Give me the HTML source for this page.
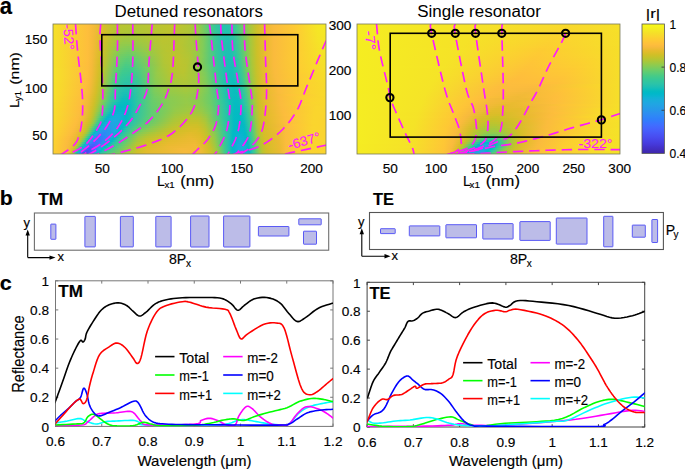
<!DOCTYPE html>
<html><head><meta charset="utf-8"><style>
html,body{margin:0;padding:0;background:#fff;}
svg{display:block;}
text{font-family:"Liberation Sans", sans-serif;stroke-width:0.15px;}
</style></head><body>
<svg width="685" height="471" viewBox="0 0 685 471">
<defs><linearGradient id="hl0"><stop offset="0" stop-color="#f5e128"/><stop offset="0.128" stop-color="#febe3c"/><stop offset="0.154" stop-color="#f2ba37"/><stop offset="0.19" stop-color="#d2bf27"/><stop offset="0.227" stop-color="#b8c431"/><stop offset="0.326" stop-color="#b5c533"/><stop offset="0.447" stop-color="#c1c32c"/><stop offset="0.498" stop-color="#b3c534"/><stop offset="0.535" stop-color="#91ca4c"/><stop offset="0.579" stop-color="#47cb87"/><stop offset="0.601" stop-color="#30c5a1"/><stop offset="0.63" stop-color="#23c1af"/><stop offset="0.652" stop-color="#2dc4a6"/><stop offset="0.67" stop-color="#3fca8e"/><stop offset="0.718" stop-color="#a0c841"/><stop offset="0.744" stop-color="#c9c129"/><stop offset="0.773" stop-color="#e7bb2e"/><stop offset="0.81" stop-color="#fabb3d"/><stop offset="0.886" stop-color="#feca33"/><stop offset="0.967" stop-color="#f5e725"/><stop offset="1" stop-color="#f5eb23"/></linearGradient><linearGradient id="hl1"><stop offset="0" stop-color="#f5e128"/><stop offset="0.128" stop-color="#febe3c"/><stop offset="0.15" stop-color="#f4ba39"/><stop offset="0.187" stop-color="#d5be28"/><stop offset="0.223" stop-color="#b9c431"/><stop offset="0.3" stop-color="#b2c635"/><stop offset="0.443" stop-color="#c0c32d"/><stop offset="0.498" stop-color="#b2c635"/><stop offset="0.535" stop-color="#92ca4b"/><stop offset="0.571" stop-color="#55cc7c"/><stop offset="0.593" stop-color="#36c799"/><stop offset="0.623" stop-color="#24c2ae"/><stop offset="0.645" stop-color="#26c2ac"/><stop offset="0.67" stop-color="#3eca8f"/><stop offset="0.714" stop-color="#99c946"/><stop offset="0.744" stop-color="#c9c129"/><stop offset="0.773" stop-color="#e7bb2e"/><stop offset="0.81" stop-color="#fabb3d"/><stop offset="0.886" stop-color="#feca33"/><stop offset="0.967" stop-color="#f5e625"/><stop offset="1" stop-color="#f5ea24"/></linearGradient><linearGradient id="hl2"><stop offset="0" stop-color="#f5e128"/><stop offset="0.128" stop-color="#febe3c"/><stop offset="0.15" stop-color="#f3ba39"/><stop offset="0.187" stop-color="#d5be28"/><stop offset="0.227" stop-color="#b6c532"/><stop offset="0.297" stop-color="#b0c636"/><stop offset="0.436" stop-color="#bfc32d"/><stop offset="0.498" stop-color="#b1c636"/><stop offset="0.535" stop-color="#93ca4b"/><stop offset="0.568" stop-color="#5dcc75"/><stop offset="0.59" stop-color="#39c994"/><stop offset="0.619" stop-color="#26c2ad"/><stop offset="0.641" stop-color="#23c1af"/><stop offset="0.663" stop-color="#34c79c"/><stop offset="0.681" stop-color="#52cc7e"/><stop offset="0.722" stop-color="#a6c83d"/><stop offset="0.747" stop-color="#cec028"/><stop offset="0.78" stop-color="#ecba32"/><stop offset="0.81" stop-color="#fabb3d"/><stop offset="0.886" stop-color="#feca33"/><stop offset="0.967" stop-color="#f5e626"/><stop offset="1" stop-color="#f5e924"/></linearGradient><linearGradient id="hl3"><stop offset="0" stop-color="#f5e128"/><stop offset="0.128" stop-color="#febe3c"/><stop offset="0.15" stop-color="#f3ba39"/><stop offset="0.187" stop-color="#d4bf28"/><stop offset="0.227" stop-color="#b5c533"/><stop offset="0.289" stop-color="#aec637"/><stop offset="0.429" stop-color="#bec32e"/><stop offset="0.495" stop-color="#b2c635"/><stop offset="0.531" stop-color="#98ca47"/><stop offset="0.56" stop-color="#6bcd69"/><stop offset="0.59" stop-color="#3ac994"/><stop offset="0.619" stop-color="#26c2ad"/><stop offset="0.641" stop-color="#22c1af"/><stop offset="0.663" stop-color="#33c69d"/><stop offset="0.681" stop-color="#50cc80"/><stop offset="0.722" stop-color="#a5c83d"/><stop offset="0.747" stop-color="#cec028"/><stop offset="0.78" stop-color="#ecba32"/><stop offset="0.81" stop-color="#fabb3d"/><stop offset="0.886" stop-color="#feca33"/><stop offset="0.967" stop-color="#f5e526"/><stop offset="1" stop-color="#f5e825"/></linearGradient><linearGradient id="hl4"><stop offset="0" stop-color="#f5e128"/><stop offset="0.128" stop-color="#febe3c"/><stop offset="0.15" stop-color="#f3ba39"/><stop offset="0.187" stop-color="#d3bf27"/><stop offset="0.227" stop-color="#b4c533"/><stop offset="0.286" stop-color="#acc739"/><stop offset="0.425" stop-color="#bec32e"/><stop offset="0.495" stop-color="#b1c635"/><stop offset="0.531" stop-color="#98c947"/><stop offset="0.56" stop-color="#6ccd68"/><stop offset="0.59" stop-color="#3ac993"/><stop offset="0.619" stop-color="#26c2ad"/><stop offset="0.641" stop-color="#21c1b0"/><stop offset="0.663" stop-color="#32c69e"/><stop offset="0.678" stop-color="#46cb88"/><stop offset="0.722" stop-color="#a5c83d"/><stop offset="0.744" stop-color="#c9c129"/><stop offset="0.773" stop-color="#e7bb2e"/><stop offset="0.81" stop-color="#fabb3d"/><stop offset="0.89" stop-color="#fdcb33"/><stop offset="0.971" stop-color="#f5e526"/><stop offset="1" stop-color="#f5e825"/></linearGradient><linearGradient id="hl5"><stop offset="0" stop-color="#f5e128"/><stop offset="0.128" stop-color="#febe3c"/><stop offset="0.15" stop-color="#f3ba38"/><stop offset="0.183" stop-color="#d6be28"/><stop offset="0.227" stop-color="#b3c534"/><stop offset="0.282" stop-color="#a9c73a"/><stop offset="0.421" stop-color="#bdc32e"/><stop offset="0.495" stop-color="#b0c636"/><stop offset="0.531" stop-color="#98c946"/><stop offset="0.56" stop-color="#6dcd67"/><stop offset="0.59" stop-color="#3bc993"/><stop offset="0.619" stop-color="#26c2ad"/><stop offset="0.641" stop-color="#21c1b1"/><stop offset="0.663" stop-color="#31c6a0"/><stop offset="0.678" stop-color="#45cb89"/><stop offset="0.722" stop-color="#a5c83e"/><stop offset="0.744" stop-color="#c9c129"/><stop offset="0.773" stop-color="#e7bb2e"/><stop offset="0.81" stop-color="#fabb3d"/><stop offset="0.89" stop-color="#fdcb33"/><stop offset="0.971" stop-color="#f5e526"/><stop offset="1" stop-color="#f5e725"/></linearGradient><linearGradient id="hl6"><stop offset="0" stop-color="#f5e128"/><stop offset="0.128" stop-color="#febe3c"/><stop offset="0.15" stop-color="#f2ba38"/><stop offset="0.183" stop-color="#d5be28"/><stop offset="0.227" stop-color="#b1c635"/><stop offset="0.278" stop-color="#a5c83d"/><stop offset="0.414" stop-color="#bcc42f"/><stop offset="0.491" stop-color="#b1c635"/><stop offset="0.531" stop-color="#99c946"/><stop offset="0.56" stop-color="#6ecd67"/><stop offset="0.59" stop-color="#3bc992"/><stop offset="0.619" stop-color="#26c2ad"/><stop offset="0.641" stop-color="#20c1b1"/><stop offset="0.663" stop-color="#30c5a1"/><stop offset="0.681" stop-color="#4acb84"/><stop offset="0.722" stop-color="#a4c83e"/><stop offset="0.744" stop-color="#c9c129"/><stop offset="0.773" stop-color="#e7bb2e"/><stop offset="0.81" stop-color="#fabb3d"/><stop offset="0.89" stop-color="#fdcb33"/><stop offset="0.971" stop-color="#f5e427"/><stop offset="1" stop-color="#f5e625"/></linearGradient><linearGradient id="hl7"><stop offset="0" stop-color="#f5e128"/><stop offset="0.128" stop-color="#febe3c"/><stop offset="0.15" stop-color="#f2ba37"/><stop offset="0.183" stop-color="#d4bf28"/><stop offset="0.231" stop-color="#abc739"/><stop offset="0.275" stop-color="#9fc942"/><stop offset="0.414" stop-color="#bcc42f"/><stop offset="0.487" stop-color="#b2c535"/><stop offset="0.527" stop-color="#9cc944"/><stop offset="0.557" stop-color="#75cc61"/><stop offset="0.59" stop-color="#3cc992"/><stop offset="0.619" stop-color="#26c2ad"/><stop offset="0.641" stop-color="#1fc0b2"/><stop offset="0.663" stop-color="#2fc5a2"/><stop offset="0.681" stop-color="#49cb86"/><stop offset="0.722" stop-color="#a4c83e"/><stop offset="0.744" stop-color="#c9c129"/><stop offset="0.773" stop-color="#e7bb2e"/><stop offset="0.81" stop-color="#fabb3d"/><stop offset="0.89" stop-color="#fdcb33"/><stop offset="0.971" stop-color="#f5e427"/><stop offset="1" stop-color="#f5e626"/></linearGradient><linearGradient id="hl8"><stop offset="0" stop-color="#f5e128"/><stop offset="0.128" stop-color="#febe3c"/><stop offset="0.15" stop-color="#f1ba37"/><stop offset="0.179" stop-color="#d7be28"/><stop offset="0.216" stop-color="#b2c635"/><stop offset="0.26" stop-color="#9ac945"/><stop offset="0.304" stop-color="#9ec942"/><stop offset="0.403" stop-color="#bac430"/><stop offset="0.476" stop-color="#b5c533"/><stop offset="0.524" stop-color="#9fc941"/><stop offset="0.553" stop-color="#7ccc5c"/><stop offset="0.59" stop-color="#3cc991"/><stop offset="0.619" stop-color="#26c2ad"/><stop offset="0.645" stop-color="#1fc1b1"/><stop offset="0.667" stop-color="#32c69f"/><stop offset="0.681" stop-color="#47cb87"/><stop offset="0.722" stop-color="#a3c83f"/><stop offset="0.744" stop-color="#c9c129"/><stop offset="0.773" stop-color="#e7bb2e"/><stop offset="0.81" stop-color="#fabb3d"/><stop offset="0.89" stop-color="#fdcb33"/><stop offset="0.974" stop-color="#f5e427"/><stop offset="1" stop-color="#f5e526"/></linearGradient><linearGradient id="hl9"><stop offset="0" stop-color="#f5e128"/><stop offset="0.128" stop-color="#febe3c"/><stop offset="0.15" stop-color="#f1ba37"/><stop offset="0.179" stop-color="#d5be28"/><stop offset="0.212" stop-color="#b2c535"/><stop offset="0.253" stop-color="#97ca48"/><stop offset="0.293" stop-color="#95ca49"/><stop offset="0.403" stop-color="#b9c431"/><stop offset="0.473" stop-color="#b6c532"/><stop offset="0.52" stop-color="#a2c83f"/><stop offset="0.549" stop-color="#82cc58"/><stop offset="0.59" stop-color="#3dc991"/><stop offset="0.623" stop-color="#24c1af"/><stop offset="0.645" stop-color="#1ec0b2"/><stop offset="0.667" stop-color="#31c6a0"/><stop offset="0.681" stop-color="#45cb89"/><stop offset="0.722" stop-color="#a2c83f"/><stop offset="0.744" stop-color="#c9c129"/><stop offset="0.773" stop-color="#e7bb2e"/><stop offset="0.81" stop-color="#fabb3d"/><stop offset="0.894" stop-color="#fdcc32"/><stop offset="0.974" stop-color="#f5e327"/><stop offset="1" stop-color="#f5e526"/></linearGradient><linearGradient id="hl10"><stop offset="0" stop-color="#f5e128"/><stop offset="0.128" stop-color="#febe3c"/><stop offset="0.147" stop-color="#f4ba39"/><stop offset="0.176" stop-color="#d8be28"/><stop offset="0.205" stop-color="#b7c532"/><stop offset="0.249" stop-color="#92ca4b"/><stop offset="0.286" stop-color="#8dcb4f"/><stop offset="0.399" stop-color="#b7c532"/><stop offset="0.465" stop-color="#b8c431"/><stop offset="0.516" stop-color="#a4c83e"/><stop offset="0.549" stop-color="#82cc58"/><stop offset="0.593" stop-color="#39c895"/><stop offset="0.623" stop-color="#24c1ae"/><stop offset="0.645" stop-color="#1ec0b2"/><stop offset="0.667" stop-color="#30c5a1"/><stop offset="0.681" stop-color="#43ca8a"/><stop offset="0.722" stop-color="#a2c840"/><stop offset="0.744" stop-color="#c8c129"/><stop offset="0.773" stop-color="#e7bb2e"/><stop offset="0.81" stop-color="#fabb3d"/><stop offset="0.894" stop-color="#fdcc32"/><stop offset="0.978" stop-color="#f5e327"/><stop offset="1" stop-color="#f5e526"/></linearGradient><linearGradient id="hl11"><stop offset="0" stop-color="#f5e128"/><stop offset="0.128" stop-color="#febe3c"/><stop offset="0.147" stop-color="#f3ba39"/><stop offset="0.176" stop-color="#d7be28"/><stop offset="0.201" stop-color="#b9c431"/><stop offset="0.245" stop-color="#8fcb4e"/><stop offset="0.278" stop-color="#85cb55"/><stop offset="0.403" stop-color="#b7c532"/><stop offset="0.469" stop-color="#b8c431"/><stop offset="0.516" stop-color="#a4c83e"/><stop offset="0.549" stop-color="#82cc58"/><stop offset="0.593" stop-color="#39c994"/><stop offset="0.626" stop-color="#21c1b0"/><stop offset="0.648" stop-color="#1ec0b2"/><stop offset="0.67" stop-color="#33c69e"/><stop offset="0.685" stop-color="#49cb85"/><stop offset="0.725" stop-color="#a9c73b"/><stop offset="0.747" stop-color="#cdc028"/><stop offset="0.78" stop-color="#ecba32"/><stop offset="0.81" stop-color="#fabb3d"/><stop offset="0.894" stop-color="#fdcc32"/><stop offset="0.978" stop-color="#f5e327"/><stop offset="1" stop-color="#f5e427"/></linearGradient><linearGradient id="hl12"><stop offset="0" stop-color="#f5e128"/><stop offset="0.128" stop-color="#febe3c"/><stop offset="0.147" stop-color="#f3ba39"/><stop offset="0.176" stop-color="#d6be28"/><stop offset="0.201" stop-color="#b7c532"/><stop offset="0.249" stop-color="#87cb54"/><stop offset="0.282" stop-color="#7fcc5a"/><stop offset="0.403" stop-color="#b6c532"/><stop offset="0.465" stop-color="#bac430"/><stop offset="0.513" stop-color="#a7c73c"/><stop offset="0.549" stop-color="#81cc58"/><stop offset="0.593" stop-color="#3ac994"/><stop offset="0.626" stop-color="#21c1b0"/><stop offset="0.648" stop-color="#1dc0b3"/><stop offset="0.67" stop-color="#32c69f"/><stop offset="0.685" stop-color="#47cb87"/><stop offset="0.725" stop-color="#a8c73b"/><stop offset="0.747" stop-color="#cdc028"/><stop offset="0.78" stop-color="#ecba32"/><stop offset="0.81" stop-color="#fabb3d"/><stop offset="0.894" stop-color="#fdcc32"/><stop offset="0.978" stop-color="#f5e227"/><stop offset="1" stop-color="#f5e427"/></linearGradient><linearGradient id="hl13"><stop offset="0" stop-color="#f5e128"/><stop offset="0.128" stop-color="#febe3c"/><stop offset="0.147" stop-color="#f3ba38"/><stop offset="0.176" stop-color="#d5be28"/><stop offset="0.201" stop-color="#b4c533"/><stop offset="0.249" stop-color="#81cc59"/><stop offset="0.278" stop-color="#77cc60"/><stop offset="0.341" stop-color="#96ca48"/><stop offset="0.418" stop-color="#b9c430"/><stop offset="0.476" stop-color="#b8c431"/><stop offset="0.52" stop-color="#a1c840"/><stop offset="0.553" stop-color="#7bcc5d"/><stop offset="0.593" stop-color="#3ac993"/><stop offset="0.626" stop-color="#21c1b0"/><stop offset="0.648" stop-color="#1cc0b3"/><stop offset="0.67" stop-color="#31c5a1"/><stop offset="0.685" stop-color="#46cb88"/><stop offset="0.725" stop-color="#a8c73b"/><stop offset="0.747" stop-color="#cdc028"/><stop offset="0.78" stop-color="#ecba32"/><stop offset="0.81" stop-color="#fabb3d"/><stop offset="0.894" stop-color="#fdcc32"/><stop offset="0.982" stop-color="#f5e227"/><stop offset="1" stop-color="#f5e427"/></linearGradient><linearGradient id="hl14"><stop offset="0" stop-color="#f5e128"/><stop offset="0.128" stop-color="#febe3c"/><stop offset="0.147" stop-color="#f2ba38"/><stop offset="0.172" stop-color="#d8be28"/><stop offset="0.194" stop-color="#bcc42f"/><stop offset="0.245" stop-color="#7ecc5b"/><stop offset="0.275" stop-color="#70cd65"/><stop offset="0.311" stop-color="#7ecc5a"/><stop offset="0.399" stop-color="#b2c535"/><stop offset="0.451" stop-color="#bdc32e"/><stop offset="0.498" stop-color="#b0c636"/><stop offset="0.542" stop-color="#8acb52"/><stop offset="0.597" stop-color="#37c897"/><stop offset="0.63" stop-color="#1fc0b2"/><stop offset="0.652" stop-color="#1dc0b3"/><stop offset="0.674" stop-color="#33c79d"/><stop offset="0.689" stop-color="#4ccb83"/><stop offset="0.725" stop-color="#a7c73c"/><stop offset="0.747" stop-color="#cdc028"/><stop offset="0.777" stop-color="#eabb30"/><stop offset="0.81" stop-color="#fabb3d"/><stop offset="0.897" stop-color="#fdcd32"/><stop offset="0.985" stop-color="#f5e227"/><stop offset="1" stop-color="#f5e327"/></linearGradient><linearGradient id="hl15"><stop offset="0" stop-color="#f5e128"/><stop offset="0.128" stop-color="#febe3c"/><stop offset="0.147" stop-color="#f2ba38"/><stop offset="0.172" stop-color="#d7be28"/><stop offset="0.194" stop-color="#bac430"/><stop offset="0.249" stop-color="#74cc62"/><stop offset="0.278" stop-color="#69cd6b"/><stop offset="0.322" stop-color="#80cc59"/><stop offset="0.407" stop-color="#b5c533"/><stop offset="0.458" stop-color="#bec32e"/><stop offset="0.502" stop-color="#afc637"/><stop offset="0.546" stop-color="#84cc56"/><stop offset="0.597" stop-color="#38c897"/><stop offset="0.63" stop-color="#1fc0b2"/><stop offset="0.652" stop-color="#1cc0b3"/><stop offset="0.674" stop-color="#32c69e"/><stop offset="0.689" stop-color="#4acb84"/><stop offset="0.725" stop-color="#a6c73c"/><stop offset="0.747" stop-color="#cdc028"/><stop offset="0.777" stop-color="#eabb30"/><stop offset="0.81" stop-color="#fabb3d"/><stop offset="0.897" stop-color="#fdcd32"/><stop offset="0.989" stop-color="#f5e227"/><stop offset="1" stop-color="#f5e327"/></linearGradient><linearGradient id="hl16"><stop offset="0" stop-color="#f5e128"/><stop offset="0.128" stop-color="#febe3c"/><stop offset="0.147" stop-color="#f2ba38"/><stop offset="0.172" stop-color="#d6be28"/><stop offset="0.194" stop-color="#b8c431"/><stop offset="0.249" stop-color="#6ecd67"/><stop offset="0.278" stop-color="#62cd70"/><stop offset="0.319" stop-color="#77cc60"/><stop offset="0.407" stop-color="#b4c534"/><stop offset="0.454" stop-color="#bfc32d"/><stop offset="0.498" stop-color="#b2c635"/><stop offset="0.546" stop-color="#84cc56"/><stop offset="0.597" stop-color="#38c896"/><stop offset="0.63" stop-color="#1fc0b2"/><stop offset="0.652" stop-color="#1bc0b4"/><stop offset="0.674" stop-color="#31c6a0"/><stop offset="0.689" stop-color="#48cb86"/><stop offset="0.725" stop-color="#a6c83d"/><stop offset="0.747" stop-color="#ccc028"/><stop offset="0.777" stop-color="#eabb30"/><stop offset="0.81" stop-color="#fabb3d"/><stop offset="0.897" stop-color="#fdcd32"/><stop offset="0.989" stop-color="#f5e227"/><stop offset="1" stop-color="#f5e327"/></linearGradient><linearGradient id="hl17"><stop offset="0" stop-color="#f5e128"/><stop offset="0.128" stop-color="#febe3c"/><stop offset="0.143" stop-color="#f5ba3a"/><stop offset="0.168" stop-color="#dabd28"/><stop offset="0.19" stop-color="#bcc42f"/><stop offset="0.245" stop-color="#6ccd68"/><stop offset="0.271" stop-color="#5ccc75"/><stop offset="0.3" stop-color="#64cd6f"/><stop offset="0.407" stop-color="#b3c534"/><stop offset="0.454" stop-color="#c0c32d"/><stop offset="0.495" stop-color="#b5c533"/><stop offset="0.542" stop-color="#88cb53"/><stop offset="0.597" stop-color="#39c895"/><stop offset="0.63" stop-color="#1fc0b1"/><stop offset="0.652" stop-color="#1ac0b4"/><stop offset="0.674" stop-color="#30c5a1"/><stop offset="0.689" stop-color="#46cb88"/><stop offset="0.725" stop-color="#a5c83e"/><stop offset="0.744" stop-color="#c7c12a"/><stop offset="0.773" stop-color="#e7bb2e"/><stop offset="0.81" stop-color="#fabb3d"/><stop offset="0.901" stop-color="#fdce31"/><stop offset="0.996" stop-color="#f5e227"/><stop offset="1" stop-color="#f5e227"/></linearGradient><linearGradient id="hl18"><stop offset="0" stop-color="#f5e128"/><stop offset="0.128" stop-color="#febe3c"/><stop offset="0.143" stop-color="#f5ba3a"/><stop offset="0.168" stop-color="#d9be28"/><stop offset="0.19" stop-color="#b9c430"/><stop offset="0.245" stop-color="#66cd6e"/><stop offset="0.271" stop-color="#56cc7b"/><stop offset="0.3" stop-color="#5fcd73"/><stop offset="0.407" stop-color="#b2c635"/><stop offset="0.454" stop-color="#c0c32d"/><stop offset="0.495" stop-color="#b5c533"/><stop offset="0.542" stop-color="#88cb53"/><stop offset="0.601" stop-color="#36c799"/><stop offset="0.634" stop-color="#1dc0b3"/><stop offset="0.656" stop-color="#1bc0b4"/><stop offset="0.678" stop-color="#32c69e"/><stop offset="0.692" stop-color="#4ccb83"/><stop offset="0.729" stop-color="#acc739"/><stop offset="0.747" stop-color="#ccc028"/><stop offset="0.777" stop-color="#e9bb30"/><stop offset="0.81" stop-color="#fabb3d"/><stop offset="0.901" stop-color="#fdce31"/><stop offset="0.996" stop-color="#f5e228"/><stop offset="1" stop-color="#f5e227"/></linearGradient><linearGradient id="hl19"><stop offset="0" stop-color="#f5e128"/><stop offset="0.128" stop-color="#febd3c"/><stop offset="0.143" stop-color="#f5ba3a"/><stop offset="0.168" stop-color="#d8be28"/><stop offset="0.187" stop-color="#bdc32e"/><stop offset="0.242" stop-color="#64cd6f"/><stop offset="0.267" stop-color="#51cc7f"/><stop offset="0.293" stop-color="#55cc7c"/><stop offset="0.407" stop-color="#b1c636"/><stop offset="0.454" stop-color="#c0c32d"/><stop offset="0.495" stop-color="#b5c533"/><stop offset="0.542" stop-color="#88cb53"/><stop offset="0.601" stop-color="#36c898"/><stop offset="0.634" stop-color="#1dc0b3"/><stop offset="0.656" stop-color="#1abfb5"/><stop offset="0.678" stop-color="#31c6a0"/><stop offset="0.692" stop-color="#49cb85"/><stop offset="0.729" stop-color="#abc739"/><stop offset="0.747" stop-color="#ccc028"/><stop offset="0.777" stop-color="#e9bb30"/><stop offset="0.81" stop-color="#fabb3d"/><stop offset="0.905" stop-color="#fccf31"/><stop offset="1" stop-color="#f5e228"/></linearGradient><linearGradient id="hl20"><stop offset="0" stop-color="#f5e128"/><stop offset="0.128" stop-color="#febd3c"/><stop offset="0.143" stop-color="#f4ba3a"/><stop offset="0.168" stop-color="#d6be28"/><stop offset="0.187" stop-color="#bbc42f"/><stop offset="0.242" stop-color="#5fcd73"/><stop offset="0.267" stop-color="#4bcb84"/><stop offset="0.293" stop-color="#4fcc81"/><stop offset="0.403" stop-color="#adc638"/><stop offset="0.447" stop-color="#bfc32e"/><stop offset="0.487" stop-color="#b9c430"/><stop offset="0.527" stop-color="#99c946"/><stop offset="0.571" stop-color="#61cd72"/><stop offset="0.601" stop-color="#37c897"/><stop offset="0.634" stop-color="#1dc0b3"/><stop offset="0.656" stop-color="#18bfb6"/><stop offset="0.678" stop-color="#2fc5a2"/><stop offset="0.692" stop-color="#46cb88"/><stop offset="0.729" stop-color="#aac73a"/><stop offset="0.747" stop-color="#cbc029"/><stop offset="0.777" stop-color="#e9bb30"/><stop offset="0.81" stop-color="#fabb3d"/><stop offset="0.905" stop-color="#fdce31"/><stop offset="1" stop-color="#f5e128"/></linearGradient><linearGradient id="hl21"><stop offset="0" stop-color="#f5e128"/><stop offset="0.128" stop-color="#fdbd3d"/><stop offset="0.143" stop-color="#f4ba39"/><stop offset="0.168" stop-color="#d5be28"/><stop offset="0.187" stop-color="#b9c431"/><stop offset="0.238" stop-color="#5ecd74"/><stop offset="0.264" stop-color="#47cb87"/><stop offset="0.289" stop-color="#47cb87"/><stop offset="0.337" stop-color="#70cd65"/><stop offset="0.403" stop-color="#acc739"/><stop offset="0.447" stop-color="#bec32e"/><stop offset="0.487" stop-color="#b9c431"/><stop offset="0.527" stop-color="#9ac945"/><stop offset="0.568" stop-color="#67cd6c"/><stop offset="0.601" stop-color="#38c896"/><stop offset="0.634" stop-color="#1dc0b3"/><stop offset="0.656" stop-color="#16bfb7"/><stop offset="0.678" stop-color="#2ec4a4"/><stop offset="0.692" stop-color="#43ca8a"/><stop offset="0.725" stop-color="#a0c941"/><stop offset="0.744" stop-color="#c6c22a"/><stop offset="0.769" stop-color="#e3bb2c"/><stop offset="0.81" stop-color="#fabb3d"/><stop offset="0.901" stop-color="#fdcd32"/><stop offset="1" stop-color="#f6e128"/></linearGradient><linearGradient id="hl22"><stop offset="0" stop-color="#f5e228"/><stop offset="0.128" stop-color="#fdbd3d"/><stop offset="0.143" stop-color="#f4ba39"/><stop offset="0.168" stop-color="#d4bf28"/><stop offset="0.187" stop-color="#b6c532"/><stop offset="0.238" stop-color="#59cc78"/><stop offset="0.264" stop-color="#41ca8c"/><stop offset="0.289" stop-color="#42ca8b"/><stop offset="0.33" stop-color="#64cd6f"/><stop offset="0.388" stop-color="#9fc941"/><stop offset="0.432" stop-color="#b9c430"/><stop offset="0.48" stop-color="#bbc42f"/><stop offset="0.516" stop-color="#a5c83d"/><stop offset="0.56" stop-color="#74cc62"/><stop offset="0.601" stop-color="#39c895"/><stop offset="0.634" stop-color="#1dc0b3"/><stop offset="0.656" stop-color="#15bfb8"/><stop offset="0.678" stop-color="#2cc4a6"/><stop offset="0.692" stop-color="#40ca8d"/><stop offset="0.725" stop-color="#9ec942"/><stop offset="0.744" stop-color="#c5c22a"/><stop offset="0.769" stop-color="#e3bc2c"/><stop offset="0.81" stop-color="#f9bb3d"/><stop offset="0.897" stop-color="#fdcc32"/><stop offset="1" stop-color="#f6e028"/></linearGradient><linearGradient id="hl23"><stop offset="0" stop-color="#f5e228"/><stop offset="0.125" stop-color="#febe3c"/><stop offset="0.143" stop-color="#f3ba39"/><stop offset="0.165" stop-color="#d8be28"/><stop offset="0.183" stop-color="#bbc430"/><stop offset="0.234" stop-color="#59cc78"/><stop offset="0.256" stop-color="#40ca8d"/><stop offset="0.286" stop-color="#3cc991"/><stop offset="0.319" stop-color="#54cc7c"/><stop offset="0.385" stop-color="#9bc944"/><stop offset="0.432" stop-color="#b7c531"/><stop offset="0.48" stop-color="#bac430"/><stop offset="0.52" stop-color="#a2c83f"/><stop offset="0.56" stop-color="#76cc61"/><stop offset="0.601" stop-color="#39c994"/><stop offset="0.634" stop-color="#1dc0b3"/><stop offset="0.656" stop-color="#13beb8"/><stop offset="0.678" stop-color="#2ac3a8"/><stop offset="0.692" stop-color="#3eca8f"/><stop offset="0.725" stop-color="#9dc943"/><stop offset="0.744" stop-color="#c5c22a"/><stop offset="0.769" stop-color="#e3bc2c"/><stop offset="0.813" stop-color="#fabb3d"/><stop offset="0.916" stop-color="#fcd12f"/><stop offset="1" stop-color="#f6df29"/></linearGradient><linearGradient id="hl24"><stop offset="0" stop-color="#f5e228"/><stop offset="0.125" stop-color="#febe3c"/><stop offset="0.143" stop-color="#f3ba38"/><stop offset="0.165" stop-color="#d7be28"/><stop offset="0.183" stop-color="#b9c431"/><stop offset="0.231" stop-color="#59cc78"/><stop offset="0.253" stop-color="#3eca8f"/><stop offset="0.282" stop-color="#38c896"/><stop offset="0.311" stop-color="#48cb86"/><stop offset="0.381" stop-color="#97ca48"/><stop offset="0.429" stop-color="#b4c533"/><stop offset="0.476" stop-color="#b9c430"/><stop offset="0.516" stop-color="#a6c73c"/><stop offset="0.557" stop-color="#7ecc5b"/><stop offset="0.604" stop-color="#36c898"/><stop offset="0.637" stop-color="#1ac0b5"/><stop offset="0.656" stop-color="#12beb9"/><stop offset="0.674" stop-color="#24c1af"/><stop offset="0.696" stop-color="#43ca8a"/><stop offset="0.729" stop-color="#a5c83e"/><stop offset="0.747" stop-color="#cac129"/><stop offset="0.777" stop-color="#e9bb2f"/><stop offset="0.813" stop-color="#fabb3d"/><stop offset="0.908" stop-color="#fdce31"/><stop offset="1" stop-color="#f6de29"/></linearGradient><linearGradient id="hl25"><stop offset="0" stop-color="#f5e228"/><stop offset="0.125" stop-color="#febe3c"/><stop offset="0.143" stop-color="#f2ba38"/><stop offset="0.165" stop-color="#d6be28"/><stop offset="0.183" stop-color="#b6c532"/><stop offset="0.231" stop-color="#54cc7c"/><stop offset="0.253" stop-color="#3ac993"/><stop offset="0.282" stop-color="#35c79a"/><stop offset="0.311" stop-color="#44ca8a"/><stop offset="0.381" stop-color="#96ca48"/><stop offset="0.429" stop-color="#b2c535"/><stop offset="0.48" stop-color="#b7c532"/><stop offset="0.524" stop-color="#a2c83f"/><stop offset="0.56" stop-color="#7bcc5d"/><stop offset="0.604" stop-color="#37c897"/><stop offset="0.641" stop-color="#17bfb6"/><stop offset="0.659" stop-color="#12beb9"/><stop offset="0.681" stop-color="#2bc3a7"/><stop offset="0.696" stop-color="#40ca8d"/><stop offset="0.725" stop-color="#99c946"/><stop offset="0.744" stop-color="#c4c22b"/><stop offset="0.766" stop-color="#e0bc2a"/><stop offset="0.813" stop-color="#f9bb3d"/><stop offset="0.897" stop-color="#fdcb33"/><stop offset="1" stop-color="#f6de29"/></linearGradient><linearGradient id="hl26"><stop offset="0" stop-color="#f5e228"/><stop offset="0.125" stop-color="#febe3c"/><stop offset="0.139" stop-color="#f5ba3b"/><stop offset="0.165" stop-color="#d5be28"/><stop offset="0.183" stop-color="#b4c534"/><stop offset="0.227" stop-color="#55cc7c"/><stop offset="0.249" stop-color="#39c995"/><stop offset="0.278" stop-color="#32c69f"/><stop offset="0.311" stop-color="#40ca8d"/><stop offset="0.377" stop-color="#92ca4c"/><stop offset="0.425" stop-color="#afc637"/><stop offset="0.48" stop-color="#b5c533"/><stop offset="0.524" stop-color="#a3c83f"/><stop offset="0.557" stop-color="#82cc58"/><stop offset="0.604" stop-color="#38c896"/><stop offset="0.641" stop-color="#17bfb6"/><stop offset="0.659" stop-color="#10beba"/><stop offset="0.678" stop-color="#24c2ae"/><stop offset="0.696" stop-color="#3eca8f"/><stop offset="0.725" stop-color="#97ca47"/><stop offset="0.744" stop-color="#c3c22b"/><stop offset="0.766" stop-color="#dfbc2a"/><stop offset="0.813" stop-color="#f9bb3d"/><stop offset="0.89" stop-color="#fec934"/><stop offset="1" stop-color="#f7dd2a"/></linearGradient><linearGradient id="hl27"><stop offset="0" stop-color="#f5e228"/><stop offset="0.125" stop-color="#febd3c"/><stop offset="0.139" stop-color="#f5ba3a"/><stop offset="0.165" stop-color="#d3bf27"/><stop offset="0.183" stop-color="#b1c635"/><stop offset="0.227" stop-color="#50cc80"/><stop offset="0.245" stop-color="#39c895"/><stop offset="0.275" stop-color="#2fc5a2"/><stop offset="0.308" stop-color="#3ac994"/><stop offset="0.341" stop-color="#61cd71"/><stop offset="0.377" stop-color="#90ca4d"/><stop offset="0.425" stop-color="#acc738"/><stop offset="0.484" stop-color="#b3c534"/><stop offset="0.527" stop-color="#a1c840"/><stop offset="0.56" stop-color="#7ecc5a"/><stop offset="0.604" stop-color="#39c895"/><stop offset="0.641" stop-color="#18bfb6"/><stop offset="0.659" stop-color="#0fbeba"/><stop offset="0.674" stop-color="#1cc0b3"/><stop offset="0.692" stop-color="#35c79a"/><stop offset="0.703" stop-color="#4ecc81"/><stop offset="0.733" stop-color="#aac73a"/><stop offset="0.751" stop-color="#cec028"/><stop offset="0.78" stop-color="#eaba31"/><stop offset="0.821" stop-color="#fabc3d"/><stop offset="0.927" stop-color="#fbd22f"/><stop offset="1" stop-color="#f7dc2a"/></linearGradient><linearGradient id="hl28"><stop offset="0" stop-color="#f5e228"/><stop offset="0.121" stop-color="#febe3c"/><stop offset="0.139" stop-color="#f4ba39"/><stop offset="0.161" stop-color="#d8be28"/><stop offset="0.176" stop-color="#bec32e"/><stop offset="0.205" stop-color="#7acc5e"/><stop offset="0.231" stop-color="#45cb88"/><stop offset="0.253" stop-color="#32c69f"/><stop offset="0.282" stop-color="#2dc4a5"/><stop offset="0.315" stop-color="#3dc990"/><stop offset="0.374" stop-color="#8bcb51"/><stop offset="0.418" stop-color="#a7c73c"/><stop offset="0.48" stop-color="#b1c635"/><stop offset="0.527" stop-color="#a1c840"/><stop offset="0.56" stop-color="#80cc59"/><stop offset="0.604" stop-color="#3ac994"/><stop offset="0.641" stop-color="#18bfb6"/><stop offset="0.659" stop-color="#0ebebb"/><stop offset="0.674" stop-color="#1abfb5"/><stop offset="0.692" stop-color="#34c79c"/><stop offset="0.703" stop-color="#4bcb84"/><stop offset="0.733" stop-color="#a9c73b"/><stop offset="0.751" stop-color="#cec028"/><stop offset="0.78" stop-color="#eabb30"/><stop offset="0.821" stop-color="#fabb3d"/><stop offset="0.923" stop-color="#fcd12f"/><stop offset="1" stop-color="#f7dc2a"/></linearGradient><linearGradient id="hl29"><stop offset="0" stop-color="#f5e128"/><stop offset="0.121" stop-color="#febe3c"/><stop offset="0.139" stop-color="#f3ba39"/><stop offset="0.161" stop-color="#d6be28"/><stop offset="0.176" stop-color="#bbc42f"/><stop offset="0.22" stop-color="#55cc7c"/><stop offset="0.238" stop-color="#39c895"/><stop offset="0.267" stop-color="#2bc3a8"/><stop offset="0.297" stop-color="#30c5a2"/><stop offset="0.322" stop-color="#42ca8b"/><stop offset="0.374" stop-color="#89cb53"/><stop offset="0.414" stop-color="#a2c83f"/><stop offset="0.48" stop-color="#afc637"/><stop offset="0.527" stop-color="#a1c840"/><stop offset="0.557" stop-color="#86cb55"/><stop offset="0.608" stop-color="#37c898"/><stop offset="0.645" stop-color="#15bfb8"/><stop offset="0.663" stop-color="#0ebdbb"/><stop offset="0.678" stop-color="#1cc0b3"/><stop offset="0.696" stop-color="#37c897"/><stop offset="0.711" stop-color="#5fcd73"/><stop offset="0.733" stop-color="#a7c73c"/><stop offset="0.747" stop-color="#c7c129"/><stop offset="0.773" stop-color="#e5bb2d"/><stop offset="0.821" stop-color="#fabb3d"/><stop offset="0.912" stop-color="#fdce31"/><stop offset="1" stop-color="#f7db2b"/></linearGradient><linearGradient id="hl30"><stop offset="0" stop-color="#f5e128"/><stop offset="0.121" stop-color="#febd3c"/><stop offset="0.139" stop-color="#f2ba38"/><stop offset="0.161" stop-color="#d4bf28"/><stop offset="0.176" stop-color="#b9c431"/><stop offset="0.216" stop-color="#57cc7a"/><stop offset="0.234" stop-color="#39c895"/><stop offset="0.264" stop-color="#28c3aa"/><stop offset="0.293" stop-color="#2cc4a6"/><stop offset="0.322" stop-color="#40ca8d"/><stop offset="0.37" stop-color="#83cc57"/><stop offset="0.407" stop-color="#9cc943"/><stop offset="0.476" stop-color="#acc738"/><stop offset="0.524" stop-color="#a2c840"/><stop offset="0.557" stop-color="#86cb55"/><stop offset="0.608" stop-color="#37c897"/><stop offset="0.645" stop-color="#15bfb8"/><stop offset="0.663" stop-color="#0cbdbc"/><stop offset="0.678" stop-color="#1abfb5"/><stop offset="0.696" stop-color="#35c79a"/><stop offset="0.707" stop-color="#50cc80"/><stop offset="0.733" stop-color="#a5c83d"/><stop offset="0.747" stop-color="#c7c12a"/><stop offset="0.773" stop-color="#e4bb2c"/><stop offset="0.824" stop-color="#fabc3d"/><stop offset="0.93" stop-color="#fbd22f"/><stop offset="1" stop-color="#f8da2b"/></linearGradient><linearGradient id="hl31"><stop offset="0" stop-color="#f5e128"/><stop offset="0.117" stop-color="#febe3c"/><stop offset="0.136" stop-color="#f4ba3a"/><stop offset="0.161" stop-color="#d2bf27"/><stop offset="0.176" stop-color="#b6c532"/><stop offset="0.216" stop-color="#52cc7e"/><stop offset="0.234" stop-color="#36c799"/><stop offset="0.264" stop-color="#25c2ad"/><stop offset="0.293" stop-color="#2bc3a8"/><stop offset="0.326" stop-color="#43ca8a"/><stop offset="0.374" stop-color="#84cc56"/><stop offset="0.414" stop-color="#9cc944"/><stop offset="0.484" stop-color="#a9c73a"/><stop offset="0.531" stop-color="#9cc944"/><stop offset="0.56" stop-color="#81cc59"/><stop offset="0.608" stop-color="#38c896"/><stop offset="0.645" stop-color="#15bfb7"/><stop offset="0.663" stop-color="#0bbdbc"/><stop offset="0.678" stop-color="#17bfb6"/><stop offset="0.696" stop-color="#34c79c"/><stop offset="0.707" stop-color="#4ccb83"/><stop offset="0.736" stop-color="#aec637"/><stop offset="0.751" stop-color="#ccc028"/><stop offset="0.777" stop-color="#e7bb2e"/><stop offset="0.824" stop-color="#fabb3d"/><stop offset="0.927" stop-color="#fcd12f"/><stop offset="1" stop-color="#f8da2b"/></linearGradient><linearGradient id="hl32"><stop offset="0" stop-color="#f6e128"/><stop offset="0.117" stop-color="#febd3c"/><stop offset="0.136" stop-color="#f3ba39"/><stop offset="0.158" stop-color="#d6be28"/><stop offset="0.172" stop-color="#bbc430"/><stop offset="0.198" stop-color="#7acc5e"/><stop offset="0.223" stop-color="#3fca8e"/><stop offset="0.249" stop-color="#29c3aa"/><stop offset="0.275" stop-color="#20c1b1"/><stop offset="0.308" stop-color="#32c69e"/><stop offset="0.333" stop-color="#4ccb83"/><stop offset="0.374" stop-color="#81cc58"/><stop offset="0.418" stop-color="#9ac945"/><stop offset="0.487" stop-color="#a6c83d"/><stop offset="0.535" stop-color="#98c947"/><stop offset="0.564" stop-color="#7bcc5d"/><stop offset="0.608" stop-color="#39c995"/><stop offset="0.645" stop-color="#16bfb7"/><stop offset="0.663" stop-color="#0bbdbd"/><stop offset="0.678" stop-color="#14bfb8"/><stop offset="0.696" stop-color="#32c69f"/><stop offset="0.707" stop-color="#49cb85"/><stop offset="0.736" stop-color="#acc738"/><stop offset="0.751" stop-color="#cbc029"/><stop offset="0.777" stop-color="#e7bb2d"/><stop offset="0.824" stop-color="#fabb3d"/><stop offset="0.916" stop-color="#fccf30"/><stop offset="1" stop-color="#f8da2b"/></linearGradient><linearGradient id="hl33"><stop offset="0" stop-color="#f6e028"/><stop offset="0.114" stop-color="#febe3c"/><stop offset="0.132" stop-color="#f5ba3a"/><stop offset="0.158" stop-color="#d4bf28"/><stop offset="0.172" stop-color="#b8c431"/><stop offset="0.198" stop-color="#75cc61"/><stop offset="0.22" stop-color="#41ca8c"/><stop offset="0.245" stop-color="#28c3ab"/><stop offset="0.271" stop-color="#1cc0b4"/><stop offset="0.304" stop-color="#2fc5a3"/><stop offset="0.33" stop-color="#46cb88"/><stop offset="0.37" stop-color="#7bcc5d"/><stop offset="0.41" stop-color="#93ca4a"/><stop offset="0.487" stop-color="#a3c83f"/><stop offset="0.535" stop-color="#96ca49"/><stop offset="0.564" stop-color="#7bcc5d"/><stop offset="0.612" stop-color="#37c898"/><stop offset="0.648" stop-color="#12beb9"/><stop offset="0.667" stop-color="#0abdbd"/><stop offset="0.678" stop-color="#12beb9"/><stop offset="0.696" stop-color="#30c5a1"/><stop offset="0.707" stop-color="#46cb88"/><stop offset="0.736" stop-color="#aac739"/><stop offset="0.751" stop-color="#cbc129"/><stop offset="0.777" stop-color="#e6bb2d"/><stop offset="0.828" stop-color="#fbbc3d"/><stop offset="0.934" stop-color="#fbd22f"/><stop offset="1" stop-color="#f8d92b"/></linearGradient><linearGradient id="hl34"><stop offset="0" stop-color="#f6e028"/><stop offset="0.114" stop-color="#febd3c"/><stop offset="0.132" stop-color="#f4ba39"/><stop offset="0.158" stop-color="#d2bf27"/><stop offset="0.176" stop-color="#acc738"/><stop offset="0.212" stop-color="#4bcb83"/><stop offset="0.227" stop-color="#34c79b"/><stop offset="0.256" stop-color="#1bc0b4"/><stop offset="0.278" stop-color="#1bc0b4"/><stop offset="0.315" stop-color="#36c799"/><stop offset="0.37" stop-color="#78cc5f"/><stop offset="0.414" stop-color="#91ca4c"/><stop offset="0.487" stop-color="#9fc941"/><stop offset="0.538" stop-color="#91ca4d"/><stop offset="0.568" stop-color="#75cc61"/><stop offset="0.612" stop-color="#37c897"/><stop offset="0.648" stop-color="#12beb9"/><stop offset="0.667" stop-color="#09bcbe"/><stop offset="0.678" stop-color="#0fbebb"/><stop offset="0.696" stop-color="#2fc5a3"/><stop offset="0.707" stop-color="#42ca8b"/><stop offset="0.733" stop-color="#9dc943"/><stop offset="0.747" stop-color="#c3c22b"/><stop offset="0.769" stop-color="#e0bc2b"/><stop offset="0.828" stop-color="#fabc3d"/><stop offset="0.93" stop-color="#fbd22f"/><stop offset="1" stop-color="#f8d92c"/></linearGradient><linearGradient id="hl35"><stop offset="0" stop-color="#f6e028"/><stop offset="0.11" stop-color="#febe3c"/><stop offset="0.128" stop-color="#f5ba3b"/><stop offset="0.154" stop-color="#d6be28"/><stop offset="0.168" stop-color="#bac430"/><stop offset="0.19" stop-color="#81cc59"/><stop offset="0.216" stop-color="#3fca8e"/><stop offset="0.242" stop-color="#25c2ae"/><stop offset="0.264" stop-color="#14beb8"/><stop offset="0.286" stop-color="#1dc0b3"/><stop offset="0.333" stop-color="#49cb85"/><stop offset="0.374" stop-color="#78cc5f"/><stop offset="0.425" stop-color="#90ca4d"/><stop offset="0.491" stop-color="#9bc944"/><stop offset="0.542" stop-color="#8bcb51"/><stop offset="0.575" stop-color="#6bcd69"/><stop offset="0.615" stop-color="#35c79a"/><stop offset="0.652" stop-color="#0fbeba"/><stop offset="0.674" stop-color="#0abdbd"/><stop offset="0.689" stop-color="#20c1b1"/><stop offset="0.707" stop-color="#3fca8e"/><stop offset="0.733" stop-color="#9bc945"/><stop offset="0.747" stop-color="#c2c22c"/><stop offset="0.766" stop-color="#ddbd29"/><stop offset="0.81" stop-color="#f4ba3a"/><stop offset="0.861" stop-color="#fec239"/><stop offset="0.985" stop-color="#f9d82c"/><stop offset="1" stop-color="#f8d92c"/></linearGradient><linearGradient id="hl36"><stop offset="0" stop-color="#f6df29"/><stop offset="0.11" stop-color="#fdbd3d"/><stop offset="0.128" stop-color="#f4ba39"/><stop offset="0.154" stop-color="#d3bf27"/><stop offset="0.168" stop-color="#b6c532"/><stop offset="0.19" stop-color="#7ccc5c"/><stop offset="0.212" stop-color="#42ca8b"/><stop offset="0.238" stop-color="#24c2ae"/><stop offset="0.26" stop-color="#10beba"/><stop offset="0.278" stop-color="#14beb8"/><stop offset="0.319" stop-color="#38c896"/><stop offset="0.37" stop-color="#72cd64"/><stop offset="0.421" stop-color="#8bcb51"/><stop offset="0.491" stop-color="#99c946"/><stop offset="0.542" stop-color="#89cb52"/><stop offset="0.575" stop-color="#6bcd69"/><stop offset="0.615" stop-color="#36c899"/><stop offset="0.648" stop-color="#13beb8"/><stop offset="0.667" stop-color="#08bcbf"/><stop offset="0.681" stop-color="#0ebebb"/><stop offset="0.7" stop-color="#30c5a1"/><stop offset="0.711" stop-color="#47cb87"/><stop offset="0.736" stop-color="#a4c83e"/><stop offset="0.751" stop-color="#c8c129"/><stop offset="0.773" stop-color="#e3bc2c"/><stop offset="0.828" stop-color="#fabb3d"/><stop offset="0.916" stop-color="#fccf30"/><stop offset="1" stop-color="#f8d82c"/></linearGradient><linearGradient id="hl37"><stop offset="0" stop-color="#f6df29"/><stop offset="0.106" stop-color="#febd3c"/><stop offset="0.125" stop-color="#f5ba3b"/><stop offset="0.15" stop-color="#d6be28"/><stop offset="0.165" stop-color="#bac430"/><stop offset="0.187" stop-color="#81cc59"/><stop offset="0.209" stop-color="#46cb88"/><stop offset="0.227" stop-color="#2dc4a5"/><stop offset="0.256" stop-color="#0cbdbc"/><stop offset="0.275" stop-color="#0ebdbb"/><stop offset="0.311" stop-color="#32c69e"/><stop offset="0.366" stop-color="#6ccd68"/><stop offset="0.421" stop-color="#89cb53"/><stop offset="0.487" stop-color="#97ca48"/><stop offset="0.542" stop-color="#88cb53"/><stop offset="0.579" stop-color="#67cd6c"/><stop offset="0.619" stop-color="#34c79c"/><stop offset="0.656" stop-color="#0bbdbd"/><stop offset="0.678" stop-color="#08bcbf"/><stop offset="0.692" stop-color="#21c1b0"/><stop offset="0.711" stop-color="#43ca8a"/><stop offset="0.736" stop-color="#a2c83f"/><stop offset="0.751" stop-color="#c7c12a"/><stop offset="0.773" stop-color="#e2bc2b"/><stop offset="0.832" stop-color="#fbbc3d"/><stop offset="0.938" stop-color="#fbd32e"/><stop offset="1" stop-color="#f9d82c"/></linearGradient><linearGradient id="hl38"><stop offset="0" stop-color="#f6df29"/><stop offset="0.106" stop-color="#fdbd3d"/><stop offset="0.128" stop-color="#f1ba37"/><stop offset="0.15" stop-color="#d4bf28"/><stop offset="0.165" stop-color="#b5c533"/><stop offset="0.19" stop-color="#6dcd67"/><stop offset="0.209" stop-color="#3eca8f"/><stop offset="0.231" stop-color="#25c2ad"/><stop offset="0.253" stop-color="#09bdbe"/><stop offset="0.275" stop-color="#0abdbd"/><stop offset="0.311" stop-color="#32c69e"/><stop offset="0.363" stop-color="#68cd6c"/><stop offset="0.421" stop-color="#87cb54"/><stop offset="0.487" stop-color="#96ca48"/><stop offset="0.542" stop-color="#88cb53"/><stop offset="0.579" stop-color="#69cd6b"/><stop offset="0.619" stop-color="#34c79b"/><stop offset="0.648" stop-color="#13beb8"/><stop offset="0.667" stop-color="#06bcc1"/><stop offset="0.681" stop-color="#09bcbe"/><stop offset="0.7" stop-color="#2cc4a7"/><stop offset="0.711" stop-color="#3fca8e"/><stop offset="0.736" stop-color="#a0c941"/><stop offset="0.751" stop-color="#c6c22a"/><stop offset="0.773" stop-color="#e2bc2b"/><stop offset="0.832" stop-color="#fabb3d"/><stop offset="0.927" stop-color="#fcd12f"/><stop offset="1" stop-color="#f9d82c"/></linearGradient><linearGradient id="hl39"><stop offset="0" stop-color="#f6de29"/><stop offset="0.103" stop-color="#fdbd3d"/><stop offset="0.125" stop-color="#f2ba38"/><stop offset="0.15" stop-color="#d1bf27"/><stop offset="0.165" stop-color="#b0c636"/><stop offset="0.198" stop-color="#4fcc80"/><stop offset="0.209" stop-color="#38c897"/><stop offset="0.234" stop-color="#14bfb8"/><stop offset="0.249" stop-color="#07bcbf"/><stop offset="0.271" stop-color="#05bbc1"/><stop offset="0.289" stop-color="#19bfb5"/><stop offset="0.315" stop-color="#35c79b"/><stop offset="0.363" stop-color="#66cd6d"/><stop offset="0.429" stop-color="#88cb53"/><stop offset="0.491" stop-color="#97ca48"/><stop offset="0.546" stop-color="#88cb53"/><stop offset="0.582" stop-color="#65cd6e"/><stop offset="0.619" stop-color="#35c79a"/><stop offset="0.645" stop-color="#19bfb5"/><stop offset="0.663" stop-color="#06bcc0"/><stop offset="0.681" stop-color="#07bcc0"/><stop offset="0.696" stop-color="#22c1af"/><stop offset="0.711" stop-color="#3dc991"/><stop offset="0.733" stop-color="#90ca4d"/><stop offset="0.747" stop-color="#bdc32f"/><stop offset="0.762" stop-color="#d6be28"/><stop offset="0.791" stop-color="#ebba32"/><stop offset="0.835" stop-color="#fbbc3d"/><stop offset="0.952" stop-color="#fad52d"/><stop offset="1" stop-color="#f9d72c"/></linearGradient><linearGradient id="hl40"><stop offset="0" stop-color="#f6de29"/><stop offset="0.103" stop-color="#fdbd3d"/><stop offset="0.125" stop-color="#f1ba37"/><stop offset="0.147" stop-color="#d4bf28"/><stop offset="0.161" stop-color="#b4c533"/><stop offset="0.183" stop-color="#73cd63"/><stop offset="0.201" stop-color="#3eca8f"/><stop offset="0.227" stop-color="#16bfb7"/><stop offset="0.242" stop-color="#04bbc2"/><stop offset="0.271" stop-color="#03bbc2"/><stop offset="0.286" stop-color="#11beb9"/><stop offset="0.308" stop-color="#2fc5a3"/><stop offset="0.359" stop-color="#62cd71"/><stop offset="0.432" stop-color="#8acb52"/><stop offset="0.491" stop-color="#98c946"/><stop offset="0.542" stop-color="#8ccb50"/><stop offset="0.575" stop-color="#70cd65"/><stop offset="0.623" stop-color="#33c69e"/><stop offset="0.648" stop-color="#14beb8"/><stop offset="0.667" stop-color="#04bbc2"/><stop offset="0.685" stop-color="#08bcbf"/><stop offset="0.703" stop-color="#2ec4a5"/><stop offset="0.714" stop-color="#44cb8a"/><stop offset="0.74" stop-color="#a7c73c"/><stop offset="0.755" stop-color="#cac129"/><stop offset="0.777" stop-color="#e4bb2c"/><stop offset="0.835" stop-color="#fbbc3d"/><stop offset="0.934" stop-color="#fbd22f"/><stop offset="1" stop-color="#f9d72c"/></linearGradient><linearGradient id="hl41"><stop offset="0" stop-color="#f6de29"/><stop offset="0.0989" stop-color="#fdbd3d"/><stop offset="0.121" stop-color="#f2ba38"/><stop offset="0.143" stop-color="#d7be28"/><stop offset="0.158" stop-color="#b8c431"/><stop offset="0.179" stop-color="#76cc61"/><stop offset="0.198" stop-color="#3eca8f"/><stop offset="0.223" stop-color="#12beb9"/><stop offset="0.234" stop-color="#02bbc3"/><stop offset="0.26" stop-color="#01b8c8"/><stop offset="0.275" stop-color="#05bbc1"/><stop offset="0.308" stop-color="#2fc5a3"/><stop offset="0.359" stop-color="#61cd71"/><stop offset="0.44" stop-color="#8ecb4f"/><stop offset="0.495" stop-color="#9bc944"/><stop offset="0.546" stop-color="#8dcb4f"/><stop offset="0.579" stop-color="#6ecd67"/><stop offset="0.619" stop-color="#36c898"/><stop offset="0.645" stop-color="#1ac0b5"/><stop offset="0.663" stop-color="#05bbc1"/><stop offset="0.681" stop-color="#03bbc2"/><stop offset="0.692" stop-color="#12beb9"/><stop offset="0.711" stop-color="#37c897"/><stop offset="0.722" stop-color="#5bcc76"/><stop offset="0.74" stop-color="#a4c83e"/><stop offset="0.755" stop-color="#c9c129"/><stop offset="0.777" stop-color="#e3bc2c"/><stop offset="0.839" stop-color="#fbbc3d"/><stop offset="0.963" stop-color="#fad62d"/><stop offset="1" stop-color="#f9d72d"/></linearGradient><linearGradient id="hl42"><stop offset="0" stop-color="#f6dd29"/><stop offset="0.0989" stop-color="#fdbd3d"/><stop offset="0.121" stop-color="#f1ba37"/><stop offset="0.143" stop-color="#d4bf28"/><stop offset="0.154" stop-color="#bcc42f"/><stop offset="0.172" stop-color="#84cb56"/><stop offset="0.194" stop-color="#3dc990"/><stop offset="0.216" stop-color="#17bfb6"/><stop offset="0.227" stop-color="#03bbc3"/><stop offset="0.253" stop-color="#03b7cc"/><stop offset="0.275" stop-color="#04bbc2"/><stop offset="0.304" stop-color="#2dc4a6"/><stop offset="0.359" stop-color="#60cd72"/><stop offset="0.447" stop-color="#93ca4b"/><stop offset="0.502" stop-color="#9fc942"/><stop offset="0.546" stop-color="#92ca4c"/><stop offset="0.579" stop-color="#70cd65"/><stop offset="0.619" stop-color="#37c897"/><stop offset="0.645" stop-color="#1bc0b4"/><stop offset="0.663" stop-color="#05bbc1"/><stop offset="0.685" stop-color="#04bbc2"/><stop offset="0.696" stop-color="#17bfb6"/><stop offset="0.714" stop-color="#3dc990"/><stop offset="0.736" stop-color="#94ca4a"/><stop offset="0.747" stop-color="#b8c431"/><stop offset="0.762" stop-color="#d4bf28"/><stop offset="0.788" stop-color="#e8bb2f"/><stop offset="0.842" stop-color="#fcbc3d"/><stop offset="0.963" stop-color="#fad62d"/><stop offset="1" stop-color="#f9d62d"/></linearGradient><linearGradient id="hl43"><stop offset="0" stop-color="#f7dd2a"/><stop offset="0.0952" stop-color="#febd3c"/><stop offset="0.117" stop-color="#f3ba38"/><stop offset="0.139" stop-color="#d8be28"/><stop offset="0.15" stop-color="#bfc32d"/><stop offset="0.165" stop-color="#94ca4a"/><stop offset="0.19" stop-color="#3cc992"/><stop offset="0.209" stop-color="#1bc0b4"/><stop offset="0.22" stop-color="#05bbc1"/><stop offset="0.234" stop-color="#04b6cd"/><stop offset="0.26" stop-color="#04b6cc"/><stop offset="0.275" stop-color="#03bbc2"/><stop offset="0.304" stop-color="#2ec4a5"/><stop offset="0.363" stop-color="#62cd70"/><stop offset="0.451" stop-color="#98ca47"/><stop offset="0.505" stop-color="#a4c83e"/><stop offset="0.546" stop-color="#97ca47"/><stop offset="0.575" stop-color="#79cc5f"/><stop offset="0.623" stop-color="#35c79b"/><stop offset="0.648" stop-color="#16bfb7"/><stop offset="0.667" stop-color="#02bbc3"/><stop offset="0.689" stop-color="#06bcc0"/><stop offset="0.707" stop-color="#2dc4a5"/><stop offset="0.718" stop-color="#45cb89"/><stop offset="0.74" stop-color="#9fc942"/><stop offset="0.755" stop-color="#c7c12a"/><stop offset="0.773" stop-color="#dfbc2a"/><stop offset="0.842" stop-color="#fbbc3d"/><stop offset="0.96" stop-color="#fad52d"/><stop offset="1" stop-color="#f9d62d"/></linearGradient><linearGradient id="hl44"><stop offset="0" stop-color="#f7dd2a"/><stop offset="0.0952" stop-color="#fdbd3d"/><stop offset="0.117" stop-color="#f1ba37"/><stop offset="0.139" stop-color="#d4bf28"/><stop offset="0.15" stop-color="#bac430"/><stop offset="0.168" stop-color="#7bcc5d"/><stop offset="0.187" stop-color="#3ac993"/><stop offset="0.201" stop-color="#1ec0b2"/><stop offset="0.212" stop-color="#04bbc2"/><stop offset="0.227" stop-color="#05b6ce"/><stop offset="0.245" stop-color="#0cb3d3"/><stop offset="0.271" stop-color="#01b9c6"/><stop offset="0.282" stop-color="#0ebdbb"/><stop offset="0.3" stop-color="#2bc3a7"/><stop offset="0.359" stop-color="#5fcd73"/><stop offset="0.447" stop-color="#9ac945"/><stop offset="0.502" stop-color="#aac73a"/><stop offset="0.542" stop-color="#a0c841"/><stop offset="0.571" stop-color="#82cc58"/><stop offset="0.623" stop-color="#35c79a"/><stop offset="0.645" stop-color="#1cc0b3"/><stop offset="0.663" stop-color="#04bbc2"/><stop offset="0.685" stop-color="#02bac4"/><stop offset="0.696" stop-color="#0fbeba"/><stop offset="0.711" stop-color="#31c6a0"/><stop offset="0.718" stop-color="#41ca8c"/><stop offset="0.74" stop-color="#9cc944"/><stop offset="0.755" stop-color="#c5c22a"/><stop offset="0.773" stop-color="#debc2a"/><stop offset="0.846" stop-color="#fcbc3d"/><stop offset="0.96" stop-color="#fad52d"/><stop offset="1" stop-color="#fad62d"/></linearGradient><linearGradient id="hl45"><stop offset="0" stop-color="#f7dd2a"/><stop offset="0.0952" stop-color="#fcbd3d"/><stop offset="0.114" stop-color="#f3ba38"/><stop offset="0.136" stop-color="#d8be28"/><stop offset="0.147" stop-color="#bec32e"/><stop offset="0.161" stop-color="#8ccb50"/><stop offset="0.179" stop-color="#43ca8a"/><stop offset="0.198" stop-color="#18bfb6"/><stop offset="0.205" stop-color="#04bbc2"/><stop offset="0.216" stop-color="#06b5cf"/><stop offset="0.234" stop-color="#11b1d6"/><stop offset="0.253" stop-color="#0db3d3"/><stop offset="0.271" stop-color="#01b9c6"/><stop offset="0.282" stop-color="#0fbeba"/><stop offset="0.3" stop-color="#2cc4a6"/><stop offset="0.359" stop-color="#5fcd73"/><stop offset="0.447" stop-color="#9fc941"/><stop offset="0.502" stop-color="#b1c635"/><stop offset="0.538" stop-color="#aac73a"/><stop offset="0.564" stop-color="#91ca4c"/><stop offset="0.619" stop-color="#3ac994"/><stop offset="0.645" stop-color="#1dc0b3"/><stop offset="0.663" stop-color="#04bbc2"/><stop offset="0.685" stop-color="#01bac5"/><stop offset="0.696" stop-color="#0bbdbc"/><stop offset="0.711" stop-color="#2fc5a2"/><stop offset="0.718" stop-color="#3eca8f"/><stop offset="0.74" stop-color="#99c946"/><stop offset="0.755" stop-color="#c4c22b"/><stop offset="0.773" stop-color="#debd29"/><stop offset="0.85" stop-color="#fdbd3d"/><stop offset="0.956" stop-color="#fad52d"/><stop offset="1" stop-color="#fad52d"/></linearGradient><linearGradient id="hl46"><stop offset="0" stop-color="#f7dc2a"/><stop offset="0.0916" stop-color="#fdbd3d"/><stop offset="0.114" stop-color="#f1ba37"/><stop offset="0.136" stop-color="#d4bf28"/><stop offset="0.147" stop-color="#b8c431"/><stop offset="0.165" stop-color="#6fcd66"/><stop offset="0.179" stop-color="#37c897"/><stop offset="0.19" stop-color="#1ec0b2"/><stop offset="0.198" stop-color="#06bcc0"/><stop offset="0.205" stop-color="#03b7cc"/><stop offset="0.22" stop-color="#15afd9"/><stop offset="0.245" stop-color="#13b0d7"/><stop offset="0.267" stop-color="#01b8c8"/><stop offset="0.278" stop-color="#0bbdbd"/><stop offset="0.297" stop-color="#2bc3a8"/><stop offset="0.355" stop-color="#5ecd74"/><stop offset="0.447" stop-color="#a4c83e"/><stop offset="0.502" stop-color="#b8c431"/><stop offset="0.535" stop-color="#b3c534"/><stop offset="0.56" stop-color="#9cc944"/><stop offset="0.615" stop-color="#3fca8e"/><stop offset="0.645" stop-color="#1ec0b2"/><stop offset="0.663" stop-color="#04bbc2"/><stop offset="0.685" stop-color="#01b9c6"/><stop offset="0.696" stop-color="#09bcbe"/><stop offset="0.714" stop-color="#33c79c"/><stop offset="0.722" stop-color="#47cb87"/><stop offset="0.744" stop-color="#a3c83f"/><stop offset="0.758" stop-color="#cac129"/><stop offset="0.777" stop-color="#e0bc2a"/><stop offset="0.85" stop-color="#fcbc3d"/><stop offset="0.956" stop-color="#fad52d"/><stop offset="1" stop-color="#fad52e"/></linearGradient><linearGradient id="hl47"><stop offset="0" stop-color="#f7dc2a"/><stop offset="0.0879" stop-color="#febd3c"/><stop offset="0.11" stop-color="#f2ba38"/><stop offset="0.132" stop-color="#d6be28"/><stop offset="0.143" stop-color="#bbc430"/><stop offset="0.158" stop-color="#83cc57"/><stop offset="0.172" stop-color="#40ca8d"/><stop offset="0.187" stop-color="#19bfb5"/><stop offset="0.194" stop-color="#02bac5"/><stop offset="0.201" stop-color="#08b4d1"/><stop offset="0.212" stop-color="#18addb"/><stop offset="0.238" stop-color="#19acdc"/><stop offset="0.267" stop-color="#01b9c7"/><stop offset="0.275" stop-color="#08bcbe"/><stop offset="0.293" stop-color="#2ac3a9"/><stop offset="0.348" stop-color="#5bcc76"/><stop offset="0.443" stop-color="#a8c73b"/><stop offset="0.502" stop-color="#bec32e"/><stop offset="0.535" stop-color="#bac430"/><stop offset="0.56" stop-color="#a2c840"/><stop offset="0.615" stop-color="#41ca8c"/><stop offset="0.648" stop-color="#19bfb5"/><stop offset="0.663" stop-color="#04bbc2"/><stop offset="0.689" stop-color="#01b9c6"/><stop offset="0.696" stop-color="#06bcc0"/><stop offset="0.714" stop-color="#31c69f"/><stop offset="0.722" stop-color="#43ca8b"/><stop offset="0.744" stop-color="#a0c841"/><stop offset="0.758" stop-color="#c8c129"/><stop offset="0.777" stop-color="#dfbc2a"/><stop offset="0.853" stop-color="#fdbd3d"/><stop offset="0.956" stop-color="#fad52d"/><stop offset="1" stop-color="#fad42e"/></linearGradient><linearGradient id="hl48"><stop offset="0" stop-color="#f7dc2a"/><stop offset="0.0879" stop-color="#fdbd3d"/><stop offset="0.106" stop-color="#f3ba38"/><stop offset="0.128" stop-color="#d8be28"/><stop offset="0.139" stop-color="#bcc42f"/><stop offset="0.15" stop-color="#92ca4b"/><stop offset="0.168" stop-color="#3fca8e"/><stop offset="0.179" stop-color="#22c1b0"/><stop offset="0.187" stop-color="#04bbc1"/><stop offset="0.19" stop-color="#01b8c9"/><stop offset="0.205" stop-color="#1aacdd"/><stop offset="0.231" stop-color="#1ea8e1"/><stop offset="0.249" stop-color="#12b1d6"/><stop offset="0.264" stop-color="#01b9c7"/><stop offset="0.271" stop-color="#07bcc0"/><stop offset="0.289" stop-color="#29c3a9"/><stop offset="0.341" stop-color="#59cc78"/><stop offset="0.44" stop-color="#abc739"/><stop offset="0.498" stop-color="#c3c22b"/><stop offset="0.531" stop-color="#c2c22c"/><stop offset="0.557" stop-color="#acc738"/><stop offset="0.612" stop-color="#49cb85"/><stop offset="0.648" stop-color="#1ac0b5"/><stop offset="0.663" stop-color="#04bbc2"/><stop offset="0.689" stop-color="#01b9c7"/><stop offset="0.7" stop-color="#0abdbe"/><stop offset="0.714" stop-color="#2fc5a2"/><stop offset="0.722" stop-color="#3fca8e"/><stop offset="0.744" stop-color="#9dc943"/><stop offset="0.758" stop-color="#c7c12a"/><stop offset="0.777" stop-color="#debd29"/><stop offset="0.853" stop-color="#fcbd3d"/><stop offset="0.952" stop-color="#fad52e"/><stop offset="1" stop-color="#fad42e"/></linearGradient><linearGradient id="hl49"><stop offset="0" stop-color="#f7db2b"/><stop offset="0.0842" stop-color="#fdbd3d"/><stop offset="0.103" stop-color="#f3ba39"/><stop offset="0.125" stop-color="#d9bd28"/><stop offset="0.136" stop-color="#bec32e"/><stop offset="0.147" stop-color="#92ca4c"/><stop offset="0.161" stop-color="#48cb86"/><stop offset="0.176" stop-color="#1dc0b3"/><stop offset="0.179" stop-color="#0bbdbd"/><stop offset="0.183" stop-color="#01bac5"/><stop offset="0.19" stop-color="#0fb2d4"/><stop offset="0.201" stop-color="#1da8e0"/><stop offset="0.223" stop-color="#21a3e3"/><stop offset="0.245" stop-color="#14b0d8"/><stop offset="0.26" stop-color="#01b9c8"/><stop offset="0.267" stop-color="#08bcbf"/><stop offset="0.286" stop-color="#2ac3a9"/><stop offset="0.333" stop-color="#59cc78"/><stop offset="0.436" stop-color="#afc637"/><stop offset="0.495" stop-color="#c8c129"/><stop offset="0.531" stop-color="#c8c129"/><stop offset="0.557" stop-color="#b2c635"/><stop offset="0.601" stop-color="#61cd71"/><stop offset="0.626" stop-color="#36c898"/><stop offset="0.648" stop-color="#1bc0b4"/><stop offset="0.663" stop-color="#04bbc2"/><stop offset="0.689" stop-color="#01b8c8"/><stop offset="0.7" stop-color="#07bcc0"/><stop offset="0.718" stop-color="#34c79c"/><stop offset="0.725" stop-color="#49cb85"/><stop offset="0.744" stop-color="#9ac945"/><stop offset="0.758" stop-color="#c5c22a"/><stop offset="0.777" stop-color="#ddbd29"/><stop offset="0.853" stop-color="#fcbc3d"/><stop offset="0.952" stop-color="#fad52e"/><stop offset="1" stop-color="#fad42e"/></linearGradient><linearGradient id="hl50"><stop offset="0" stop-color="#f8da2b"/><stop offset="0.0806" stop-color="#fdbd3d"/><stop offset="0.103" stop-color="#f1ba37"/><stop offset="0.121" stop-color="#dabd28"/><stop offset="0.132" stop-color="#bfc32e"/><stop offset="0.143" stop-color="#90ca4d"/><stop offset="0.158" stop-color="#42ca8b"/><stop offset="0.168" stop-color="#21c1b0"/><stop offset="0.176" stop-color="#02bac4"/><stop offset="0.179" stop-color="#03b7cc"/><stop offset="0.19" stop-color="#1babde"/><stop offset="0.212" stop-color="#249ee6"/><stop offset="0.238" stop-color="#1aacdd"/><stop offset="0.256" stop-color="#01b9c8"/><stop offset="0.264" stop-color="#09bcbe"/><stop offset="0.278" stop-color="#27c2ab"/><stop offset="0.33" stop-color="#5ecd74"/><stop offset="0.429" stop-color="#b1c636"/><stop offset="0.491" stop-color="#cdc028"/><stop offset="0.527" stop-color="#cfc028"/><stop offset="0.553" stop-color="#bcc42f"/><stop offset="0.579" stop-color="#91ca4d"/><stop offset="0.623" stop-color="#3cc991"/><stop offset="0.648" stop-color="#1cc0b3"/><stop offset="0.663" stop-color="#04bbc2"/><stop offset="0.689" stop-color="#01b8c9"/><stop offset="0.7" stop-color="#04bbc1"/><stop offset="0.718" stop-color="#32c69f"/><stop offset="0.725" stop-color="#45cb88"/><stop offset="0.747" stop-color="#a5c83d"/><stop offset="0.758" stop-color="#c4c22b"/><stop offset="0.777" stop-color="#dcbd29"/><stop offset="0.839" stop-color="#f5ba3b"/><stop offset="0.875" stop-color="#fec338"/><stop offset="0.96" stop-color="#fad52d"/><stop offset="1" stop-color="#fad42e"/></linearGradient><linearGradient id="hl51"><stop offset="0" stop-color="#f8da2b"/><stop offset="0.0769" stop-color="#fdbd3d"/><stop offset="0.0989" stop-color="#f1ba37"/><stop offset="0.117" stop-color="#dbbd29"/><stop offset="0.128" stop-color="#bfc32d"/><stop offset="0.139" stop-color="#8ecb4e"/><stop offset="0.154" stop-color="#3cc991"/><stop offset="0.161" stop-color="#27c2ac"/><stop offset="0.168" stop-color="#03bbc2"/><stop offset="0.172" stop-color="#03b7cc"/><stop offset="0.179" stop-color="#18aedb"/><stop offset="0.201" stop-color="#259be8"/><stop offset="0.223" stop-color="#23a1e4"/><stop offset="0.242" stop-color="#12b1d6"/><stop offset="0.253" stop-color="#01b9c7"/><stop offset="0.26" stop-color="#0bbdbd"/><stop offset="0.275" stop-color="#2ac3a9"/><stop offset="0.311" stop-color="#53cc7d"/><stop offset="0.363" stop-color="#85cb55"/><stop offset="0.436" stop-color="#bcc42f"/><stop offset="0.502" stop-color="#d4bf28"/><stop offset="0.535" stop-color="#d0bf27"/><stop offset="0.56" stop-color="#b7c532"/><stop offset="0.601" stop-color="#69cd6b"/><stop offset="0.626" stop-color="#39c895"/><stop offset="0.648" stop-color="#1cc0b3"/><stop offset="0.663" stop-color="#03bbc3"/><stop offset="0.689" stop-color="#03b7cb"/><stop offset="0.7" stop-color="#02bac4"/><stop offset="0.707" stop-color="#11beb9"/><stop offset="0.718" stop-color="#30c5a2"/><stop offset="0.725" stop-color="#42ca8c"/><stop offset="0.747" stop-color="#a2c83f"/><stop offset="0.758" stop-color="#c2c22c"/><stop offset="0.777" stop-color="#dcbd29"/><stop offset="0.835" stop-color="#f3ba38"/><stop offset="0.861" stop-color="#febe3c"/><stop offset="0.952" stop-color="#fad52e"/><stop offset="1" stop-color="#fad42e"/></linearGradient><linearGradient id="hl52"><stop offset="0" stop-color="#f8d92c"/><stop offset="0.0733" stop-color="#fdbd3d"/><stop offset="0.0952" stop-color="#f1ba37"/><stop offset="0.114" stop-color="#dbbd29"/><stop offset="0.125" stop-color="#bec32e"/><stop offset="0.132" stop-color="#9fc941"/><stop offset="0.147" stop-color="#48cb86"/><stop offset="0.158" stop-color="#1cc0b3"/><stop offset="0.161" stop-color="#07bcc0"/><stop offset="0.165" stop-color="#02b7cb"/><stop offset="0.172" stop-color="#19addc"/><stop offset="0.19" stop-color="#2798ea"/><stop offset="0.212" stop-color="#269ae9"/><stop offset="0.234" stop-color="#18addb"/><stop offset="0.245" stop-color="#03b7cc"/><stop offset="0.253" stop-color="#06bcc0"/><stop offset="0.267" stop-color="#28c2ab"/><stop offset="0.304" stop-color="#55cc7c"/><stop offset="0.344" stop-color="#82cc58"/><stop offset="0.425" stop-color="#bdc32e"/><stop offset="0.491" stop-color="#d7be28"/><stop offset="0.531" stop-color="#d7be28"/><stop offset="0.557" stop-color="#c1c32c"/><stop offset="0.586" stop-color="#8ccb50"/><stop offset="0.626" stop-color="#39c994"/><stop offset="0.648" stop-color="#1bc0b4"/><stop offset="0.663" stop-color="#02bac4"/><stop offset="0.689" stop-color="#05b6cd"/><stop offset="0.703" stop-color="#04bbc2"/><stop offset="0.718" stop-color="#2ec4a5"/><stop offset="0.725" stop-color="#3eca8f"/><stop offset="0.744" stop-color="#91ca4c"/><stop offset="0.755" stop-color="#b7c532"/><stop offset="0.769" stop-color="#d4bf27"/><stop offset="0.795" stop-color="#e2bc2b"/><stop offset="0.857" stop-color="#fdbd3d"/><stop offset="0.952" stop-color="#fad52e"/><stop offset="1" stop-color="#fad42e"/></linearGradient><linearGradient id="hl53"><stop offset="0" stop-color="#f9d82c"/><stop offset="0.0696" stop-color="#fdbd3d"/><stop offset="0.0879" stop-color="#f3ba39"/><stop offset="0.11" stop-color="#dbbd28"/><stop offset="0.121" stop-color="#bdc32e"/><stop offset="0.128" stop-color="#9cc943"/><stop offset="0.143" stop-color="#41ca8c"/><stop offset="0.15" stop-color="#25c2ad"/><stop offset="0.154" stop-color="#0ebdbb"/><stop offset="0.158" stop-color="#01b8c8"/><stop offset="0.165" stop-color="#19acdc"/><stop offset="0.183" stop-color="#2a93ee"/><stop offset="0.201" stop-color="#2b92ee"/><stop offset="0.231" stop-color="#18aedb"/><stop offset="0.242" stop-color="#01b8ca"/><stop offset="0.249" stop-color="#09bcbe"/><stop offset="0.264" stop-color="#2bc3a8"/><stop offset="0.289" stop-color="#4ccb83"/><stop offset="0.33" stop-color="#83cc57"/><stop offset="0.403" stop-color="#b8c431"/><stop offset="0.465" stop-color="#d5be28"/><stop offset="0.524" stop-color="#ddbd29"/><stop offset="0.553" stop-color="#cac129"/><stop offset="0.575" stop-color="#a6c73c"/><stop offset="0.619" stop-color="#47cb87"/><stop offset="0.648" stop-color="#1ac0b5"/><stop offset="0.659" stop-color="#04bbc2"/><stop offset="0.674" stop-color="#04b6cd"/><stop offset="0.696" stop-color="#03b7cc"/><stop offset="0.703" stop-color="#02bac5"/><stop offset="0.711" stop-color="#14beb8"/><stop offset="0.722" stop-color="#32c69e"/><stop offset="0.729" stop-color="#49cb86"/><stop offset="0.747" stop-color="#9cc943"/><stop offset="0.758" stop-color="#bec32e"/><stop offset="0.773" stop-color="#d7be28"/><stop offset="0.828" stop-color="#eeba34"/><stop offset="0.853" stop-color="#fbbc3d"/><stop offset="0.952" stop-color="#fad52e"/><stop offset="1" stop-color="#fad42e"/></linearGradient><linearGradient id="hl54"><stop offset="0" stop-color="#f9d72d"/><stop offset="0.0659" stop-color="#fcbd3d"/><stop offset="0.0842" stop-color="#f3ba38"/><stop offset="0.106" stop-color="#d9be28"/><stop offset="0.114" stop-color="#c7c12a"/><stop offset="0.121" stop-color="#acc738"/><stop offset="0.132" stop-color="#69cd6b"/><stop offset="0.139" stop-color="#3ac993"/><stop offset="0.147" stop-color="#1abfb5"/><stop offset="0.15" stop-color="#02bac4"/><stop offset="0.154" stop-color="#09b4d1"/><stop offset="0.158" stop-color="#19addc"/><stop offset="0.172" stop-color="#2a92ee"/><stop offset="0.187" stop-color="#2d88f6"/><stop offset="0.209" stop-color="#2699ea"/><stop offset="0.227" stop-color="#17aeda"/><stop offset="0.238" stop-color="#01b9c8"/><stop offset="0.245" stop-color="#0ebdbb"/><stop offset="0.256" stop-color="#29c3a9"/><stop offset="0.282" stop-color="#4ccb83"/><stop offset="0.319" stop-color="#86cb55"/><stop offset="0.359" stop-color="#a9c73b"/><stop offset="0.429" stop-color="#cec028"/><stop offset="0.505" stop-color="#e2bc2b"/><stop offset="0.538" stop-color="#dbbd28"/><stop offset="0.564" stop-color="#bfc32d"/><stop offset="0.593" stop-color="#86cb55"/><stop offset="0.626" stop-color="#3bc993"/><stop offset="0.648" stop-color="#19bfb5"/><stop offset="0.659" stop-color="#03bbc3"/><stop offset="0.674" stop-color="#06b5ce"/><stop offset="0.692" stop-color="#08b4d0"/><stop offset="0.703" stop-color="#01b9c7"/><stop offset="0.707" stop-color="#04bbc2"/><stop offset="0.722" stop-color="#30c5a1"/><stop offset="0.729" stop-color="#45cb89"/><stop offset="0.747" stop-color="#99c946"/><stop offset="0.758" stop-color="#bdc42f"/><stop offset="0.773" stop-color="#d6be28"/><stop offset="0.828" stop-color="#edba33"/><stop offset="0.853" stop-color="#fbbc3d"/><stop offset="0.949" stop-color="#fad42e"/><stop offset="1" stop-color="#fad42e"/></linearGradient><linearGradient id="hl55"><stop offset="0" stop-color="#fad62d"/><stop offset="0.0623" stop-color="#fcbd3d"/><stop offset="0.0842" stop-color="#f0ba36"/><stop offset="0.103" stop-color="#d7be28"/><stop offset="0.11" stop-color="#c4c22b"/><stop offset="0.117" stop-color="#a6c83d"/><stop offset="0.128" stop-color="#61cd71"/><stop offset="0.136" stop-color="#35c79b"/><stop offset="0.139" stop-color="#26c2ac"/><stop offset="0.143" stop-color="#0abdbd"/><stop offset="0.147" stop-color="#03b6cc"/><stop offset="0.15" stop-color="#16afd9"/><stop offset="0.165" stop-color="#2c8ff1"/><stop offset="0.179" stop-color="#2f82fa"/><stop offset="0.198" stop-color="#2c8ef2"/><stop offset="0.22" stop-color="#1aacdd"/><stop offset="0.231" stop-color="#03b7cb"/><stop offset="0.234" stop-color="#02bac5"/><stop offset="0.249" stop-color="#27c2ab"/><stop offset="0.275" stop-color="#4bcb83"/><stop offset="0.311" stop-color="#8bcb51"/><stop offset="0.348" stop-color="#aec637"/><stop offset="0.418" stop-color="#d1bf27"/><stop offset="0.502" stop-color="#e5bb2d"/><stop offset="0.538" stop-color="#debc2a"/><stop offset="0.564" stop-color="#c3c22b"/><stop offset="0.59" stop-color="#92ca4b"/><stop offset="0.626" stop-color="#3cc992"/><stop offset="0.645" stop-color="#21c1b0"/><stop offset="0.659" stop-color="#02bac4"/><stop offset="0.685" stop-color="#0db3d3"/><stop offset="0.703" stop-color="#01b8ca"/><stop offset="0.707" stop-color="#02bac4"/><stop offset="0.714" stop-color="#17bfb6"/><stop offset="0.729" stop-color="#41ca8d"/><stop offset="0.747" stop-color="#96ca48"/><stop offset="0.758" stop-color="#bbc430"/><stop offset="0.773" stop-color="#d5be28"/><stop offset="0.828" stop-color="#edba33"/><stop offset="0.853" stop-color="#fbbc3d"/><stop offset="0.949" stop-color="#fad42e"/><stop offset="1" stop-color="#fad42e"/></linearGradient><linearGradient id="hl56"><stop offset="0" stop-color="#fad52e"/><stop offset="0.0586" stop-color="#fcbc3d"/><stop offset="0.0806" stop-color="#f0ba36"/><stop offset="0.0989" stop-color="#d6be28"/><stop offset="0.106" stop-color="#c0c32d"/><stop offset="0.114" stop-color="#9ec942"/><stop offset="0.125" stop-color="#53cc7d"/><stop offset="0.128" stop-color="#3cc992"/><stop offset="0.136" stop-color="#19bfb5"/><stop offset="0.139" stop-color="#01b9c6"/><stop offset="0.147" stop-color="#1da8e0"/><stop offset="0.161" stop-color="#2e86f8"/><stop offset="0.172" stop-color="#337bfd"/><stop offset="0.187" stop-color="#2e83f9"/><stop offset="0.212" stop-color="#1da9e0"/><stop offset="0.227" stop-color="#01b9c7"/><stop offset="0.234" stop-color="#10beba"/><stop offset="0.245" stop-color="#2cc4a7"/><stop offset="0.267" stop-color="#4acb84"/><stop offset="0.311" stop-color="#98ca47"/><stop offset="0.344" stop-color="#b7c532"/><stop offset="0.41" stop-color="#d5be28"/><stop offset="0.502" stop-color="#e8bb2f"/><stop offset="0.538" stop-color="#e1bc2b"/><stop offset="0.564" stop-color="#c7c12a"/><stop offset="0.59" stop-color="#97ca48"/><stop offset="0.626" stop-color="#3cc991"/><stop offset="0.645" stop-color="#20c1b1"/><stop offset="0.656" stop-color="#06bcc0"/><stop offset="0.663" stop-color="#01b8c9"/><stop offset="0.685" stop-color="#10b2d5"/><stop offset="0.7" stop-color="#07b5d0"/><stop offset="0.707" stop-color="#01b9c7"/><stop offset="0.711" stop-color="#05bbc1"/><stop offset="0.722" stop-color="#2cc4a7"/><stop offset="0.729" stop-color="#3dc990"/><stop offset="0.747" stop-color="#93ca4b"/><stop offset="0.758" stop-color="#b9c431"/><stop offset="0.773" stop-color="#d4bf27"/><stop offset="0.828" stop-color="#ecba33"/><stop offset="0.853" stop-color="#fbbc3d"/><stop offset="0.949" stop-color="#fad42e"/><stop offset="1" stop-color="#fad42e"/></linearGradient><linearGradient id="hl57"><stop offset="0" stop-color="#fad42e"/><stop offset="0.0549" stop-color="#fcbc3d"/><stop offset="0.0769" stop-color="#f0ba36"/><stop offset="0.0916" stop-color="#ddbd29"/><stop offset="0.0989" stop-color="#cac129"/><stop offset="0.106" stop-color="#abc739"/><stop offset="0.114" stop-color="#7bcc5d"/><stop offset="0.121" stop-color="#44cb89"/><stop offset="0.128" stop-color="#21c1b1"/><stop offset="0.132" stop-color="#04bbc2"/><stop offset="0.136" stop-color="#0bb4d2"/><stop offset="0.139" stop-color="#1baade"/><stop offset="0.154" stop-color="#2e83f9"/><stop offset="0.165" stop-color="#3974fe"/><stop offset="0.179" stop-color="#327cfc"/><stop offset="0.205" stop-color="#1fa6e1"/><stop offset="0.22" stop-color="#01b8c9"/><stop offset="0.223" stop-color="#03bbc2"/><stop offset="0.238" stop-color="#2ac3a9"/><stop offset="0.264" stop-color="#50cc7f"/><stop offset="0.311" stop-color="#a3c83f"/><stop offset="0.344" stop-color="#c1c32c"/><stop offset="0.418" stop-color="#ddbd29"/><stop offset="0.509" stop-color="#ebba32"/><stop offset="0.542" stop-color="#e2bc2b"/><stop offset="0.568" stop-color="#c5c22a"/><stop offset="0.59" stop-color="#9cc944"/><stop offset="0.626" stop-color="#3dca90"/><stop offset="0.645" stop-color="#20c1b1"/><stop offset="0.656" stop-color="#05bbc1"/><stop offset="0.663" stop-color="#01b8ca"/><stop offset="0.685" stop-color="#12b1d7"/><stop offset="0.7" stop-color="#0bb3d2"/><stop offset="0.707" stop-color="#01b8ca"/><stop offset="0.711" stop-color="#02bac3"/><stop offset="0.725" stop-color="#31c6a0"/><stop offset="0.733" stop-color="#48cb86"/><stop offset="0.751" stop-color="#9ec942"/><stop offset="0.762" stop-color="#c0c32d"/><stop offset="0.777" stop-color="#d6be28"/><stop offset="0.828" stop-color="#ecba32"/><stop offset="0.853" stop-color="#fbbc3d"/><stop offset="0.949" stop-color="#fad42e"/><stop offset="1" stop-color="#fad42e"/></linearGradient><linearGradient id="hl58"><stop offset="0" stop-color="#fbd32e"/><stop offset="0.0513" stop-color="#fcbc3d"/><stop offset="0.0733" stop-color="#f0ba36"/><stop offset="0.0879" stop-color="#dcbd29"/><stop offset="0.0952" stop-color="#c7c12a"/><stop offset="0.103" stop-color="#a3c83f"/><stop offset="0.114" stop-color="#50cc7f"/><stop offset="0.117" stop-color="#38c896"/><stop offset="0.121" stop-color="#28c2ab"/><stop offset="0.125" stop-color="#09bdbe"/><stop offset="0.128" stop-color="#07b5cf"/><stop offset="0.132" stop-color="#1aabdd"/><stop offset="0.143" stop-color="#2d8af5"/><stop offset="0.154" stop-color="#3b72ff"/><stop offset="0.165" stop-color="#3f6efe"/><stop offset="0.179" stop-color="#2f82f9"/><stop offset="0.201" stop-color="#1babde"/><stop offset="0.212" stop-color="#01b8ca"/><stop offset="0.216" stop-color="#03bbc3"/><stop offset="0.231" stop-color="#2ac3a9"/><stop offset="0.256" stop-color="#4fcc80"/><stop offset="0.308" stop-color="#a9c73b"/><stop offset="0.341" stop-color="#c8c129"/><stop offset="0.432" stop-color="#e5bb2d"/><stop offset="0.52" stop-color="#edba33"/><stop offset="0.553" stop-color="#dcbd29"/><stop offset="0.571" stop-color="#c3c22b"/><stop offset="0.593" stop-color="#98ca47"/><stop offset="0.626" stop-color="#3eca8f"/><stop offset="0.645" stop-color="#1fc1b1"/><stop offset="0.656" stop-color="#04bbc2"/><stop offset="0.667" stop-color="#06b5ce"/><stop offset="0.685" stop-color="#14b0d8"/><stop offset="0.7" stop-color="#0fb2d4"/><stop offset="0.711" stop-color="#01b9c6"/><stop offset="0.714" stop-color="#08bcbf"/><stop offset="0.725" stop-color="#2fc5a3"/><stop offset="0.733" stop-color="#44cb89"/><stop offset="0.751" stop-color="#9bc945"/><stop offset="0.762" stop-color="#bec32e"/><stop offset="0.777" stop-color="#d5be28"/><stop offset="0.828" stop-color="#ebba32"/><stop offset="0.853" stop-color="#fbbc3d"/><stop offset="0.949" stop-color="#fad42e"/><stop offset="1" stop-color="#fad42e"/></linearGradient><linearGradient id="hl59"><stop offset="0" stop-color="#fbd32f"/><stop offset="0.0513" stop-color="#fbbc3d"/><stop offset="0.0733" stop-color="#edba34"/><stop offset="0.0842" stop-color="#dbbd29"/><stop offset="0.0916" stop-color="#c3c22b"/><stop offset="0.0989" stop-color="#9ac945"/><stop offset="0.11" stop-color="#40ca8d"/><stop offset="0.114" stop-color="#2ec5a4"/><stop offset="0.117" stop-color="#13beb8"/><stop offset="0.121" stop-color="#03b7cc"/><stop offset="0.125" stop-color="#19addc"/><stop offset="0.136" stop-color="#2d88f6"/><stop offset="0.147" stop-color="#416cfe"/><stop offset="0.158" stop-color="#4367fd"/><stop offset="0.168" stop-color="#3876fe"/><stop offset="0.194" stop-color="#1baade"/><stop offset="0.205" stop-color="#01b8c9"/><stop offset="0.209" stop-color="#04bbc2"/><stop offset="0.22" stop-color="#25c2ae"/><stop offset="0.256" stop-color="#5acc77"/><stop offset="0.304" stop-color="#adc738"/><stop offset="0.337" stop-color="#cdc028"/><stop offset="0.425" stop-color="#e7bb2e"/><stop offset="0.52" stop-color="#efba35"/><stop offset="0.553" stop-color="#dfbc2a"/><stop offset="0.571" stop-color="#c7c12a"/><stop offset="0.593" stop-color="#9cc944"/><stop offset="0.626" stop-color="#3fca8e"/><stop offset="0.645" stop-color="#1fc1b1"/><stop offset="0.656" stop-color="#03bbc2"/><stop offset="0.667" stop-color="#07b5cf"/><stop offset="0.685" stop-color="#16afd9"/><stop offset="0.7" stop-color="#12b1d6"/><stop offset="0.711" stop-color="#01b8c9"/><stop offset="0.714" stop-color="#04bbc2"/><stop offset="0.725" stop-color="#2dc4a6"/><stop offset="0.733" stop-color="#40ca8d"/><stop offset="0.751" stop-color="#97ca48"/><stop offset="0.762" stop-color="#bbc42f"/><stop offset="0.777" stop-color="#d4bf28"/><stop offset="0.828" stop-color="#ebba31"/><stop offset="0.853" stop-color="#fbbc3d"/><stop offset="0.945" stop-color="#fad42e"/><stop offset="1" stop-color="#fad42e"/></linearGradient><linearGradient id="hl60"><stop offset="0" stop-color="#fbd22f"/><stop offset="0.0476" stop-color="#fcbc3d"/><stop offset="0.0659" stop-color="#f2ba38"/><stop offset="0.0806" stop-color="#dbbd28"/><stop offset="0.0879" stop-color="#bfc32d"/><stop offset="0.0916" stop-color="#aac739"/><stop offset="0.0989" stop-color="#6fcd66"/><stop offset="0.103" stop-color="#4ecc81"/><stop offset="0.11" stop-color="#1fc1b1"/><stop offset="0.114" stop-color="#01b9c7"/><stop offset="0.117" stop-color="#16afd9"/><stop offset="0.125" stop-color="#2994ed"/><stop offset="0.132" stop-color="#3479fd"/><stop offset="0.139" stop-color="#4466fd"/><stop offset="0.15" stop-color="#465ffb"/><stop offset="0.161" stop-color="#3e6fff"/><stop offset="0.168" stop-color="#2f82f9"/><stop offset="0.187" stop-color="#1babde"/><stop offset="0.198" stop-color="#01b9c7"/><stop offset="0.205" stop-color="#13beb8"/><stop offset="0.216" stop-color="#2dc4a5"/><stop offset="0.245" stop-color="#54cc7c"/><stop offset="0.304" stop-color="#b5c533"/><stop offset="0.333" stop-color="#d1bf27"/><stop offset="0.421" stop-color="#eaba30"/><stop offset="0.52" stop-color="#f1ba37"/><stop offset="0.553" stop-color="#e1bc2b"/><stop offset="0.575" stop-color="#c5c22a"/><stop offset="0.597" stop-color="#97ca47"/><stop offset="0.626" stop-color="#41ca8d"/><stop offset="0.645" stop-color="#1fc0b2"/><stop offset="0.656" stop-color="#02bbc3"/><stop offset="0.667" stop-color="#08b4d1"/><stop offset="0.681" stop-color="#17aeda"/><stop offset="0.7" stop-color="#14b0d8"/><stop offset="0.714" stop-color="#02bac5"/><stop offset="0.718" stop-color="#0bbdbd"/><stop offset="0.725" stop-color="#29c3aa"/><stop offset="0.733" stop-color="#3cc992"/><stop offset="0.751" stop-color="#92ca4c"/><stop offset="0.762" stop-color="#b8c431"/><stop offset="0.777" stop-color="#d2bf27"/><stop offset="0.832" stop-color="#ecba33"/><stop offset="0.853" stop-color="#fbbc3d"/><stop offset="0.945" stop-color="#fad42e"/><stop offset="1" stop-color="#fad42e"/></linearGradient><linearGradient id="hl61"><stop offset="0" stop-color="#fbd22f"/><stop offset="0.0476" stop-color="#fbbc3d"/><stop offset="0.0659" stop-color="#efba35"/><stop offset="0.0769" stop-color="#dabd28"/><stop offset="0.0806" stop-color="#ccc028"/><stop offset="0.0842" stop-color="#bac430"/><stop offset="0.0879" stop-color="#a2c840"/><stop offset="0.0989" stop-color="#3eca90"/><stop offset="0.103" stop-color="#2ac3a9"/><stop offset="0.106" stop-color="#06bcc0"/><stop offset="0.11" stop-color="#11b2d5"/><stop offset="0.114" stop-color="#21a4e3"/><stop offset="0.125" stop-color="#3776fe"/><stop offset="0.128" stop-color="#426afe"/><stop offset="0.139" stop-color="#4758f8"/><stop offset="0.15" stop-color="#4660fc"/><stop offset="0.158" stop-color="#3c71ff"/><stop offset="0.165" stop-color="#2e87f7"/><stop offset="0.179" stop-color="#1aacdd"/><stop offset="0.187" stop-color="#04b6cd"/><stop offset="0.19" stop-color="#02bac4"/><stop offset="0.201" stop-color="#24c2ae"/><stop offset="0.249" stop-color="#65cd6e"/><stop offset="0.304" stop-color="#bcc42f"/><stop offset="0.333" stop-color="#d6be28"/><stop offset="0.429" stop-color="#eeba34"/><stop offset="0.524" stop-color="#f2ba38"/><stop offset="0.557" stop-color="#e0bc2b"/><stop offset="0.575" stop-color="#c9c129"/><stop offset="0.593" stop-color="#a5c83e"/><stop offset="0.619" stop-color="#59cc78"/><stop offset="0.63" stop-color="#3ac994"/><stop offset="0.645" stop-color="#20c1b1"/><stop offset="0.656" stop-color="#02bbc3"/><stop offset="0.667" stop-color="#08b4d1"/><stop offset="0.681" stop-color="#17aeda"/><stop offset="0.7" stop-color="#16afda"/><stop offset="0.714" stop-color="#01b9c8"/><stop offset="0.718" stop-color="#06bcc0"/><stop offset="0.725" stop-color="#25c2ad"/><stop offset="0.736" stop-color="#46cb88"/><stop offset="0.755" stop-color="#9cc944"/><stop offset="0.766" stop-color="#bec32e"/><stop offset="0.78" stop-color="#d4bf28"/><stop offset="0.832" stop-color="#ecba32"/><stop offset="0.853" stop-color="#fbbc3d"/><stop offset="0.941" stop-color="#fbd32e"/><stop offset="1" stop-color="#fad42e"/></linearGradient><linearGradient id="hl62"><stop offset="0" stop-color="#fcd12f"/><stop offset="0.0476" stop-color="#fbbc3d"/><stop offset="0.0623" stop-color="#f0ba36"/><stop offset="0.0733" stop-color="#d8be28"/><stop offset="0.0769" stop-color="#c9c129"/><stop offset="0.0806" stop-color="#b4c534"/><stop offset="0.0842" stop-color="#97ca48"/><stop offset="0.0916" stop-color="#4dcc82"/><stop offset="0.0989" stop-color="#13beb8"/><stop offset="0.103" stop-color="#07b5d0"/><stop offset="0.106" stop-color="#1ea7e1"/><stop offset="0.117" stop-color="#3974fe"/><stop offset="0.121" stop-color="#4466fd"/><stop offset="0.128" stop-color="#4755f6"/><stop offset="0.139" stop-color="#4755f6"/><stop offset="0.15" stop-color="#416cfe"/><stop offset="0.158" stop-color="#2e83f9"/><stop offset="0.172" stop-color="#1babde"/><stop offset="0.179" stop-color="#02b7cb"/><stop offset="0.183" stop-color="#05bbc1"/><stop offset="0.19" stop-color="#21c1b0"/><stop offset="0.209" stop-color="#3ac993"/><stop offset="0.275" stop-color="#97ca48"/><stop offset="0.308" stop-color="#c6c22a"/><stop offset="0.341" stop-color="#debd29"/><stop offset="0.469" stop-color="#f4ba3a"/><stop offset="0.535" stop-color="#f1ba37"/><stop offset="0.564" stop-color="#dbbd29"/><stop offset="0.582" stop-color="#c0c32d"/><stop offset="0.601" stop-color="#97ca48"/><stop offset="0.63" stop-color="#3cc992"/><stop offset="0.645" stop-color="#22c1b0"/><stop offset="0.656" stop-color="#03bbc2"/><stop offset="0.663" stop-color="#03b7cc"/><stop offset="0.681" stop-color="#17aedb"/><stop offset="0.703" stop-color="#15afd9"/><stop offset="0.714" stop-color="#02b7cb"/><stop offset="0.718" stop-color="#02bbc3"/><stop offset="0.729" stop-color="#2cc4a6"/><stop offset="0.736" stop-color="#40ca8d"/><stop offset="0.755" stop-color="#97ca47"/><stop offset="0.766" stop-color="#bbc430"/><stop offset="0.78" stop-color="#d2bf27"/><stop offset="0.832" stop-color="#ebba32"/><stop offset="0.853" stop-color="#fbbc3d"/><stop offset="0.934" stop-color="#fbd22f"/><stop offset="1" stop-color="#fad42e"/></linearGradient><linearGradient id="hl63"><stop offset="0" stop-color="#fcd12f"/><stop offset="0.0476" stop-color="#fabb3d"/><stop offset="0.0623" stop-color="#ebba32"/><stop offset="0.0696" stop-color="#d6be28"/><stop offset="0.0733" stop-color="#c3c22b"/><stop offset="0.0769" stop-color="#aac73a"/><stop offset="0.0842" stop-color="#61cd71"/><stop offset="0.0879" stop-color="#3cc992"/><stop offset="0.0916" stop-color="#24c1ae"/><stop offset="0.0952" stop-color="#01b8c9"/><stop offset="0.0989" stop-color="#1baade"/><stop offset="0.106" stop-color="#2e86f7"/><stop offset="0.11" stop-color="#3a73fe"/><stop offset="0.114" stop-color="#4563fd"/><stop offset="0.121" stop-color="#484ff2"/><stop offset="0.128" stop-color="#484bee"/><stop offset="0.139" stop-color="#475dfa"/><stop offset="0.147" stop-color="#3a73fe"/><stop offset="0.15" stop-color="#2f80fa"/><stop offset="0.165" stop-color="#1babde"/><stop offset="0.172" stop-color="#01b8ca"/><stop offset="0.176" stop-color="#07bcc0"/><stop offset="0.183" stop-color="#25c2ae"/><stop offset="0.205" stop-color="#44cb8a"/><stop offset="0.275" stop-color="#a0c941"/><stop offset="0.308" stop-color="#ccc028"/><stop offset="0.344" stop-color="#e2bc2b"/><stop offset="0.484" stop-color="#f6ba3c"/><stop offset="0.538" stop-color="#f1ba37"/><stop offset="0.568" stop-color="#dabd28"/><stop offset="0.586" stop-color="#bdc32e"/><stop offset="0.604" stop-color="#91ca4c"/><stop offset="0.63" stop-color="#3eca8f"/><stop offset="0.648" stop-color="#19bfb5"/><stop offset="0.656" stop-color="#05bbc1"/><stop offset="0.663" stop-color="#03b7cb"/><stop offset="0.681" stop-color="#18aedb"/><stop offset="0.703" stop-color="#17aeda"/><stop offset="0.718" stop-color="#01b9c6"/><stop offset="0.722" stop-color="#09bcbe"/><stop offset="0.729" stop-color="#29c3aa"/><stop offset="0.736" stop-color="#3cc991"/><stop offset="0.755" stop-color="#92ca4b"/><stop offset="0.766" stop-color="#b8c531"/><stop offset="0.78" stop-color="#d0bf27"/><stop offset="0.832" stop-color="#ebba31"/><stop offset="0.853" stop-color="#fbbc3d"/><stop offset="0.93" stop-color="#fbd22f"/><stop offset="1" stop-color="#fad42e"/></linearGradient><linearGradient id="hl64"><stop offset="0" stop-color="#fcd12f"/><stop offset="0.0476" stop-color="#fabb3d"/><stop offset="0.0586" stop-color="#efba35"/><stop offset="0.0659" stop-color="#d9bd28"/><stop offset="0.0696" stop-color="#c6c22a"/><stop offset="0.0733" stop-color="#a9c73a"/><stop offset="0.0769" stop-color="#81cc58"/><stop offset="0.0806" stop-color="#53cc7e"/><stop offset="0.0879" stop-color="#08bcbf"/><stop offset="0.0916" stop-color="#15afd9"/><stop offset="0.0989" stop-color="#2d88f6"/><stop offset="0.103" stop-color="#3a73fe"/><stop offset="0.106" stop-color="#4661fc"/><stop offset="0.114" stop-color="#484aed"/><stop offset="0.121" stop-color="#4744e8"/><stop offset="0.132" stop-color="#4757f7"/><stop offset="0.139" stop-color="#3d71ff"/><stop offset="0.143" stop-color="#307ffb"/><stop offset="0.158" stop-color="#1aacdd"/><stop offset="0.165" stop-color="#01b9c8"/><stop offset="0.168" stop-color="#0abdbd"/><stop offset="0.176" stop-color="#27c2ab"/><stop offset="0.198" stop-color="#49cb86"/><stop offset="0.275" stop-color="#a8c73b"/><stop offset="0.304" stop-color="#cdc028"/><stop offset="0.341" stop-color="#e3bc2c"/><stop offset="0.484" stop-color="#f7ba3c"/><stop offset="0.538" stop-color="#f2ba38"/><stop offset="0.568" stop-color="#ddbd29"/><stop offset="0.586" stop-color="#c2c22c"/><stop offset="0.604" stop-color="#96ca48"/><stop offset="0.63" stop-color="#40ca8d"/><stop offset="0.648" stop-color="#1bc0b4"/><stop offset="0.656" stop-color="#06bcc0"/><stop offset="0.663" stop-color="#02b7cb"/><stop offset="0.681" stop-color="#18aedb"/><stop offset="0.703" stop-color="#18addb"/><stop offset="0.718" stop-color="#01b8c9"/><stop offset="0.722" stop-color="#05bbc1"/><stop offset="0.729" stop-color="#25c2ae"/><stop offset="0.74" stop-color="#46cb88"/><stop offset="0.758" stop-color="#9cc944"/><stop offset="0.769" stop-color="#bdc32e"/><stop offset="0.784" stop-color="#d2bf27"/><stop offset="0.832" stop-color="#eaba31"/><stop offset="0.853" stop-color="#fabb3d"/><stop offset="0.927" stop-color="#fbd12f"/><stop offset="1" stop-color="#fad42e"/></linearGradient><linearGradient id="hr0"><stop offset="0" stop-color="#f5ed21"/><stop offset="0.49" stop-color="#f6e128"/><stop offset="0.821" stop-color="#f8d92c"/><stop offset="1" stop-color="#f6e028"/></linearGradient><linearGradient id="hr1"><stop offset="0" stop-color="#f5ed21"/><stop offset="0.479" stop-color="#f5e128"/><stop offset="0.806" stop-color="#f9d82c"/><stop offset="1" stop-color="#f6e028"/></linearGradient><linearGradient id="hr2"><stop offset="0" stop-color="#f5ed21"/><stop offset="0.471" stop-color="#f5e128"/><stop offset="0.795" stop-color="#f9d72d"/><stop offset="1" stop-color="#f6e028"/></linearGradient><linearGradient id="hr3"><stop offset="0" stop-color="#f5ed21"/><stop offset="0.46" stop-color="#f5e128"/><stop offset="0.783" stop-color="#fad62d"/><stop offset="1" stop-color="#f6e029"/></linearGradient><linearGradient id="hr4"><stop offset="0" stop-color="#f5ed21"/><stop offset="0.452" stop-color="#f5e128"/><stop offset="0.772" stop-color="#fad52e"/><stop offset="1" stop-color="#f6df29"/></linearGradient><linearGradient id="hr5"><stop offset="0" stop-color="#f5ed21"/><stop offset="0.441" stop-color="#f5e228"/><stop offset="0.764" stop-color="#fad42e"/><stop offset="1" stop-color="#f6df29"/></linearGradient><linearGradient id="hr6"><stop offset="0" stop-color="#f5ed21"/><stop offset="0.433" stop-color="#f5e228"/><stop offset="0.753" stop-color="#fbd32f"/><stop offset="1" stop-color="#f6df29"/></linearGradient><linearGradient id="hr7"><stop offset="0" stop-color="#f5ed21"/><stop offset="0.426" stop-color="#f5e227"/><stop offset="0.745" stop-color="#fbd22f"/><stop offset="1" stop-color="#f6df29"/></linearGradient><linearGradient id="hr8"><stop offset="0" stop-color="#f5ed21"/><stop offset="0.418" stop-color="#f5e227"/><stop offset="0.738" stop-color="#fcd130"/><stop offset="1" stop-color="#f6df29"/></linearGradient><linearGradient id="hr9"><stop offset="0" stop-color="#f5ed21"/><stop offset="0.411" stop-color="#f5e227"/><stop offset="0.73" stop-color="#fcd030"/><stop offset="1" stop-color="#f6df29"/></linearGradient><linearGradient id="hr10"><stop offset="0" stop-color="#f5ed21"/><stop offset="0.403" stop-color="#f5e227"/><stop offset="0.722" stop-color="#fccf31"/><stop offset="1" stop-color="#f6df29"/></linearGradient><linearGradient id="hr11"><stop offset="0" stop-color="#f5ed21"/><stop offset="0.395" stop-color="#f5e227"/><stop offset="0.715" stop-color="#fdce31"/><stop offset="1" stop-color="#f6de29"/></linearGradient><linearGradient id="hr12"><stop offset="0" stop-color="#f5ed21"/><stop offset="0.388" stop-color="#f5e327"/><stop offset="0.707" stop-color="#fdcc32"/><stop offset="1" stop-color="#f6de29"/></linearGradient><linearGradient id="hr13"><stop offset="0" stop-color="#f5ed21"/><stop offset="0.38" stop-color="#f5e327"/><stop offset="0.7" stop-color="#fdcb32"/><stop offset="1" stop-color="#f6de29"/></linearGradient><linearGradient id="hr14"><stop offset="0" stop-color="#f5ed21"/><stop offset="0.373" stop-color="#f5e327"/><stop offset="0.692" stop-color="#feca33"/><stop offset="1" stop-color="#f6de29"/></linearGradient><linearGradient id="hr15"><stop offset="0" stop-color="#f5ed21"/><stop offset="0.365" stop-color="#f5e327"/><stop offset="0.688" stop-color="#fec934"/><stop offset="0.951" stop-color="#f8da2b"/><stop offset="1" stop-color="#f6de29"/></linearGradient><linearGradient id="hr16"><stop offset="0" stop-color="#f5ed21"/><stop offset="0.361" stop-color="#f5e327"/><stop offset="0.681" stop-color="#fec834"/><stop offset="0.913" stop-color="#f9d72d"/><stop offset="1" stop-color="#f6de29"/></linearGradient><linearGradient id="hr17"><stop offset="0" stop-color="#f5ed21"/><stop offset="0.354" stop-color="#f5e327"/><stop offset="0.673" stop-color="#fec735"/><stop offset="0.89" stop-color="#fad42e"/><stop offset="1" stop-color="#f6de29"/></linearGradient><linearGradient id="hr18"><stop offset="0" stop-color="#f5ed21"/><stop offset="0.346" stop-color="#f5e327"/><stop offset="0.669" stop-color="#fec636"/><stop offset="0.878" stop-color="#fbd32e"/><stop offset="1" stop-color="#f6de29"/></linearGradient><linearGradient id="hr19"><stop offset="0" stop-color="#f5ed21"/><stop offset="0.342" stop-color="#f5e327"/><stop offset="0.662" stop-color="#fec537"/><stop offset="0.863" stop-color="#fcd12f"/><stop offset="1" stop-color="#f6de29"/></linearGradient><linearGradient id="hr20"><stop offset="0" stop-color="#f5ed21"/><stop offset="0.335" stop-color="#f5e327"/><stop offset="0.654" stop-color="#fec438"/><stop offset="0.848" stop-color="#fccf30"/><stop offset="1" stop-color="#f6de29"/></linearGradient><linearGradient id="hr21"><stop offset="0" stop-color="#f5ed21"/><stop offset="0.327" stop-color="#f5e427"/><stop offset="0.65" stop-color="#fec338"/><stop offset="0.84" stop-color="#fdce31"/><stop offset="1" stop-color="#f6de29"/></linearGradient><linearGradient id="hr22"><stop offset="0" stop-color="#f5ed21"/><stop offset="0.323" stop-color="#f5e327"/><stop offset="0.643" stop-color="#fec239"/><stop offset="0.825" stop-color="#fdcb32"/><stop offset="1" stop-color="#f6de29"/></linearGradient><linearGradient id="hr23"><stop offset="0" stop-color="#f5ed21"/><stop offset="0.316" stop-color="#f5e427"/><stop offset="0.635" stop-color="#fec13a"/><stop offset="0.814" stop-color="#feca34"/><stop offset="1" stop-color="#f6de29"/></linearGradient><linearGradient id="hr24"><stop offset="0" stop-color="#f5ed21"/><stop offset="0.312" stop-color="#f5e427"/><stop offset="0.627" stop-color="#fec03a"/><stop offset="0.802" stop-color="#fec835"/><stop offset="1" stop-color="#f6de29"/></linearGradient><linearGradient id="hr25"><stop offset="0" stop-color="#f5ed21"/><stop offset="0.308" stop-color="#f5e427"/><stop offset="0.624" stop-color="#febf3b"/><stop offset="0.795" stop-color="#fec736"/><stop offset="1" stop-color="#f6de29"/></linearGradient><linearGradient id="hr26"><stop offset="0" stop-color="#f5ed21"/><stop offset="0.3" stop-color="#f5e427"/><stop offset="0.616" stop-color="#febe3c"/><stop offset="0.787" stop-color="#fec537"/><stop offset="1" stop-color="#f6de29"/></linearGradient><linearGradient id="hr27"><stop offset="0" stop-color="#f5ed21"/><stop offset="0.297" stop-color="#f5e427"/><stop offset="0.605" stop-color="#febd3c"/><stop offset="0.776" stop-color="#fec338"/><stop offset="1" stop-color="#f6de29"/></linearGradient><linearGradient id="hr28"><stop offset="0" stop-color="#f5ed21"/><stop offset="0.293" stop-color="#f5e427"/><stop offset="0.586" stop-color="#febd3c"/><stop offset="0.764" stop-color="#fec239"/><stop offset="1" stop-color="#f6de29"/></linearGradient><linearGradient id="hr29"><stop offset="0" stop-color="#f5ed21"/><stop offset="0.285" stop-color="#f5e427"/><stop offset="0.57" stop-color="#fdbd3d"/><stop offset="0.757" stop-color="#fec03a"/><stop offset="1" stop-color="#f6de29"/></linearGradient><linearGradient id="hr30"><stop offset="0" stop-color="#f5ed21"/><stop offset="0.281" stop-color="#f5e427"/><stop offset="0.555" stop-color="#fdbd3d"/><stop offset="0.711" stop-color="#fcbc3d"/><stop offset="0.928" stop-color="#f9d72c"/><stop offset="1" stop-color="#f6de29"/></linearGradient><linearGradient id="hr31"><stop offset="0" stop-color="#f5ed21"/><stop offset="0.278" stop-color="#f5e427"/><stop offset="0.54" stop-color="#fdbd3d"/><stop offset="0.696" stop-color="#fabb3d"/><stop offset="0.882" stop-color="#fbd12f"/><stop offset="1" stop-color="#f6de29"/></linearGradient><linearGradient id="hr32"><stop offset="0" stop-color="#f5ed21"/><stop offset="0.274" stop-color="#f5e427"/><stop offset="0.529" stop-color="#fdbd3d"/><stop offset="0.673" stop-color="#f8ba3d"/><stop offset="0.821" stop-color="#fec835"/><stop offset="1" stop-color="#f6de29"/></linearGradient><linearGradient id="hr33"><stop offset="0" stop-color="#f5ed21"/><stop offset="0.27" stop-color="#f5e427"/><stop offset="0.513" stop-color="#fdbd3d"/><stop offset="0.658" stop-color="#f6ba3b"/><stop offset="0.787" stop-color="#fec338"/><stop offset="1" stop-color="#f6df29"/></linearGradient><linearGradient id="hr34"><stop offset="0" stop-color="#f5ed21"/><stop offset="0.262" stop-color="#f5e427"/><stop offset="0.502" stop-color="#fdbd3d"/><stop offset="0.643" stop-color="#f3ba39"/><stop offset="0.768" stop-color="#fec03a"/><stop offset="1" stop-color="#f6df29"/></linearGradient><linearGradient id="hr35"><stop offset="0" stop-color="#f5ed22"/><stop offset="0.259" stop-color="#f5e427"/><stop offset="0.494" stop-color="#fdbd3d"/><stop offset="0.631" stop-color="#f2ba37"/><stop offset="0.76" stop-color="#febf3b"/><stop offset="1" stop-color="#f6df29"/></linearGradient><linearGradient id="hr36"><stop offset="0" stop-color="#f5ed22"/><stop offset="0.255" stop-color="#f5e427"/><stop offset="0.471" stop-color="#febf3c"/><stop offset="0.612" stop-color="#f0ba36"/><stop offset="0.757" stop-color="#febe3c"/><stop offset="1" stop-color="#f6df29"/></linearGradient><linearGradient id="hr37"><stop offset="0" stop-color="#f5ed22"/><stop offset="0.251" stop-color="#f5e427"/><stop offset="0.456" stop-color="#fec03b"/><stop offset="0.529" stop-color="#f3ba39"/><stop offset="0.643" stop-color="#efba35"/><stop offset="0.753" stop-color="#febe3c"/><stop offset="1" stop-color="#f6df29"/></linearGradient><linearGradient id="hr38"><stop offset="0" stop-color="#f5ed22"/><stop offset="0.247" stop-color="#f5e427"/><stop offset="0.433" stop-color="#fec338"/><stop offset="0.502" stop-color="#f5ba3a"/><stop offset="0.612" stop-color="#ecba32"/><stop offset="0.753" stop-color="#febd3c"/><stop offset="1" stop-color="#f6df29"/></linearGradient><linearGradient id="hr39"><stop offset="0" stop-color="#f5ed22"/><stop offset="0.247" stop-color="#f5e427"/><stop offset="0.43" stop-color="#fec239"/><stop offset="0.49" stop-color="#f5ba3a"/><stop offset="0.593" stop-color="#eabb30"/><stop offset="0.749" stop-color="#fdbd3d"/><stop offset="1" stop-color="#f6df29"/></linearGradient><linearGradient id="hr40"><stop offset="0" stop-color="#f5ed22"/><stop offset="0.243" stop-color="#f5e427"/><stop offset="0.414" stop-color="#fec438"/><stop offset="0.475" stop-color="#f6ba3b"/><stop offset="0.57" stop-color="#e7bb2e"/><stop offset="0.7" stop-color="#f5ba3a"/><stop offset="0.787" stop-color="#fec338"/><stop offset="1" stop-color="#f6e029"/></linearGradient><linearGradient id="hr41"><stop offset="0" stop-color="#f5ed22"/><stop offset="0.24" stop-color="#f5e427"/><stop offset="0.403" stop-color="#fec537"/><stop offset="0.46" stop-color="#f7ba3c"/><stop offset="0.548" stop-color="#e5bb2d"/><stop offset="0.665" stop-color="#eeba34"/><stop offset="0.745" stop-color="#fdbd3d"/><stop offset="0.996" stop-color="#f6df29"/><stop offset="1" stop-color="#f6e028"/></linearGradient><linearGradient id="hr42"><stop offset="0" stop-color="#f5ed22"/><stop offset="0.236" stop-color="#f5e427"/><stop offset="0.392" stop-color="#fec636"/><stop offset="0.449" stop-color="#f8ba3d"/><stop offset="0.529" stop-color="#e3bc2c"/><stop offset="0.627" stop-color="#e7bb2e"/><stop offset="0.741" stop-color="#fcbc3d"/><stop offset="0.928" stop-color="#f8d92b"/><stop offset="1" stop-color="#f6e028"/></linearGradient><linearGradient id="hr43"><stop offset="0" stop-color="#f5ed22"/><stop offset="0.232" stop-color="#f5e427"/><stop offset="0.384" stop-color="#fec736"/><stop offset="0.437" stop-color="#f9ba3d"/><stop offset="0.517" stop-color="#e0bc2b"/><stop offset="0.608" stop-color="#e2bc2b"/><stop offset="0.741" stop-color="#fcbd3d"/><stop offset="0.935" stop-color="#f8da2b"/><stop offset="1" stop-color="#f6e028"/></linearGradient><linearGradient id="hr44"><stop offset="0" stop-color="#f5ed22"/><stop offset="0.232" stop-color="#f5e327"/><stop offset="0.38" stop-color="#fec636"/><stop offset="0.43" stop-color="#f8ba3d"/><stop offset="0.502" stop-color="#debc2a"/><stop offset="0.578" stop-color="#dcbd29"/><stop offset="0.692" stop-color="#f2ba38"/><stop offset="0.753" stop-color="#febe3c"/><stop offset="0.977" stop-color="#f6df29"/><stop offset="1" stop-color="#f6e028"/></linearGradient><linearGradient id="hr45"><stop offset="0" stop-color="#f5ed22"/><stop offset="0.228" stop-color="#f5e327"/><stop offset="0.373" stop-color="#fec735"/><stop offset="0.422" stop-color="#f8ba3d"/><stop offset="0.49" stop-color="#dcbd29"/><stop offset="0.555" stop-color="#d6be28"/><stop offset="0.669" stop-color="#edba33"/><stop offset="0.738" stop-color="#fcbc3d"/><stop offset="0.916" stop-color="#f8d92c"/><stop offset="1" stop-color="#f6e028"/></linearGradient><linearGradient id="hr46"><stop offset="0" stop-color="#f5ed22"/><stop offset="0.224" stop-color="#f5e427"/><stop offset="0.365" stop-color="#fec835"/><stop offset="0.414" stop-color="#f8ba3d"/><stop offset="0.475" stop-color="#dcbd29"/><stop offset="0.532" stop-color="#cfc028"/><stop offset="0.639" stop-color="#e5bb2c"/><stop offset="0.73" stop-color="#fbbc3d"/><stop offset="0.871" stop-color="#fbd32e"/><stop offset="1" stop-color="#f6e128"/></linearGradient><linearGradient id="hr47"><stop offset="0" stop-color="#f5ed22"/><stop offset="0.224" stop-color="#f5e327"/><stop offset="0.361" stop-color="#fec735"/><stop offset="0.407" stop-color="#f9bb3d"/><stop offset="0.468" stop-color="#d9be28"/><stop offset="0.521" stop-color="#c9c129"/><stop offset="0.597" stop-color="#d7be28"/><stop offset="0.696" stop-color="#f3ba39"/><stop offset="0.753" stop-color="#febf3b"/><stop offset="0.973" stop-color="#f6df29"/><stop offset="1" stop-color="#f6e128"/></linearGradient><linearGradient id="hr48"><stop offset="0" stop-color="#f5ed22"/><stop offset="0.221" stop-color="#f5e327"/><stop offset="0.354" stop-color="#fec834"/><stop offset="0.399" stop-color="#f9bb3d"/><stop offset="0.456" stop-color="#d9be28"/><stop offset="0.51" stop-color="#c3c22b"/><stop offset="0.57" stop-color="#cbc029"/><stop offset="0.654" stop-color="#e8bb2e"/><stop offset="0.726" stop-color="#fbbc3d"/><stop offset="0.863" stop-color="#fbd32f"/><stop offset="1" stop-color="#f6e128"/></linearGradient><linearGradient id="hr49"><stop offset="0" stop-color="#f5ed22"/><stop offset="0.221" stop-color="#f5e327"/><stop offset="0.35" stop-color="#fec834"/><stop offset="0.395" stop-color="#f9bb3d"/><stop offset="0.449" stop-color="#d7be28"/><stop offset="0.506" stop-color="#bcc42f"/><stop offset="0.559" stop-color="#c3c22b"/><stop offset="0.631" stop-color="#dfbc2a"/><stop offset="0.726" stop-color="#fbbc3d"/><stop offset="0.871" stop-color="#fad42e"/><stop offset="1" stop-color="#f5e128"/></linearGradient><linearGradient id="hr50"><stop offset="0" stop-color="#f5ed22"/><stop offset="0.217" stop-color="#f5e327"/><stop offset="0.346" stop-color="#fec834"/><stop offset="0.388" stop-color="#fabb3d"/><stop offset="0.441" stop-color="#d7be28"/><stop offset="0.498" stop-color="#b5c533"/><stop offset="0.544" stop-color="#b8c431"/><stop offset="0.62" stop-color="#d9bd28"/><stop offset="0.722" stop-color="#fbbc3d"/><stop offset="0.859" stop-color="#fbd32e"/><stop offset="1" stop-color="#f5e128"/></linearGradient><linearGradient id="hr51"><stop offset="0" stop-color="#f5ed22"/><stop offset="0.217" stop-color="#f5e327"/><stop offset="0.346" stop-color="#fec735"/><stop offset="0.384" stop-color="#fabb3d"/><stop offset="0.433" stop-color="#d7be28"/><stop offset="0.49" stop-color="#b0c636"/><stop offset="0.529" stop-color="#acc738"/><stop offset="0.612" stop-color="#d4bf28"/><stop offset="0.715" stop-color="#fabb3d"/><stop offset="0.817" stop-color="#fdcd32"/><stop offset="1" stop-color="#f5e128"/></linearGradient><linearGradient id="hr52"><stop offset="0" stop-color="#f5ed22"/><stop offset="0.213" stop-color="#f5e327"/><stop offset="0.338" stop-color="#fec934"/><stop offset="0.38" stop-color="#fabb3d"/><stop offset="0.43" stop-color="#d5be28"/><stop offset="0.487" stop-color="#a9c73b"/><stop offset="0.521" stop-color="#a3c83f"/><stop offset="0.574" stop-color="#bbc42f"/><stop offset="0.624" stop-color="#d9be28"/><stop offset="0.719" stop-color="#fbbc3d"/><stop offset="0.859" stop-color="#fad42e"/><stop offset="1" stop-color="#f5e228"/></linearGradient><linearGradient id="hr53"><stop offset="0" stop-color="#f5ed22"/><stop offset="0.213" stop-color="#f5e327"/><stop offset="0.338" stop-color="#fec835"/><stop offset="0.376" stop-color="#fabb3d"/><stop offset="0.426" stop-color="#d4bf27"/><stop offset="0.471" stop-color="#a9c73a"/><stop offset="0.51" stop-color="#98c947"/><stop offset="0.548" stop-color="#a3c83e"/><stop offset="0.612" stop-color="#d1bf27"/><stop offset="0.692" stop-color="#f5ba3a"/><stop offset="0.753" stop-color="#fec239"/><stop offset="0.958" stop-color="#f6df29"/><stop offset="1" stop-color="#f5e228"/></linearGradient><linearGradient id="hr54"><stop offset="0" stop-color="#f5ed22"/><stop offset="0.209" stop-color="#f5e327"/><stop offset="0.335" stop-color="#fec834"/><stop offset="0.373" stop-color="#fabb3d"/><stop offset="0.422" stop-color="#d3bf27"/><stop offset="0.46" stop-color="#abc739"/><stop offset="0.498" stop-color="#8ecb4e"/><stop offset="0.529" stop-color="#8ecb4f"/><stop offset="0.574" stop-color="#afc637"/><stop offset="0.616" stop-color="#d2bf27"/><stop offset="0.688" stop-color="#f4ba3a"/><stop offset="0.749" stop-color="#fec239"/><stop offset="0.954" stop-color="#f6df29"/><stop offset="1" stop-color="#f5e228"/></linearGradient><linearGradient id="hr55"><stop offset="0" stop-color="#f5ed22"/><stop offset="0.209" stop-color="#f5e227"/><stop offset="0.335" stop-color="#fec735"/><stop offset="0.373" stop-color="#f9bb3d"/><stop offset="0.418" stop-color="#d3bf27"/><stop offset="0.449" stop-color="#aec637"/><stop offset="0.49" stop-color="#80cc59"/><stop offset="0.517" stop-color="#77cc60"/><stop offset="0.548" stop-color="#88cb53"/><stop offset="0.601" stop-color="#c3c22b"/><stop offset="0.639" stop-color="#e0bc2a"/><stop offset="0.707" stop-color="#fabb3d"/><stop offset="0.833" stop-color="#fbd22f"/><stop offset="1" stop-color="#f5e227"/></linearGradient><linearGradient id="hr56"><stop offset="0" stop-color="#f5ed22"/><stop offset="0.209" stop-color="#f5e227"/><stop offset="0.335" stop-color="#fec736"/><stop offset="0.369" stop-color="#fabb3d"/><stop offset="0.411" stop-color="#d7be28"/><stop offset="0.433" stop-color="#b9c430"/><stop offset="0.487" stop-color="#67cd6c"/><stop offset="0.51" stop-color="#59cc79"/><stop offset="0.532" stop-color="#61cd72"/><stop offset="0.563" stop-color="#89cb52"/><stop offset="0.597" stop-color="#bcc42f"/><stop offset="0.627" stop-color="#d9be28"/><stop offset="0.696" stop-color="#f9ba3d"/><stop offset="0.768" stop-color="#fec735"/><stop offset="0.966" stop-color="#f6e128"/><stop offset="1" stop-color="#f5e227"/></linearGradient><linearGradient id="hr57"><stop offset="0" stop-color="#f5ed22"/><stop offset="0.205" stop-color="#f5e227"/><stop offset="0.331" stop-color="#fec735"/><stop offset="0.369" stop-color="#f9bb3d"/><stop offset="0.407" stop-color="#d7be28"/><stop offset="0.426" stop-color="#bac430"/><stop offset="0.456" stop-color="#79cc5e"/><stop offset="0.483" stop-color="#46cb88"/><stop offset="0.506" stop-color="#37c897"/><stop offset="0.529" stop-color="#3eca8f"/><stop offset="0.551" stop-color="#60cd72"/><stop offset="0.589" stop-color="#adc638"/><stop offset="0.616" stop-color="#cfc028"/><stop offset="0.669" stop-color="#f0ba36"/><stop offset="0.711" stop-color="#fdbd3d"/><stop offset="0.928" stop-color="#f6de29"/><stop offset="1" stop-color="#f5e227"/></linearGradient><linearGradient id="hr58"><stop offset="0" stop-color="#f5ed22"/><stop offset="0.205" stop-color="#f5e227"/><stop offset="0.331" stop-color="#fec735"/><stop offset="0.365" stop-color="#fabb3d"/><stop offset="0.399" stop-color="#dbbd29"/><stop offset="0.414" stop-color="#c3c22b"/><stop offset="0.433" stop-color="#96ca48"/><stop offset="0.464" stop-color="#40ca8d"/><stop offset="0.487" stop-color="#25c2ae"/><stop offset="0.506" stop-color="#19bfb5"/><stop offset="0.529" stop-color="#2cc4a7"/><stop offset="0.548" stop-color="#44cb89"/><stop offset="0.586" stop-color="#a4c83e"/><stop offset="0.608" stop-color="#c8c129"/><stop offset="0.646" stop-color="#e6bb2d"/><stop offset="0.696" stop-color="#fabb3d"/><stop offset="0.806" stop-color="#fccf30"/><stop offset="1" stop-color="#f5e327"/></linearGradient><linearGradient id="hr59"><stop offset="0" stop-color="#f5ed22"/><stop offset="0.205" stop-color="#f5e228"/><stop offset="0.331" stop-color="#fec736"/><stop offset="0.365" stop-color="#f9bb3d"/><stop offset="0.395" stop-color="#dabd28"/><stop offset="0.411" stop-color="#bdc32e"/><stop offset="0.426" stop-color="#91ca4c"/><stop offset="0.449" stop-color="#41ca8c"/><stop offset="0.468" stop-color="#1abfb5"/><stop offset="0.475" stop-color="#06bcc0"/><stop offset="0.487" stop-color="#03b7cc"/><stop offset="0.506" stop-color="#05b6ce"/><stop offset="0.517" stop-color="#01b9c6"/><stop offset="0.525" stop-color="#0cbdbc"/><stop offset="0.54" stop-color="#2fc5a3"/><stop offset="0.551" stop-color="#44cb89"/><stop offset="0.582" stop-color="#9cc943"/><stop offset="0.605" stop-color="#c5c22a"/><stop offset="0.639" stop-color="#e3bb2c"/><stop offset="0.692" stop-color="#fabb3d"/><stop offset="0.795" stop-color="#fdce31"/><stop offset="0.992" stop-color="#f5e227"/><stop offset="1" stop-color="#f5e327"/></linearGradient><linearGradient id="hr60"><stop offset="0" stop-color="#f5ec22"/><stop offset="0.205" stop-color="#f5e128"/><stop offset="0.331" stop-color="#fec636"/><stop offset="0.361" stop-color="#fabb3d"/><stop offset="0.388" stop-color="#dfbc2a"/><stop offset="0.399" stop-color="#cac129"/><stop offset="0.414" stop-color="#9fc942"/><stop offset="0.437" stop-color="#44cb8a"/><stop offset="0.452" stop-color="#1fc0b2"/><stop offset="0.46" stop-color="#04bbc2"/><stop offset="0.464" stop-color="#01b8c9"/><stop offset="0.479" stop-color="#18aedb"/><stop offset="0.502" stop-color="#1aacdd"/><stop offset="0.513" stop-color="#0db3d3"/><stop offset="0.521" stop-color="#01b8c8"/><stop offset="0.525" stop-color="#04bbc2"/><stop offset="0.54" stop-color="#2fc5a3"/><stop offset="0.551" stop-color="#47cb87"/><stop offset="0.578" stop-color="#99c946"/><stop offset="0.601" stop-color="#c4c22b"/><stop offset="0.631" stop-color="#e0bc2a"/><stop offset="0.688" stop-color="#fabb3d"/><stop offset="0.791" stop-color="#fdce31"/><stop offset="0.989" stop-color="#f5e227"/><stop offset="1" stop-color="#f5e327"/></linearGradient><linearGradient id="hr61"><stop offset="0" stop-color="#f5ec22"/><stop offset="0.202" stop-color="#f5e228"/><stop offset="0.331" stop-color="#fec636"/><stop offset="0.361" stop-color="#f9ba3d"/><stop offset="0.384" stop-color="#debc2a"/><stop offset="0.395" stop-color="#c6c22a"/><stop offset="0.407" stop-color="#a2c840"/><stop offset="0.43" stop-color="#42ca8c"/><stop offset="0.445" stop-color="#18bfb6"/><stop offset="0.449" stop-color="#09bcbe"/><stop offset="0.452" stop-color="#01b9c6"/><stop offset="0.471" stop-color="#1caadf"/><stop offset="0.494" stop-color="#1ea8e1"/><stop offset="0.51" stop-color="#0fb2d4"/><stop offset="0.517" stop-color="#01b8c8"/><stop offset="0.521" stop-color="#05bbc1"/><stop offset="0.532" stop-color="#29c3a9"/><stop offset="0.548" stop-color="#4bcb84"/><stop offset="0.574" stop-color="#9cc944"/><stop offset="0.597" stop-color="#c4c22b"/><stop offset="0.627" stop-color="#e0bc2a"/><stop offset="0.684" stop-color="#fabb3d"/><stop offset="0.787" stop-color="#fdce31"/><stop offset="0.985" stop-color="#f5e227"/><stop offset="1" stop-color="#f5e327"/></linearGradient><linearGradient id="hr62"><stop offset="0" stop-color="#f5ec22"/><stop offset="0.202" stop-color="#f5e128"/><stop offset="0.331" stop-color="#fec537"/><stop offset="0.357" stop-color="#f9bb3d"/><stop offset="0.376" stop-color="#e2bc2b"/><stop offset="0.388" stop-color="#c8c129"/><stop offset="0.399" stop-color="#a1c840"/><stop offset="0.418" stop-color="#4acb84"/><stop offset="0.426" stop-color="#33c69d"/><stop offset="0.433" stop-color="#1fc0b2"/><stop offset="0.441" stop-color="#02bbc3"/><stop offset="0.445" stop-color="#02b7cb"/><stop offset="0.456" stop-color="#18aedb"/><stop offset="0.479" stop-color="#1ea7e1"/><stop offset="0.498" stop-color="#11b1d6"/><stop offset="0.506" stop-color="#02b7cb"/><stop offset="0.51" stop-color="#02bac4"/><stop offset="0.525" stop-color="#2cc4a6"/><stop offset="0.536" stop-color="#42ca8b"/><stop offset="0.563" stop-color="#91ca4c"/><stop offset="0.582" stop-color="#b6c532"/><stop offset="0.605" stop-color="#d1bf27"/><stop offset="0.662" stop-color="#f4ba39"/><stop offset="0.703" stop-color="#febf3b"/><stop offset="0.901" stop-color="#f6de29"/><stop offset="1" stop-color="#f5e327"/></linearGradient><linearGradient id="hr63"><stop offset="0" stop-color="#f5ec22"/><stop offset="0.202" stop-color="#f5e128"/><stop offset="0.327" stop-color="#fec636"/><stop offset="0.354" stop-color="#fabb3d"/><stop offset="0.373" stop-color="#dfbc2a"/><stop offset="0.38" stop-color="#cbc129"/><stop offset="0.392" stop-color="#9fc942"/><stop offset="0.407" stop-color="#4fcc81"/><stop offset="0.414" stop-color="#33c69e"/><stop offset="0.422" stop-color="#19bfb5"/><stop offset="0.426" stop-color="#07bcbf"/><stop offset="0.43" stop-color="#01b8c9"/><stop offset="0.441" stop-color="#1aacdd"/><stop offset="0.46" stop-color="#22a1e4"/><stop offset="0.483" stop-color="#18addb"/><stop offset="0.494" stop-color="#02b7cb"/><stop offset="0.498" stop-color="#02bac4"/><stop offset="0.513" stop-color="#2dc4a5"/><stop offset="0.529" stop-color="#4dcc82"/><stop offset="0.555" stop-color="#95ca49"/><stop offset="0.578" stop-color="#bbc42f"/><stop offset="0.608" stop-color="#d8be28"/><stop offset="0.673" stop-color="#f9bb3d"/><stop offset="0.745" stop-color="#fec934"/><stop offset="0.939" stop-color="#f6e128"/><stop offset="1" stop-color="#f5e327"/></linearGradient><linearGradient id="hr64"><stop offset="0" stop-color="#f5ec22"/><stop offset="0.202" stop-color="#f5e128"/><stop offset="0.327" stop-color="#fec636"/><stop offset="0.35" stop-color="#fbbc3d"/><stop offset="0.361" stop-color="#eeba34"/><stop offset="0.373" stop-color="#d6be28"/><stop offset="0.38" stop-color="#bdc32f"/><stop offset="0.388" stop-color="#99c946"/><stop offset="0.403" stop-color="#42ca8b"/><stop offset="0.411" stop-color="#2ac3a9"/><stop offset="0.418" stop-color="#04bbc2"/><stop offset="0.422" stop-color="#04b6cd"/><stop offset="0.43" stop-color="#1aacdd"/><stop offset="0.449" stop-color="#259be8"/><stop offset="0.468" stop-color="#20a4e3"/><stop offset="0.479" stop-color="#12b1d6"/><stop offset="0.487" stop-color="#01b9c7"/><stop offset="0.49" stop-color="#08bcbf"/><stop offset="0.498" stop-color="#25c2ae"/><stop offset="0.513" stop-color="#44cb89"/><stop offset="0.54" stop-color="#8dcb50"/><stop offset="0.567" stop-color="#b8c431"/><stop offset="0.597" stop-color="#d4bf28"/><stop offset="0.665" stop-color="#f8ba3d"/><stop offset="0.726" stop-color="#fec636"/><stop offset="0.924" stop-color="#f6e028"/><stop offset="1" stop-color="#f5e327"/></linearGradient><clipPath id="cl"><rect x="53" y="24" width="273" height="130"/></clipPath><clipPath id="cr"><rect x="357" y="24" width="263" height="130"/></clipPath><linearGradient id="cbg" x1="0" y1="0" x2="0" y2="1"><stop offset="0.000" stop-color="#f9fb15"/><stop offset="0.016" stop-color="#f7f51b"/><stop offset="0.032" stop-color="#f6ef20"/><stop offset="0.048" stop-color="#f5e924"/><stop offset="0.063" stop-color="#f5e327"/><stop offset="0.079" stop-color="#f7dc2a"/><stop offset="0.095" stop-color="#fad62d"/><stop offset="0.111" stop-color="#fccf30"/><stop offset="0.127" stop-color="#fec934"/><stop offset="0.143" stop-color="#fec338"/><stop offset="0.159" stop-color="#febe3c"/><stop offset="0.175" stop-color="#f8ba3d"/><stop offset="0.190" stop-color="#f0ba36"/><stop offset="0.206" stop-color="#e6bb2d"/><stop offset="0.222" stop-color="#dcbd29"/><stop offset="0.238" stop-color="#d1bf27"/><stop offset="0.254" stop-color="#c5c22a"/><stop offset="0.270" stop-color="#b9c431"/><stop offset="0.286" stop-color="#abc739"/><stop offset="0.302" stop-color="#9dc943"/><stop offset="0.317" stop-color="#8fcb4e"/><stop offset="0.333" stop-color="#81cc59"/><stop offset="0.349" stop-color="#72cd64"/><stop offset="0.365" stop-color="#64cd6f"/><stop offset="0.381" stop-color="#57cc7a"/><stop offset="0.397" stop-color="#4acb84"/><stop offset="0.413" stop-color="#3fca8e"/><stop offset="0.429" stop-color="#37c897"/><stop offset="0.444" stop-color="#31c69f"/><stop offset="0.460" stop-color="#2cc4a7"/><stop offset="0.476" stop-color="#24c1ae"/><stop offset="0.492" stop-color="#19bfb6"/><stop offset="0.508" stop-color="#0bbdbd"/><stop offset="0.524" stop-color="#02bac3"/><stop offset="0.540" stop-color="#01b8ca"/><stop offset="0.556" stop-color="#08b5d0"/><stop offset="0.571" stop-color="#12b1d6"/><stop offset="0.587" stop-color="#18addb"/><stop offset="0.603" stop-color="#1ca9df"/><stop offset="0.619" stop-color="#20a5e3"/><stop offset="0.635" stop-color="#23a0e5"/><stop offset="0.651" stop-color="#259be8"/><stop offset="0.667" stop-color="#2797eb"/><stop offset="0.683" stop-color="#2b91ef"/><stop offset="0.698" stop-color="#2d8cf3"/><stop offset="0.714" stop-color="#2e87f7"/><stop offset="0.730" stop-color="#2f81fa"/><stop offset="0.746" stop-color="#327cfc"/><stop offset="0.762" stop-color="#3875fe"/><stop offset="0.778" stop-color="#3e6fff"/><stop offset="0.794" stop-color="#4269fe"/><stop offset="0.810" stop-color="#4563fd"/><stop offset="0.825" stop-color="#465efb"/><stop offset="0.841" stop-color="#4758f8"/><stop offset="0.857" stop-color="#4852f4"/><stop offset="0.873" stop-color="#484df0"/><stop offset="0.889" stop-color="#4747eb"/><stop offset="0.905" stop-color="#4741e5"/><stop offset="0.921" stop-color="#463cde"/><stop offset="0.937" stop-color="#4537d5"/><stop offset="0.952" stop-color="#4332cb"/><stop offset="0.968" stop-color="#422ec0"/><stop offset="0.984" stop-color="#402ab4"/><stop offset="1.000" stop-color="#3e26a8"/></linearGradient><clipPath id="ccl"><rect x="55.5" y="280.8" width="277.5" height="145.6"/></clipPath><clipPath id="ccr"><rect x="367.1" y="282.3" width="277.6" height="144.7"/></clipPath></defs>
<g clip-path="url(#cl)"><rect x="53" y="24" width="273" height="2.6" fill="url(#hl0)"/><rect x="53" y="26" width="273" height="2.6" fill="url(#hl1)"/><rect x="53" y="28" width="273" height="2.6" fill="url(#hl2)"/><rect x="53" y="30" width="273" height="2.6" fill="url(#hl3)"/><rect x="53" y="32" width="273" height="2.6" fill="url(#hl4)"/><rect x="53" y="34" width="273" height="2.6" fill="url(#hl5)"/><rect x="53" y="36" width="273" height="2.6" fill="url(#hl6)"/><rect x="53" y="38" width="273" height="2.6" fill="url(#hl7)"/><rect x="53" y="40" width="273" height="2.6" fill="url(#hl8)"/><rect x="53" y="42" width="273" height="2.6" fill="url(#hl9)"/><rect x="53" y="44" width="273" height="2.6" fill="url(#hl10)"/><rect x="53" y="46" width="273" height="2.6" fill="url(#hl11)"/><rect x="53" y="48" width="273" height="2.6" fill="url(#hl12)"/><rect x="53" y="50" width="273" height="2.6" fill="url(#hl13)"/><rect x="53" y="52" width="273" height="2.6" fill="url(#hl14)"/><rect x="53" y="54" width="273" height="2.6" fill="url(#hl15)"/><rect x="53" y="56" width="273" height="2.6" fill="url(#hl16)"/><rect x="53" y="58" width="273" height="2.6" fill="url(#hl17)"/><rect x="53" y="60" width="273" height="2.6" fill="url(#hl18)"/><rect x="53" y="62" width="273" height="2.6" fill="url(#hl19)"/><rect x="53" y="64" width="273" height="2.6" fill="url(#hl20)"/><rect x="53" y="66" width="273" height="2.6" fill="url(#hl21)"/><rect x="53" y="68" width="273" height="2.6" fill="url(#hl22)"/><rect x="53" y="70" width="273" height="2.6" fill="url(#hl23)"/><rect x="53" y="72" width="273" height="2.6" fill="url(#hl24)"/><rect x="53" y="74" width="273" height="2.6" fill="url(#hl25)"/><rect x="53" y="76" width="273" height="2.6" fill="url(#hl26)"/><rect x="53" y="78" width="273" height="2.6" fill="url(#hl27)"/><rect x="53" y="80" width="273" height="2.6" fill="url(#hl28)"/><rect x="53" y="82" width="273" height="2.6" fill="url(#hl29)"/><rect x="53" y="84" width="273" height="2.6" fill="url(#hl30)"/><rect x="53" y="86" width="273" height="2.6" fill="url(#hl31)"/><rect x="53" y="88" width="273" height="2.6" fill="url(#hl32)"/><rect x="53" y="90" width="273" height="2.6" fill="url(#hl33)"/><rect x="53" y="92" width="273" height="2.6" fill="url(#hl34)"/><rect x="53" y="94" width="273" height="2.6" fill="url(#hl35)"/><rect x="53" y="96" width="273" height="2.6" fill="url(#hl36)"/><rect x="53" y="98" width="273" height="2.6" fill="url(#hl37)"/><rect x="53" y="100" width="273" height="2.6" fill="url(#hl38)"/><rect x="53" y="102" width="273" height="2.6" fill="url(#hl39)"/><rect x="53" y="104" width="273" height="2.6" fill="url(#hl40)"/><rect x="53" y="106" width="273" height="2.6" fill="url(#hl41)"/><rect x="53" y="108" width="273" height="2.6" fill="url(#hl42)"/><rect x="53" y="110" width="273" height="2.6" fill="url(#hl43)"/><rect x="53" y="112" width="273" height="2.6" fill="url(#hl44)"/><rect x="53" y="114" width="273" height="2.6" fill="url(#hl45)"/><rect x="53" y="116" width="273" height="2.6" fill="url(#hl46)"/><rect x="53" y="118" width="273" height="2.6" fill="url(#hl47)"/><rect x="53" y="120" width="273" height="2.6" fill="url(#hl48)"/><rect x="53" y="122" width="273" height="2.6" fill="url(#hl49)"/><rect x="53" y="124" width="273" height="2.6" fill="url(#hl50)"/><rect x="53" y="126" width="273" height="2.6" fill="url(#hl51)"/><rect x="53" y="128" width="273" height="2.6" fill="url(#hl52)"/><rect x="53" y="130" width="273" height="2.6" fill="url(#hl53)"/><rect x="53" y="132" width="273" height="2.6" fill="url(#hl54)"/><rect x="53" y="134" width="273" height="2.6" fill="url(#hl55)"/><rect x="53" y="136" width="273" height="2.6" fill="url(#hl56)"/><rect x="53" y="138" width="273" height="2.6" fill="url(#hl57)"/><rect x="53" y="140" width="273" height="2.6" fill="url(#hl58)"/><rect x="53" y="142" width="273" height="2.6" fill="url(#hl59)"/><rect x="53" y="144" width="273" height="2.6" fill="url(#hl60)"/><rect x="53" y="146" width="273" height="2.6" fill="url(#hl61)"/><rect x="53" y="148" width="273" height="2.6" fill="url(#hl62)"/><rect x="53" y="150" width="273" height="2.6" fill="url(#hl63)"/><rect x="53" y="152" width="273" height="2.6" fill="url(#hl64)"/></g>
<g clip-path="url(#cr)"><rect x="357" y="24" width="263" height="2.6" fill="url(#hr0)"/><rect x="357" y="26" width="263" height="2.6" fill="url(#hr1)"/><rect x="357" y="28" width="263" height="2.6" fill="url(#hr2)"/><rect x="357" y="30" width="263" height="2.6" fill="url(#hr3)"/><rect x="357" y="32" width="263" height="2.6" fill="url(#hr4)"/><rect x="357" y="34" width="263" height="2.6" fill="url(#hr5)"/><rect x="357" y="36" width="263" height="2.6" fill="url(#hr6)"/><rect x="357" y="38" width="263" height="2.6" fill="url(#hr7)"/><rect x="357" y="40" width="263" height="2.6" fill="url(#hr8)"/><rect x="357" y="42" width="263" height="2.6" fill="url(#hr9)"/><rect x="357" y="44" width="263" height="2.6" fill="url(#hr10)"/><rect x="357" y="46" width="263" height="2.6" fill="url(#hr11)"/><rect x="357" y="48" width="263" height="2.6" fill="url(#hr12)"/><rect x="357" y="50" width="263" height="2.6" fill="url(#hr13)"/><rect x="357" y="52" width="263" height="2.6" fill="url(#hr14)"/><rect x="357" y="54" width="263" height="2.6" fill="url(#hr15)"/><rect x="357" y="56" width="263" height="2.6" fill="url(#hr16)"/><rect x="357" y="58" width="263" height="2.6" fill="url(#hr17)"/><rect x="357" y="60" width="263" height="2.6" fill="url(#hr18)"/><rect x="357" y="62" width="263" height="2.6" fill="url(#hr19)"/><rect x="357" y="64" width="263" height="2.6" fill="url(#hr20)"/><rect x="357" y="66" width="263" height="2.6" fill="url(#hr21)"/><rect x="357" y="68" width="263" height="2.6" fill="url(#hr22)"/><rect x="357" y="70" width="263" height="2.6" fill="url(#hr23)"/><rect x="357" y="72" width="263" height="2.6" fill="url(#hr24)"/><rect x="357" y="74" width="263" height="2.6" fill="url(#hr25)"/><rect x="357" y="76" width="263" height="2.6" fill="url(#hr26)"/><rect x="357" y="78" width="263" height="2.6" fill="url(#hr27)"/><rect x="357" y="80" width="263" height="2.6" fill="url(#hr28)"/><rect x="357" y="82" width="263" height="2.6" fill="url(#hr29)"/><rect x="357" y="84" width="263" height="2.6" fill="url(#hr30)"/><rect x="357" y="86" width="263" height="2.6" fill="url(#hr31)"/><rect x="357" y="88" width="263" height="2.6" fill="url(#hr32)"/><rect x="357" y="90" width="263" height="2.6" fill="url(#hr33)"/><rect x="357" y="92" width="263" height="2.6" fill="url(#hr34)"/><rect x="357" y="94" width="263" height="2.6" fill="url(#hr35)"/><rect x="357" y="96" width="263" height="2.6" fill="url(#hr36)"/><rect x="357" y="98" width="263" height="2.6" fill="url(#hr37)"/><rect x="357" y="100" width="263" height="2.6" fill="url(#hr38)"/><rect x="357" y="102" width="263" height="2.6" fill="url(#hr39)"/><rect x="357" y="104" width="263" height="2.6" fill="url(#hr40)"/><rect x="357" y="106" width="263" height="2.6" fill="url(#hr41)"/><rect x="357" y="108" width="263" height="2.6" fill="url(#hr42)"/><rect x="357" y="110" width="263" height="2.6" fill="url(#hr43)"/><rect x="357" y="112" width="263" height="2.6" fill="url(#hr44)"/><rect x="357" y="114" width="263" height="2.6" fill="url(#hr45)"/><rect x="357" y="116" width="263" height="2.6" fill="url(#hr46)"/><rect x="357" y="118" width="263" height="2.6" fill="url(#hr47)"/><rect x="357" y="120" width="263" height="2.6" fill="url(#hr48)"/><rect x="357" y="122" width="263" height="2.6" fill="url(#hr49)"/><rect x="357" y="124" width="263" height="2.6" fill="url(#hr50)"/><rect x="357" y="126" width="263" height="2.6" fill="url(#hr51)"/><rect x="357" y="128" width="263" height="2.6" fill="url(#hr52)"/><rect x="357" y="130" width="263" height="2.6" fill="url(#hr53)"/><rect x="357" y="132" width="263" height="2.6" fill="url(#hr54)"/><rect x="357" y="134" width="263" height="2.6" fill="url(#hr55)"/><rect x="357" y="136" width="263" height="2.6" fill="url(#hr56)"/><rect x="357" y="138" width="263" height="2.6" fill="url(#hr57)"/><rect x="357" y="140" width="263" height="2.6" fill="url(#hr58)"/><rect x="357" y="142" width="263" height="2.6" fill="url(#hr59)"/><rect x="357" y="144" width="263" height="2.6" fill="url(#hr60)"/><rect x="357" y="146" width="263" height="2.6" fill="url(#hr61)"/><rect x="357" y="148" width="263" height="2.6" fill="url(#hr62)"/><rect x="357" y="150" width="263" height="2.6" fill="url(#hr63)"/><rect x="357" y="152" width="263" height="2.6" fill="url(#hr64)"/></g>
<g clip-path="url(#cl)">
<path d="M75.5,24 75.83,28.33 76.13,32.53 76.42,36.72 76.75,41.06 77.13,45.67 77.6,50.7 78.2,56.45 78.93,62.89 79.72,69.59 80.49,76.18 81.17,82.25 81.7,87.4 82.07,91.52 82.33,94.91 82.5,97.78 82.61,100.34 82.67,102.81 82.7,105.4 82.7,108.06 82.64,110.61 82.54,113.08 82.39,115.45 82.21,117.76 82,120 81.76,122.17 81.49,124.27 81.18,126.29 80.83,128.24 80.44,130.15 80,132 79.52,133.82 79.02,135.61 78.47,137.34 77.87,139 77.18,140.56 76.4,142 75.5,143.31 74.48,144.5 73.38,145.59 72.24,146.61 71.1,147.57 70,148.5 68.89,149.39 67.73,150.24 66.57,151.03 65.45,151.76 64.41,152.42 63.5,153 62.74,153.48 62.11,153.85 61.56,154.16 61.06,154.43 60.55,154.7 60,155" fill="none" stroke="#ff19ff" stroke-width="1.65" stroke-dasharray="10.4 5.9"/>
<path d="M100.7,24 100.54,26.38 100.34,28.33 100.14,30.29 99.98,32.67 99.92,35.9 100,40.4 100.29,46.68 100.77,54.49 101.34,63.16 101.92,71.99 102.4,80.29 102.7,87.4 102.83,93.39 102.87,98.81 102.82,103.73 102.68,108.15 102.44,112.13 102.1,115.7 101.71,118.62 101.29,120.8 100.78,122.54 100.1,124.12 99.19,125.81 98,127.9 96.45,130.49 94.57,133.36 92.48,136.36 90.25,139.29 87.99,142 85.8,144.3 83.52,146.19 81.05,147.82 78.54,149.21 76.17,150.41 74.1,151.46 72.5,152.4 71.46,153.15 70.87,153.67 70.58,154.04 70.43,154.34 70.29,154.63 70,155" fill="none" stroke="#ff19ff" stroke-width="1.65" stroke-dasharray="10.4 5.9"/>
<path d="M117.4,24 117.42,28.31 117.47,32.45 117.52,36.59 117.55,40.9 117.52,45.55 117.4,50.7 117.17,56.68 116.84,63.43 116.46,70.52 116.07,77.51 115.7,83.98 115.4,89.5 115.25,93.96 115.22,97.69 115.22,100.9 115.16,103.8 114.91,106.59 114.4,109.5 113.62,112.47 112.64,115.31 111.5,118.06 110.2,120.72 108.76,123.33 107.2,125.9 105.48,128.43 103.58,130.9 101.54,133.31 99.41,135.67 97.21,137.96 95,140.2 92.62,142.47 90,144.78 87.32,147.03 84.76,149.12 82.49,150.95 80.7,152.4 79.47,153.39 78.68,153.98 78.19,154.3 77.84,154.49 77.49,154.68 77,155" fill="none" stroke="#ff19ff" stroke-width="1.65" stroke-dasharray="10.4 5.9"/>
<path d="M132.8,24 132.82,30.25 132.88,36.61 132.93,42.97 132.96,49.21 132.92,55.23 132.8,60.9 132.59,66.25 132.33,71.37 132.01,76.26 131.63,80.91 131.19,85.33 130.7,89.5 130.19,93.35 129.67,96.86 129.09,100.14 128.42,103.27 127.6,106.36 126.6,109.5 125.42,112.71 124.1,115.9 122.64,119.06 121.03,122.13 119.29,125.09 117.4,127.9 115.33,130.57 113.09,133.12 110.69,135.56 108.2,137.89 105.66,140.1 103.1,142.2 100.35,144.23 97.35,146.19 94.29,148.03 91.38,149.71 88.82,151.19 86.8,152.4 85.44,153.27 84.61,153.83 84.12,154.18 83.8,154.41 83.49,154.65 83,155" fill="none" stroke="#ff19ff" stroke-width="1.65" stroke-dasharray="10.4 5.9"/>
<path d="M152.2,24 151.67,30.25 151.13,36.61 150.58,42.97 150.05,49.21 149.55,55.23 149.1,60.9 148.76,66.29 148.54,71.52 148.36,76.51 148.11,81.21 147.72,85.56 147.1,89.5 146.24,92.88 145.2,95.72 144.01,98.21 142.71,100.53 141.33,102.87 139.9,105.4 138.42,108.13 136.87,110.91 135.24,113.7 133.51,116.47 131.67,119.18 129.7,121.8 127.58,124.33 125.31,126.8 122.94,129.21 120.47,131.56 117.95,133.86 115.4,136.1 112.73,138.33 109.89,140.56 106.99,142.73 104.14,144.8 101.45,146.7 99,148.4 96.85,149.83 94.93,151.02 93.16,152.06 91.47,153.01 89.77,153.97 88,155" fill="none" stroke="#ff19ff" stroke-width="1.65" stroke-dasharray="10.4 5.9"/>
<path d="M174.7,24 174.37,32.18 174.07,40.76 173.77,49.34 173.45,57.53 173.07,64.91 172.6,71.1 172.07,75.86 171.49,79.45 170.86,82.25 170.16,84.61 169.38,86.91 168.5,89.5 167.56,92.29 166.59,94.97 165.52,97.58 164.34,100.16 162.98,102.75 161.4,105.4 159.58,108.15 157.54,110.99 155.33,113.83 152.99,116.63 150.57,119.3 148.1,121.8 145.5,124.12 142.71,126.33 139.83,128.41 136.97,130.39 134.23,132.25 131.7,134 129.45,135.6 127.4,137.03 125.47,138.35 123.57,139.61 121.61,140.88 119.5,142.2 117.18,143.61 114.7,145.07 112.16,146.52 109.67,147.93 107.31,149.24 105.2,150.4 103.37,151.38 101.76,152.2 100.28,152.93 98.88,153.6 97.47,154.28 96,155" fill="none" stroke="#ff19ff" stroke-width="1.65" stroke-dasharray="10.4 5.9"/>
<path d="M195.1,24 195.25,26.62 195.39,29.09 195.53,31.56 195.69,34.18 195.87,37.08 196.1,40.4 196.41,44.31 196.8,48.74 197.21,53.45 197.61,58.21 197.96,62.81 198.2,67 198.39,70.71 198.59,74.12 198.72,77.35 198.74,80.55 198.58,83.85 198.2,87.4 197.68,91.25 197.08,95.29 196.31,99.44 195.27,103.6 193.87,107.68 192,111.6 189.59,115.45 186.7,119.31 183.44,123.11 179.93,126.72 176.28,130.05 172.6,133 168.85,135.5 164.93,137.63 160.86,139.48 156.69,141.14 152.42,142.72 148.1,144.3 143.48,145.9 138.5,147.44 133.42,148.89 128.55,150.23 124.15,151.41 120.5,152.4 117.76,153.15 115.73,153.67 114.18,154.04 112.87,154.34 111.55,154.63 110,155" fill="none" stroke="#ff19ff" stroke-width="1.65" stroke-dasharray="10.4 5.9"/>
<path d="M209.4,24 209.72,26.38 209.99,28.33 210.26,30.29 210.58,32.67 210.98,35.9 211.5,40.4 212.21,46.8 213.09,54.87 214.06,63.8 215.02,72.75 215.89,80.89 216.6,87.4 217.17,92.07 217.67,95.53 218.08,98.18 218.39,100.43 218.57,102.7 218.6,105.4 218.47,108.54 218.2,111.8 217.8,115.08 217.29,118.27 216.68,121.28 216,124 215.19,126.45 214.21,128.69 213.15,130.76 212.05,132.65 210.98,134.39 210,136 209.14,137.39 208.37,138.54 207.62,139.53 206.85,140.46 206,141.42 205,142.5 203.81,143.72 202.44,145.02 201,146.34 199.56,147.65 198.19,148.88 197,150 195.99,150.98 195.11,151.85 194.31,152.66 193.56,153.43 192.8,154.2 192,155" fill="none" stroke="#ff19ff" stroke-width="1.65" stroke-dasharray="10.4 5.9"/>
<path d="M220.7,24 220.81,26.38 220.84,28.33 220.88,30.29 220.99,32.67 221.24,35.9 221.7,40.4 222.47,46.8 223.5,54.87 224.68,63.8 225.87,72.75 226.96,80.89 227.8,87.4 228.44,92 228.99,95.3 229.43,97.8 229.73,99.99 229.9,102.35 229.9,105.4 229.74,109.19 229.44,113.34 228.99,117.68 228.4,122.01 227.67,126.18 226.8,130 225.69,133.56 224.31,137.03 222.79,140.33 221.26,143.37 219.82,146.09 218.6,148.4 217.62,150.18 216.8,151.47 216.08,152.44 215.4,153.24 214.72,154.04 214,155" fill="none" stroke="#ff19ff" stroke-width="1.65" stroke-dasharray="10.4 5.9"/>
<path d="M231.9,24 232.01,28.33 232.04,32.53 232.08,36.72 232.19,41.06 232.44,45.67 232.9,50.7 233.67,56.45 234.7,62.89 235.88,69.59 237.07,76.18 238.16,82.25 239,87.4 239.64,91.38 240.19,94.47 240.62,97.03 240.93,99.46 241.1,102.12 241.1,105.4 240.94,109.43 240.64,113.93 240.19,118.68 239.6,123.42 238.87,127.94 238,132 236.88,135.7 235.48,139.25 233.94,142.58 232.4,145.59 231.01,148.23 229.9,150.4 229.12,151.97 228.55,152.96 228.13,153.56 227.77,153.98 227.42,154.39 227,155" fill="none" stroke="#ff19ff" stroke-width="1.65" stroke-dasharray="10.4 5.9"/>
<path d="M244.2,24 244.32,28.33 244.38,32.53 244.44,36.72 244.56,41.06 244.8,45.67 245.2,50.7 245.85,56.45 246.71,62.89 247.69,69.59 248.68,76.18 249.58,82.25 250.3,87.4 250.87,91.36 251.38,94.39 251.81,96.91 252.12,99.31 252.29,102 252.3,105.4 252.17,109.69 251.94,114.6 251.57,119.8 251.03,124.98 250.28,129.82 249.3,134 247.93,137.58 246.17,140.81 244.21,143.7 242.24,146.26 240.44,148.49 239,150.4 237.97,151.85 237.2,152.81 236.61,153.44 236.1,153.9 235.59,154.37 235,155" fill="none" stroke="#ff19ff" stroke-width="1.65" stroke-dasharray="10.4 5.9"/>
<path d="M264.6,24 264.77,30.27 264.93,36.69 265.1,43.1 265.27,49.37 265.43,55.35 265.6,60.9 265.79,65.97 266.01,70.67 266.23,75.08 266.41,79.28 266.55,83.36 266.6,87.4 266.58,91.33 266.53,95.08 266.42,98.7 266.24,102.27 265.97,105.84 265.6,109.5 265.17,113.32 264.69,117.27 264.13,121.24 263.43,125.09 262.57,128.72 261.5,132 260.13,134.95 258.48,137.68 256.66,140.17 254.78,142.44 252.95,144.49 251.3,146.3 249.77,147.83 248.27,149.07 246.82,150.08 245.46,150.93 244.21,151.68 243.1,152.4 242.18,153.04 241.43,153.53 240.79,153.92 240.21,154.26 239.64,154.61 239,155" fill="none" stroke="#ff19ff" stroke-width="1.65" stroke-dasharray="10.4 5.9"/>
<path d="M327,40 326.72,40.4 326.53,40.58 326.33,40.76 326.05,41.16 325.6,42 324.9,43.5 323.91,45.75 322.69,48.6 321.31,51.89 319.81,55.47 318.25,59.19 316.7,62.9 315.12,66.69 313.45,70.7 311.73,74.85 309.97,79.07 308.22,83.28 306.5,87.4 304.87,91.49 303.33,95.63 301.78,99.76 300.15,103.83 298.35,107.79 296.3,111.6 293.98,115.29 291.47,118.91 288.79,122.42 285.97,125.79 283.03,129 280,132 276.83,134.83 273.48,137.52 270.01,140.04 266.49,142.37 262.97,144.46 259.5,146.3 255.93,147.83 252.17,149.07 248.41,150.08 244.83,150.93 241.64,151.68 239,152.4 237.05,153.04 235.67,153.53 234.66,153.92 233.83,154.26 233.01,154.61 232,155" fill="none" stroke="#ff19ff" stroke-width="1.65" stroke-dasharray="10.4 5.9"/>
<path d="M327,145 326.23,145.16 325.76,145.26 325.3,145.35 324.53,145.51 323.13,145.81 320.8,146.3 317.08,147.09 312.13,148.14 306.56,149.33 300.98,150.52 295.99,151.59 292.2,152.4 289.76,152.93 288.21,153.27 287.26,153.48 286.61,153.63 285.95,153.79 285,154" fill="none" stroke="#ff19ff" stroke-width="1.65" stroke-dasharray="10.4 5.9"/>
</g>
<g clip-path="url(#cr)">
<path d="M376.5,24 376.93,28.31 377.27,32.45 377.61,36.59 378.04,40.9 378.64,45.55 379.5,50.7 380.77,56.83 382.41,63.89 384.22,71.29 386.01,78.42 387.57,84.69 388.7,89.5 389.26,92.45 389.37,93.94 389.26,94.56 389.14,94.92 389.21,95.6 389.7,97.2 390.65,99.77 391.9,102.84 393.35,106.23 394.9,109.77 396.45,113.29 397.9,116.6 399.29,119.8 400.71,123.03 402.13,126.24 403.52,129.36 404.85,132.3 406.1,135 407.28,137.46 408.44,139.72 409.53,141.82 410.54,143.77 411.44,145.59 412.2,147.3 412.78,148.85 413.2,150.21 413.5,151.44 413.75,152.6 414,153.77 414.3,155" fill="none" stroke="#ff19ff" stroke-width="1.65" stroke-dasharray="10.4 5.9"/>
<path d="M430.6,24 430.62,25.01 430.48,25.36 430.33,25.72 430.36,26.73 430.72,29.04 431.6,33.3 433.16,40.34 435.31,49.79 437.8,60.54 440.39,71.49 442.84,81.51 444.9,89.5 446.59,95.33 448.09,99.87 449.45,103.49 450.71,106.55 451.91,109.43 453.1,112.5 454.28,115.64 455.44,118.53 456.53,121.24 457.54,123.83 458.44,126.36 459.2,128.9 459.82,131.52 460.31,134.2 460.69,136.82 460.98,139.27 461.18,141.43 461.3,143.2 461.36,144.47 461.36,145.3 461.26,145.85 461.07,146.27 460.75,146.7 460.3,147.3 459.72,148.07 459.03,148.89 458.21,149.72 457.27,150.54 456.21,151.31 455,152 453.61,152.6 452.01,153.13 450.29,153.61 448.51,154.06 446.72,154.52 445,155" fill="none" stroke="#ff19ff" stroke-width="1.65" stroke-dasharray="10.4 5.9"/>
<path d="M455.1,24 454.97,25.01 454.68,25.36 454.39,25.72 454.26,26.73 454.45,29.04 455.1,33.3 456.38,40.38 458.19,49.94 460.31,60.8 462.53,71.79 464.63,81.75 466.4,89.5 467.87,94.79 469.23,98.5 470.46,101.18 471.59,103.36 472.6,105.59 473.5,108.4 474.29,111.88 474.97,115.61 475.53,119.39 475.99,123 476.34,126.24 476.6,128.9 476.74,130.87 476.74,132.28 476.65,133.33 476.48,134.17 476.25,135.01 476,136 475.73,137.13 475.42,138.25 475.06,139.35 474.63,140.43 474.11,141.48 473.5,142.5 472.84,143.49 472.17,144.45 471.41,145.39 470.5,146.29 469.39,147.16 468,148 466.21,148.81 464.04,149.6 461.66,150.36 459.24,151.07 456.96,151.72 455,152.3 453.38,152.79 451.96,153.19 450.69,153.53 449.48,153.84 448.28,154.16 447,154.5" fill="none" stroke="#ff19ff" stroke-width="1.65" stroke-dasharray="10.4 5.9"/>
<path d="M475.6,24 475.51,25.01 475.3,25.36 475.09,25.72 474.99,26.73 475.13,29.04 475.6,33.3 476.55,40.38 477.92,49.94 479.51,60.8 481.15,71.79 482.64,81.75 483.8,89.5 484.62,94.87 485.25,98.76 485.74,101.61 486.13,103.87 486.46,105.99 486.8,108.4 487.12,111.03 487.4,113.5 487.62,115.82 487.79,118 487.92,120.06 488,122 488.03,123.77 488.01,125.36 487.95,126.82 487.84,128.21 487.69,129.58 487.5,131 487.31,132.47 487.11,133.96 486.88,135.44 486.56,136.87 486.11,138.23 485.5,139.5 484.75,140.65 483.91,141.7 482.94,142.69 481.81,143.63 480.51,144.56 479,145.5 477.19,146.47 475.07,147.44 472.78,148.41 470.43,149.33 468.13,150.2 466,151 464.05,151.7 462.19,152.31 460.38,152.88 458.59,153.41 456.81,153.94 455,154.5" fill="none" stroke="#ff19ff" stroke-width="1.65" stroke-dasharray="10.4 5.9"/>
<path d="M502.3,24 502.21,25.01 502.1,25.36 501.99,25.72 501.9,26.73 501.86,29.04 501.9,33.3 502.06,40.27 502.32,49.56 502.64,60.16 502.94,71.03 503.18,81.15 503.3,89.5 503.28,96.14 503.17,101.9 503,106.91 502.78,111.29 502.54,115.18 502.3,118.7 502.08,121.65 501.88,123.88 501.65,125.61 501.37,127.07 500.99,128.46 500.5,130 499.9,131.67 499.24,133.28 498.48,134.83 497.62,136.31 496.63,137.7 495.5,139 494.21,140.19 492.77,141.27 491.21,142.28 489.54,143.21 487.8,144.12 486,145 484.13,145.86 482.16,146.68 480.11,147.46 478.01,148.21 475.86,148.92 473.7,149.6 471.45,150.25 469.1,150.87 466.71,151.46 464.34,152.01 462.09,152.53 460,153 458.12,153.41 456.39,153.77 454.77,154.09 453.2,154.39 451.62,154.68 450,155" fill="none" stroke="#ff19ff" stroke-width="1.65" stroke-dasharray="10.4 5.9"/>
<path d="M565.6,33.3 565.01,34.68 564.53,35.87 564.06,37.07 563.47,38.45 562.65,40.2 561.5,42.5 559.93,45.46 558,48.94 555.85,52.79 553.6,56.86 551.38,60.98 549.3,65 547.32,69.1 545.31,73.45 543.33,77.86 541.42,82.13 539.63,86.07 538,89.5 536.63,92.2 535.51,94.27 534.51,96.02 533.5,97.75 532.34,99.74 530.9,102.3 529.13,105.61 527.11,109.46 524.94,113.59 522.74,117.7 520.59,121.53 518.6,124.8 516.78,127.52 515.05,129.91 513.38,132.02 511.74,133.89 510.09,135.53 508.4,137 506.72,138.18 505.08,139.01 503.44,139.63 501.74,140.17 499.94,140.75 498,141.5 495.88,142.45 493.6,143.5 491.22,144.59 488.8,145.67 486.38,146.69 484,147.6 481.64,148.39 479.26,149.1 476.88,149.74 474.52,150.35 472.22,150.93 470,151.5 467.88,152.05 465.85,152.57 463.88,153.06 461.93,153.53 459.98,154.01 458,154.5" fill="none" stroke="#ff19ff" stroke-width="1.65" stroke-dasharray="10.4 5.9"/>
<path d="M621,113.2 617.85,114.26 614.84,115.3 611.83,116.34 608.68,117.41 605.25,118.52 601.4,119.7 597,120.97 592.13,122.31 586.98,123.7 581.74,125.11 576.58,126.52 571.7,127.9 567.12,129.27 562.71,130.64 558.38,132.01 554.07,133.37 549.7,134.7 545.2,136 540.49,137.3 535.6,138.61 530.66,139.9 525.77,141.12 521.04,142.24 516.6,143.2 512.38,143.98 508.27,144.61 504.33,145.12 500.6,145.58 497.14,146.02 494,146.5 491.29,147 488.99,147.47 486.96,147.94 485.05,148.39 483.11,148.84 481,149.3 478.7,149.76 476.33,150.21 473.94,150.67 471.56,151.12 469.23,151.56 467,152 464.88,152.43 462.85,152.85 460.88,153.26 458.93,153.67 456.98,154.09 455,154.5" fill="none" stroke="#ff19ff" stroke-width="1.65" stroke-dasharray="10.4 5.9"/>
<path d="M621,149.6 613.74,149.57 606.4,149.53 599.06,149.48 591.8,149.45 584.72,149.45 577.9,149.5 571.33,149.6 564.94,149.74 558.72,149.91 552.68,150.1 546.81,150.3 541.1,150.5 535.51,150.7 530.03,150.91 524.72,151.14 519.64,151.36 514.85,151.59 510.4,151.8 506.4,152.01 502.82,152.21 499.53,152.42 496.39,152.62 493.26,152.81 490,153 486.64,153.18 483.3,153.35 479.98,153.51 476.65,153.67 473.33,153.84 470,154 466.67,154.17 463.33,154.33 460,154.5 456.67,154.67 453.33,154.83 450,155" fill="none" stroke="#ff19ff" stroke-width="1.65" stroke-dasharray="10.4 5.9"/>
</g>
<g clip-path="url(#cl)"></g>
<text x="63.2" y="24.6" font-size="13.5" textLength="25.8" lengthAdjust="spacingAndGlyphs" transform="rotate(86 63.2 24.6)" fill="#ff19ff" stroke="#ff19ff">-52°</text>
<text x="364.7" y="31.3" font-size="13.5" textLength="19.5" lengthAdjust="spacingAndGlyphs" transform="rotate(84 364.7 31.3)" fill="#ff19ff" stroke="#ff19ff">-7°</text>
<text x="289.6" y="149.9" font-size="13.3" textLength="33" lengthAdjust="spacingAndGlyphs" transform="rotate(-16 289.6 149.9)" fill="#ff19ff" stroke="#ff19ff">-637°</text>
<text x="578.5" y="148.3" font-size="13" textLength="34" lengthAdjust="spacingAndGlyphs" fill="#ff19ff" stroke="#ff19ff">-322°</text>
<rect x="101.8" y="34.7" width="196" height="51.2" fill="none" stroke="#000" stroke-width="1.6"/>
<rect x="390.2" y="33.3" width="211.2" height="103.8" fill="none" stroke="#000" stroke-width="1.6"/>
<circle cx="197.5" cy="67" r="3.6" fill="none" stroke="#000" stroke-width="2.1"/>
<circle cx="431.7" cy="33.3" r="3.6" fill="none" stroke="#000" stroke-width="2.1"/>
<circle cx="455.3" cy="33.3" r="3.6" fill="none" stroke="#000" stroke-width="2.1"/>
<circle cx="475.5" cy="33.3" r="3.6" fill="none" stroke="#000" stroke-width="2.1"/>
<circle cx="501.8" cy="33.3" r="3.6" fill="none" stroke="#000" stroke-width="2.1"/>
<circle cx="565.6" cy="33.3" r="3.6" fill="none" stroke="#000" stroke-width="2.1"/>
<circle cx="389.9" cy="97.6" r="3.6" fill="none" stroke="#000" stroke-width="2.1"/>
<circle cx="601.4" cy="119.9" r="3.6" fill="none" stroke="#000" stroke-width="2.1"/>
<rect x="53" y="24" width="273" height="130" fill="none" stroke="#7a7a5a" stroke-width="0.8"/>
<rect x="357" y="24" width="263" height="130" fill="none" stroke="#7a7a5a" stroke-width="0.8"/>
<text x="-0.3" y="13.7" font-size="23" textLength="12.3" lengthAdjust="spacingAndGlyphs" font-weight="bold" stroke="#000">a</text>
<text x="114.5" y="16.8" font-size="16" textLength="148.4" lengthAdjust="spacingAndGlyphs" stroke="#000" style="stroke:none">Detuned resonators</text>
<text x="417.2" y="16.6" font-size="16" textLength="123.6" lengthAdjust="spacingAndGlyphs" stroke="#000" style="stroke:none">Single resonator</text>
<text x="102.3" y="172.9" font-size="13.6" text-anchor="middle" stroke="#000">50</text>
<text x="172" y="172.9" font-size="13.6" text-anchor="middle" stroke="#000">100</text>
<text x="241.8" y="172.9" font-size="13.6" text-anchor="middle" stroke="#000">150</text>
<text x="311.6" y="172.9" font-size="13.6" text-anchor="middle" stroke="#000">200</text>
<text x="47.4" y="43.7" font-size="13.6" text-anchor="end" stroke="#000">150</text>
<text x="47.4" y="92.5" font-size="13.6" text-anchor="end" stroke="#000">100</text>
<text x="47.4" y="140.1" font-size="13.6" text-anchor="end" stroke="#000">50</text>
<text x="157" y="186" font-size="14" stroke="#000">L</text>
<text x="164.4" y="187.9" font-size="9.5" textLength="10.2" lengthAdjust="spacingAndGlyphs" stroke="#000">x1</text>
<text x="180.3" y="186" font-size="14.5" textLength="34" lengthAdjust="spacingAndGlyphs" stroke="#000">(nm)</text>
<g transform="translate(18.8,107.8) rotate(-90)" stroke="#000"><text x="0" y="0" font-size="13.5">L</text><text x="6.9" y="2.1" font-size="9.5" textLength="9.9" lengthAdjust="spacingAndGlyphs">y1</text><text x="23.1" y="0" font-size="13.5" textLength="32.6" lengthAdjust="spacingAndGlyphs">(nm)</text></g>
<text x="390.2" y="172.9" font-size="13.6" text-anchor="middle" stroke="#000">50</text>
<text x="436.1" y="172.9" font-size="13.6" text-anchor="middle" stroke="#000">100</text>
<text x="482" y="172.9" font-size="13.6" text-anchor="middle" stroke="#000">150</text>
<text x="527.9" y="172.9" font-size="13.6" text-anchor="middle" stroke="#000">200</text>
<text x="573.8" y="172.9" font-size="13.6" text-anchor="middle" stroke="#000">250</text>
<text x="619.7" y="172.9" font-size="13.6" text-anchor="middle" stroke="#000">300</text>
<text x="351.4" y="30.1" font-size="13.6" text-anchor="end" stroke="#000">300</text>
<text x="351.4" y="75.1" font-size="13.6" text-anchor="end" stroke="#000">200</text>
<text x="351.4" y="120.2" font-size="13.6" text-anchor="end" stroke="#000">100</text>
<text x="462.9" y="186" font-size="14" stroke="#000">L</text>
<text x="469.5" y="187.9" font-size="9.5" textLength="10.5" lengthAdjust="spacingAndGlyphs" stroke="#000">x1</text>
<text x="485.8" y="186" font-size="14.5" textLength="34.2" lengthAdjust="spacingAndGlyphs" stroke="#000">(nm)</text>
<rect x="642" y="24" width="22.4" height="129.4" fill="url(#cbg)" stroke="#555" stroke-width="0.8"/>
<line x1="661.5" y1="67.1333" x2="664.4" y2="67.1333" stroke="#333" stroke-width="0.8"/>
<line x1="661.5" y1="110.267" x2="664.4" y2="110.267" stroke="#333" stroke-width="0.8"/>
<text x="669.5" y="29.2" font-size="12" stroke="#000">1</text>
<text x="669.5" y="72" font-size="12" stroke="#000">0.8</text>
<text x="669.5" y="115" font-size="12" stroke="#000">0.6</text>
<text x="669.5" y="158.2" font-size="12" stroke="#000">0.4</text>
<text x="645.8" y="18" font-size="13.5" textLength="14.5" lengthAdjust="spacingAndGlyphs" stroke="#000">|r|</text>
<text x="-0.3" y="205.3" font-size="21" textLength="13" lengthAdjust="spacingAndGlyphs" font-weight="bold" stroke="#000">b</text>
<text x="38.2" y="205.3" font-size="16.3" textLength="25" lengthAdjust="spacingAndGlyphs" font-weight="bold" stroke="#000">TM</text>
<text x="373" y="205.2" font-size="16.3" textLength="21" lengthAdjust="spacingAndGlyphs" font-weight="bold" stroke="#000">TE</text>
<rect x="34.4" y="213" width="294.3" height="37.2" fill="none" stroke="#6e6e6e" stroke-width="1.1"/>
<rect x="369.5" y="212.5" width="293.9" height="37" fill="none" stroke="#555" stroke-width="1.1"/>
<rect x="50.8" y="224.1" width="5.1" height="15.2" rx="0.4" fill="#bcbce8" stroke="#5a5af5" stroke-width="1"/>
<rect x="84.9" y="216.4" width="10.4" height="30.5" rx="0.4" fill="#bcbce8" stroke="#5a5af5" stroke-width="1"/>
<rect x="120.4" y="216.4" width="12.9" height="30.5" rx="0.4" fill="#bcbce8" stroke="#5a5af5" stroke-width="1"/>
<rect x="155.8" y="216.4" width="15.3" height="30.5" rx="0.4" fill="#bcbce8" stroke="#5a5af5" stroke-width="1"/>
<rect x="190.6" y="216" width="18.4" height="31" rx="0.4" fill="#bcbce8" stroke="#5a5af5" stroke-width="1"/>
<rect x="223.6" y="216" width="26.3" height="31" rx="0.4" fill="#bcbce8" stroke="#5a5af5" stroke-width="1"/>
<rect x="258.4" y="226.5" width="30.5" height="9.5" rx="0.4" fill="#bcbce8" stroke="#5a5af5" stroke-width="1"/>
<rect x="298.8" y="218.8" width="22.4" height="6" rx="0.4" fill="#bcbce8" stroke="#5a5af5" stroke-width="1"/>
<rect x="303.5" y="231.2" width="13" height="13" rx="0.4" fill="#bcbce8" stroke="#5a5af5" stroke-width="1"/>
<rect x="380.5" y="228.7" width="14.7" height="4.9" rx="0.4" fill="#bcbce8" stroke="#5a5af5" stroke-width="1"/>
<rect x="409.3" y="225.9" width="30.5" height="10" rx="0.4" fill="#bcbce8" stroke="#5a5af5" stroke-width="1"/>
<rect x="445.9" y="224.7" width="30.6" height="13.1" rx="0.4" fill="#bcbce8" stroke="#5a5af5" stroke-width="1"/>
<rect x="482.8" y="223.6" width="30.3" height="15.4" rx="0.4" fill="#bcbce8" stroke="#5a5af5" stroke-width="1"/>
<rect x="519.9" y="221.6" width="30.3" height="18.8" rx="0.4" fill="#bcbce8" stroke="#5a5af5" stroke-width="1"/>
<rect x="556.3" y="218" width="30.7" height="26.1" rx="0.4" fill="#bcbce8" stroke="#5a5af5" stroke-width="1"/>
<rect x="603.7" y="216.3" width="9.2" height="30.5" rx="0.4" fill="#bcbce8" stroke="#5a5af5" stroke-width="1"/>
<rect x="632.3" y="225.1" width="13" height="12.1" rx="0.4" fill="#bcbce8" stroke="#5a5af5" stroke-width="1"/>
<rect x="651.9" y="219.5" width="5.7" height="23" rx="0.4" fill="#bcbce8" stroke="#5a5af5" stroke-width="1"/>
<path d="M27.7,257.6 V233.5 M27.7,257.6 H51.5" fill="none" stroke="#000" stroke-width="1.1"/>
<path d="M27.7,229.5 l-2.2,6 h4.4 z" fill="#000"/>
<path d="M55.5,257.6 l-6,-2.2 v4.4 z" fill="#000"/>
<text x="23.6" y="227.3" font-size="13" stroke="#000">y</text>
<text x="57.6" y="260.8" font-size="13" stroke="#000">x</text>
<path d="M361.8,256.2 V232.2 M361.8,256.2 H386.5" fill="none" stroke="#000" stroke-width="1.1"/>
<path d="M361.8,228.2 l-2.2,6 h4.4 z" fill="#000"/>
<path d="M390.5,256.2 l-6,-2.2 v4.4 z" fill="#000"/>
<text x="357.9" y="226" font-size="13" stroke="#000">y</text>
<text x="391.6" y="259.5" font-size="13" stroke="#000">x</text>
<text x="169" y="263.8" font-size="14.3" textLength="17.3" lengthAdjust="spacingAndGlyphs" stroke="#000">8P</text>
<text x="186" y="266.6" font-size="10" stroke="#000">x</text>
<text x="509.9" y="263.8" font-size="14.3" textLength="17.3" lengthAdjust="spacingAndGlyphs" stroke="#000">8P</text>
<text x="526.7" y="266.6" font-size="10" stroke="#000">x</text>
<text x="665.8" y="235.2" font-size="14" stroke="#000">P</text>
<text x="673.6" y="237.9" font-size="10" stroke="#000">y</text>
<text x="-0.3" y="289.8" font-size="19.5" textLength="12" lengthAdjust="spacingAndGlyphs" font-weight="bold" stroke="#000">c</text>
<rect x="55.5" y="280.8" width="277.5" height="145.6" fill="none" stroke="#777" stroke-width="1"/>
<path d="M55.5,426.4 v-2.8 M55.5,280.8 v2.8 M101.75,426.4 v-2.8 M101.75,280.8 v2.8 M148,426.4 v-2.8 M148,280.8 v2.8 M194.25,426.4 v-2.8 M194.25,280.8 v2.8 M240.5,426.4 v-2.8 M240.5,280.8 v2.8 M286.75,426.4 v-2.8 M286.75,280.8 v2.8 M333,426.4 v-2.8 M333,280.8 v2.8 M55.5,426.4 h2.8 M333,426.4 h-2.8 M55.5,397.28 h2.8 M333,397.28 h-2.8 M55.5,368.16 h2.8 M333,368.16 h-2.8 M55.5,339.04 h2.8 M333,339.04 h-2.8 M55.5,309.92 h2.8 M333,309.92 h-2.8 M55.5,280.8 h2.8 M333,280.8 h-2.8" stroke="#777" stroke-width="1" fill="none"/>
<text x="49" y="431.6" font-size="13.6" text-anchor="end" stroke="#000">0</text>
<text x="49" y="402.48" font-size="13.6" text-anchor="end" stroke="#000">0.2</text>
<text x="49" y="373.36" font-size="13.6" text-anchor="end" stroke="#000">0.4</text>
<text x="49" y="344.24" font-size="13.6" text-anchor="end" stroke="#000">0.6</text>
<text x="49" y="315.12" font-size="13.6" text-anchor="end" stroke="#000">0.8</text>
<text x="49" y="286" font-size="13.6" text-anchor="end" stroke="#000">1</text>
<text x="55.5" y="446" font-size="13.6" text-anchor="middle" stroke="#000">0.6</text>
<text x="101.75" y="446" font-size="13.6" text-anchor="middle" stroke="#000">0.7</text>
<text x="148" y="446" font-size="13.6" text-anchor="middle" stroke="#000">0.8</text>
<text x="194.25" y="446" font-size="13.6" text-anchor="middle" stroke="#000">0.9</text>
<text x="240.5" y="446" font-size="13.6" text-anchor="middle" stroke="#000">1</text>
<text x="286.75" y="446" font-size="13.6" text-anchor="middle" stroke="#000">1.1</text>
<text x="333" y="446" font-size="13.6" text-anchor="middle" stroke="#000">1.2</text>
<rect x="367.1" y="282.3" width="277.6" height="144.7" fill="none" stroke="#444" stroke-width="1"/>
<path d="M367.1,427 v-2.8 M367.1,282.3 v2.8 M413.367,427 v-2.8 M413.367,282.3 v2.8 M459.633,427 v-2.8 M459.633,282.3 v2.8 M505.9,427 v-2.8 M505.9,282.3 v2.8 M552.167,427 v-2.8 M552.167,282.3 v2.8 M598.433,427 v-2.8 M598.433,282.3 v2.8 M644.7,427 v-2.8 M644.7,282.3 v2.8 M367.1,427 h2.8 M644.7,427 h-2.8 M367.1,398.06 h2.8 M644.7,398.06 h-2.8 M367.1,369.12 h2.8 M644.7,369.12 h-2.8 M367.1,340.18 h2.8 M644.7,340.18 h-2.8 M367.1,311.24 h2.8 M644.7,311.24 h-2.8 M367.1,282.3 h2.8 M644.7,282.3 h-2.8" stroke="#444" stroke-width="1" fill="none"/>
<text x="360.6" y="432.2" font-size="13.6" text-anchor="end" stroke="#000">0</text>
<text x="360.6" y="403.26" font-size="13.6" text-anchor="end" stroke="#000">0.2</text>
<text x="360.6" y="374.32" font-size="13.6" text-anchor="end" stroke="#000">0.4</text>
<text x="360.6" y="345.38" font-size="13.6" text-anchor="end" stroke="#000">0.6</text>
<text x="360.6" y="316.44" font-size="13.6" text-anchor="end" stroke="#000">0.8</text>
<text x="360.6" y="287.5" font-size="13.6" text-anchor="end" stroke="#000">1</text>
<text x="367.1" y="446.6" font-size="13.6" text-anchor="middle" stroke="#000">0.6</text>
<text x="413.367" y="446.6" font-size="13.6" text-anchor="middle" stroke="#000">0.7</text>
<text x="459.633" y="446.6" font-size="13.6" text-anchor="middle" stroke="#000">0.8</text>
<text x="505.9" y="446.6" font-size="13.6" text-anchor="middle" stroke="#000">0.9</text>
<text x="552.167" y="446.6" font-size="13.6" text-anchor="middle" stroke="#000">1</text>
<text x="598.433" y="446.6" font-size="13.6" text-anchor="middle" stroke="#000">1.1</text>
<text x="644.7" y="446.6" font-size="13.6" text-anchor="middle" stroke="#000">1.2</text>
<text x="58.3" y="297.4" font-size="16" textLength="24.6" lengthAdjust="spacingAndGlyphs" font-weight="bold" stroke="#000">TM</text>
<text x="369.5" y="298.5" font-size="16" textLength="21" lengthAdjust="spacingAndGlyphs" font-weight="bold" stroke="#000">TE</text>
<text x="23.8" y="354" font-size="16" textLength="77.5" lengthAdjust="spacingAndGlyphs" transform="rotate(-90 23.8 354)" text-anchor="middle" stroke="#000">Reflectance</text>
<text x="194.5" y="465.8" font-size="14.5" textLength="114" lengthAdjust="spacingAndGlyphs" text-anchor="middle" stroke="#000">Wavelength (μm)</text>
<text x="506" y="466.3" font-size="14.5" textLength="114" lengthAdjust="spacingAndGlyphs" text-anchor="middle" stroke="#000">Wavelength (μm)</text>
<g clip-path="url(#ccl)" stroke-linejoin="round" stroke-linecap="round">
<path d="M55,423 57.05,422.67 59.1,422.35 61.16,422.03 63.21,421.7 65.26,421.36 67.3,421 69.41,420.55 71.6,420.02 73.78,419.47 75.88,418.98 77.82,418.63 79.5,418.5 80.83,418.62 81.86,418.94 82.72,419.41 83.56,419.94 84.5,420.5 85.7,421 87.17,421.53 88.8,422.16 90.55,422.81 92.35,423.38 94.15,423.81 95.9,424 97.6,423.89 99.3,423.53 101,423.02 102.7,422.47 104.4,421.96 106.1,421.6 107.73,421.4 109.27,421.27 110.81,421.19 112.44,421.13 114.24,421.08 116.3,421 118.79,420.87 121.69,420.72 124.76,420.56 127.77,420.44 130.49,420.37 132.7,420.4 134.31,420.52 135.5,420.72 136.39,420.98 137.15,421.28 137.9,421.63 138.8,422 139.31,422.45 139.2,423 139.1,423.58 139.61,424.15 141.34,424.64 144.9,425 150.93,425.22 159.06,425.36 168.41,425.42 178.11,425.42 187.26,425.37 195,425.3 201.48,425.2 207.43,425.05 212.84,424.86 217.7,424.62 221.99,424.33 225.7,424 228.61,423.58 230.7,423.07 232.21,422.51 233.41,421.94 234.56,421.43 235.9,421 237.32,420.63 238.6,420.29 239.82,419.99 241.07,419.76 242.43,419.62 244,419.6 245.78,419.73 247.71,420 249.76,420.36 251.9,420.78 254.09,421.2 256.3,421.6 258.57,421.99 260.92,422.42 263.33,422.86 265.76,423.28 268.19,423.67 270.6,424 273.08,424.31 275.67,424.62 278.26,424.89 280.73,425.09 282.99,425.17 284.9,425.1 286.38,424.9 287.5,424.6 288.39,424.19 289.19,423.64 290.05,422.92 291.1,422 292.32,420.78 293.58,419.27 294.9,417.59 296.27,415.86 297.71,414.22 299.2,412.8 300.75,411.57 302.37,410.43 304.04,409.37 305.77,408.4 307.55,407.51 309.4,406.7 311.34,406 313.38,405.4 315.48,404.89 317.6,404.44 319.68,404.02 321.7,403.6 323.64,403.2 325.54,402.85 327.41,402.53 329.27,402.23 331.13,401.92 333,401.6" fill="none" stroke="#00ffff" stroke-width="1.6"/>
<path d="M55,425.7 59.67,425.61 64.63,425.55 69.58,425.49 74.25,425.4 78.35,425.25 81.6,425 83.78,424.68 85.07,424.32 85.8,423.9 86.27,423.39 86.8,422.76 87.7,422 88.97,420.99 90.36,419.73 91.8,418.36 93.24,417 94.63,415.81 95.9,414.9 96.94,414.32 97.79,413.95 98.57,413.74 99.44,413.63 100.53,413.53 102,413.4 103.94,413.26 106.27,413.16 108.82,413.09 111.45,413.03 114,412.94 116.3,412.8 118.42,412.58 120.48,412.29 122.46,411.98 124.33,411.69 126.05,411.48 127.6,411.4 128.91,411.39 129.98,411.41 130.91,411.5 131.79,411.73 132.69,412.14 133.7,412.8 134.81,413.82 135.95,415.19 137.12,416.74 138.31,418.33 139.54,419.8 140.8,421 141.67,421.97 142.05,422.83 142.47,423.58 143.43,424.19 145.43,424.67 149,425 154.94,425.15 163.01,425.13 172.13,424.98 181.22,424.71 189.2,424.38 195,424 198.3,423.53 199.91,422.94 200.41,422.27 200.39,421.59 200.42,420.94 201.1,420.4 202.35,419.91 203.68,419.43 205.07,418.99 206.49,418.63 207.91,418.39 209.3,418.3 210.67,418.38 212.03,418.61 213.4,418.96 214.77,419.4 216.13,419.89 217.5,420.4 218.86,421.01 220.2,421.75 221.54,422.54 222.89,423.32 224.28,424 225.7,424.5 227.24,424.92 228.89,425.32 230.56,425.63 232.18,425.76 233.66,425.61 234.9,425.1 235.83,424.13 236.5,422.76 237.03,421.11 237.52,419.33 238.11,417.55 238.9,415.9 239.93,414.24 241.1,412.42 242.37,410.6 243.66,408.94 244.93,407.59 246.1,406.7 247.16,406.31 248.14,406.31 249.09,406.61 250.05,407.16 251.07,407.88 252.2,408.7 253.42,409.73 254.7,411.03 256.04,412.51 257.44,414.05 258.89,415.55 260.4,416.9 261.98,418.16 263.65,419.44 265.38,420.67 267.13,421.81 268.88,422.8 270.6,423.6 272.32,424.18 274.07,424.58 275.83,424.84 277.55,424.99 279.22,425.06 280.8,425.1 282.28,425.17 283.68,425.26 285.02,425.28 286.34,425.14 287.66,424.74 289,424 290.36,422.79 291.7,421.16 293.04,419.28 294.39,417.31 295.78,415.43 297.2,413.8 298.65,412.33 300.12,410.87 301.61,409.49 303.15,408.28 304.74,407.32 306.4,406.7 308.19,406.48 310.1,406.61 312.06,407 314.01,407.54 315.88,408.14 317.6,408.7 319.15,409.25 320.59,409.87 321.95,410.55 323.25,411.27 324.53,412.03 325.8,412.8 327.06,413.6 328.27,414.45 329.46,415.33 330.64,416.23 331.81,417.12 333,418" fill="none" stroke="#ff00ff" stroke-width="1.6"/>
<path d="M55,425 58.54,424.83 62.25,424.67 65.96,424.5 69.5,424.33 72.71,424.17 75.4,424 77.52,423.89 79.19,423.86 80.52,423.82 81.62,423.71 82.61,423.46 83.6,423 84.51,422.24 85.23,421.22 85.84,420.06 86.41,418.87 87.01,417.78 87.7,416.9 88.49,416.19 89.33,415.55 90.19,415 91.06,414.57 91.94,414.3 92.8,414.2 93.61,414.3 94.39,414.57 95.16,415 95.97,415.55 96.87,416.19 97.9,416.9 99.09,417.76 100.4,418.81 101.81,419.95 103.25,421.09 104.7,422.14 106.1,423 107.35,423.68 108.46,424.25 109.56,424.73 110.81,425.13 112.34,425.45 114.3,425.7 116.87,425.89 119.98,426.02 123.37,426.08 126.8,426.04 129.99,425.92 132.7,425.7 134.9,425.28 136.78,424.66 138.44,423.95 139.95,423.26 141.41,422.7 142.9,422.4 144.36,422.38 145.71,422.57 147,422.89 148.29,423.28 149.64,423.67 151.1,424 152.41,424.3 153.48,424.64 154.61,424.99 156.09,425.3 158.22,425.55 161.3,425.7 165.76,425.75 171.44,425.73 177.77,425.64 184.19,425.5 190.12,425.31 195,425.1 198.77,424.85 201.87,424.54 204.49,424.2 206.81,423.82 209.02,423.42 211.3,423 213.61,422.53 215.77,422 217.83,421.44 219.8,420.89 221.72,420.4 223.6,420 225.42,419.68 227.16,419.4 228.83,419.17 230.48,419 232.12,418.91 233.8,418.9 235.48,419.07 237.12,419.43 238.77,419.86 240.44,420.25 242.18,420.47 244,420.4 245.88,420 247.79,419.34 249.76,418.52 251.82,417.62 253.99,416.72 256.3,415.9 258.82,415.14 261.54,414.37 264.38,413.6 267.24,412.84 270.04,412.1 272.7,411.4 275.23,410.76 277.7,410.2 280.11,409.65 282.47,409.08 284.76,408.45 287,407.7 289.15,406.79 291.22,405.73 293.22,404.61 295.2,403.5 297.19,402.47 299.2,401.6 301.27,400.87 303.37,400.21 305.48,399.63 307.55,399.15 309.57,398.77 311.5,398.5 313.31,398.36 315.01,398.36 316.66,398.45 318.3,398.62 319.96,398.85 321.7,399.1 323.52,399.41 325.39,399.79 327.28,400.23 329.19,400.7 331.1,401.16 333,401.6" fill="none" stroke="#00ff00" stroke-width="1.6"/>
<path d="M55,421 55.99,420 56.96,419.01 57.92,418.02 58.91,417.01 59.96,415.98 61.1,414.9 62.37,413.75 63.76,412.54 65.2,411.3 66.64,410.06 68.03,408.85 69.3,407.7 70.45,406.6 71.53,405.51 72.54,404.46 73.52,403.44 74.47,402.49 75.4,401.6 76.33,400.86 77.25,400.27 78.14,399.74 78.99,399.17 79.78,398.46 80.5,397.5 81.13,396.1 81.68,394.28 82.18,392.32 82.64,390.5 83.11,389.06 83.6,388.3 84.12,388.24 84.64,388.67 85.16,389.51 85.67,390.64 86.19,391.97 86.7,393.4 87.18,395.08 87.63,397.12 88.07,399.36 88.54,401.64 89.07,403.81 89.7,405.7 90.44,407.36 91.27,408.93 92.17,410.39 93.09,411.7 94.01,412.85 94.9,413.8 95.72,414.56 96.5,415.14 97.27,415.55 98.08,415.81 98.98,415.92 100,415.9 101.13,415.71 102.32,415.33 103.6,414.8 104.98,414.17 106.47,413.49 108.1,412.8 109.9,412.08 111.85,411.3 113.92,410.46 116.07,409.58 118.24,408.65 120.4,407.7 122.65,406.59 125.06,405.31 127.5,403.98 129.84,402.76 131.95,401.78 133.7,401.2 135.01,400.98 135.97,401.01 136.7,401.29 137.33,401.81 137.99,402.58 138.8,403.6 139.73,405.02 140.68,406.86 141.66,408.96 142.67,411.11 143.75,413.16 144.9,414.9 146.1,416.39 147.33,417.77 148.61,419.03 149.99,420.17 151.47,421.16 153.1,422 154.71,422.64 156.26,423.09 157.91,423.4 159.87,423.62 162.3,423.8 165.4,424 168.73,424.2 172.06,424.34 175.86,424.45 180.63,424.54 186.85,424.62 195,424.7 206.4,424.8 220.94,424.91 236.93,425.01 252.68,425.09 266.5,425.12 276.7,425.1 282.81,425.05 286.09,424.99 287.44,424.89 287.77,424.71 287.99,424.43 289,424 290.58,423.41 291.96,422.67 293.23,421.82 294.47,420.9 295.77,419.95 297.2,419 298.76,417.99 300.37,416.89 302.04,415.75 303.77,414.64 305.56,413.64 307.4,412.8 309.32,412.14 311.31,411.6 313.36,411.17 315.45,410.81 317.57,410.49 319.7,410.2 321.86,409.95 324.06,409.77 326.29,409.64 328.53,409.54 330.77,409.43 333,409.3" fill="none" stroke="#0000ff" stroke-width="1.6"/>
<path d="M55,424 56.36,422.5 57.7,421.01 59.04,419.52 60.39,418.02 61.78,416.49 63.2,414.9 64.7,413.2 66.27,411.38 67.87,409.52 69.45,407.72 70.98,406.05 72.4,404.6 73.74,403.29 75.05,402.04 76.29,400.92 77.46,400.01 78.54,399.38 79.5,399.1 80.32,399.37 80.99,400.18 81.58,401.26 82.11,402.37 82.63,403.23 83.2,403.6 83.8,403.53 84.4,403.25 84.99,402.73 85.58,401.94 86.15,400.87 86.7,399.5 87.22,397.69 87.72,395.43 88.2,392.89 88.68,390.23 89.18,387.61 89.7,385.2 90.22,383.04 90.73,381 91.24,379.01 91.81,376.97 92.45,374.79 93.2,372.4 94.05,369.63 94.97,366.53 95.97,363.29 97.05,360.13 98.23,357.23 99.5,354.8 100.93,352.88 102.52,351.3 104.2,349.99 105.9,348.88 107.56,347.87 109.1,346.9 110.51,345.92 111.86,344.99 113.15,344.17 114.42,343.53 115.7,343.12 117,343 118.33,343.19 119.66,343.66 120.99,344.35 122.33,345.24 123.67,346.31 125,347.5 126.38,348.96 127.81,350.74 129.24,352.69 130.62,354.66 131.89,356.48 133,358 133.91,359.32 134.67,360.58 135.31,361.69 135.9,362.59 136.48,363.18 137.1,363.4 137.72,363.38 138.29,363.2 138.86,362.72 139.45,361.8 140.12,360.27 140.9,358 141.78,354.66 142.73,350.31 143.74,345.36 144.84,340.22 146.02,335.3 147.3,331 148.7,327.2 150.23,323.54 151.85,320.11 153.51,316.96 155.18,314.16 156.8,311.8 158.32,309.97 159.76,308.65 161.2,307.69 162.73,306.94 164.43,306.26 166.4,305.5 168.78,304.67 171.54,303.89 174.47,303.17 177.37,302.55 180.05,302.05 182.3,301.7 183.96,301.5 185.17,301.42 186.15,301.46 187.13,301.63 188.34,301.91 190,302.3 192.14,302.89 194.57,303.69 197.24,304.6 200.06,305.54 202.97,306.4 205.9,307.1 209.06,307.6 212.56,307.96 216.14,308.24 219.57,308.52 222.61,308.85 225,309.3 226.61,309.74 227.6,310.09 228.19,310.49 228.61,311.08 229.07,312.01 229.8,313.4 230.79,315.45 231.87,318.09 233,321.06 234.13,324.11 235.21,326.97 236.2,329.4 237.07,331.52 237.86,333.58 238.6,335.45 239.34,337.03 240.13,338.22 241,338.9 241.86,338.98 242.66,338.53 243.51,337.69 244.5,336.58 245.77,335.34 247.4,334.1 249.54,332.7 252.11,330.99 254.96,329.15 257.89,327.36 260.73,325.78 263.3,324.6 265.66,323.8 267.94,323.24 270.14,322.91 272.23,322.77 274.19,322.8 276,323 277.61,323.15 279.01,323.24 280.29,323.51 281.51,324.2 282.72,325.55 284,327.8 285.32,331.15 286.61,335.45 287.91,340.41 289.22,345.74 290.58,351.17 292,356.4 293.51,361.82 295.11,367.73 296.75,373.74 298.39,379.43 299.99,384.42 301.5,388.3 302.92,390.95 304.28,392.68 305.59,393.69 306.89,394.22 308.18,394.48 309.5,394.7 310.82,394.78 312.11,394.52 313.41,394 314.72,393.28 316.08,392.42 317.5,391.5 319.01,390.43 320.61,389.13 322.25,387.7 323.89,386.23 325.49,384.8 327,383.5 328.42,382.34 329.78,381.25 331.09,380.2 332.39,379.17 333.68,378.15 335,377.1" fill="none" stroke="#ff0000" stroke-width="1.6"/>
<path d="M55,402.6 56.05,399.72 57.08,396.9 58.11,394.09 59.16,391.21 60.25,388.2 61.4,385 62.65,381.47 63.98,377.65 65.35,373.69 66.72,369.79 68.05,366.1 69.3,362.8 70.47,359.89 71.6,357.21 72.69,354.76 73.74,352.51 74.74,350.43 75.7,348.5 76.62,346.69 77.5,345.01 78.34,343.51 79.13,342.23 79.85,341.21 80.5,340.5 81.05,340.25 81.51,340.47 81.91,340.94 82.27,341.49 82.63,341.91 83,342 83.39,341.79 83.78,341.43 84.16,340.94 84.52,340.35 84.87,339.66 85.2,338.9 85.45,338.08 85.6,337.19 85.74,336.2 85.93,335.1 86.26,333.88 86.8,332.5 87.57,330.92 88.52,329.15 89.61,327.24 90.78,325.27 91.99,323.3 93.2,321.4 94.43,319.49 95.72,317.49 97.05,315.5 98.4,313.59 99.76,311.83 101.1,310.3 102.41,309.02 103.7,307.92 105,306.98 106.32,306.16 107.68,305.44 109.1,304.8 110.61,304.22 112.21,303.73 113.85,303.34 115.49,303.07 117.09,302.91 118.6,302.9 120.04,303.04 121.44,303.32 122.79,303.72 124.11,304.24 125.38,304.84 126.6,305.5 127.76,306.28 128.86,307.2 129.91,308.21 130.93,309.25 131.96,310.27 133,311.2 134.05,312.15 135.1,313.17 136.15,314.17 137.2,315.05 138.25,315.69 139.3,316 140.33,315.96 141.31,315.64 142.3,315.09 143.33,314.35 144.45,313.47 145.7,312.5 147.08,311.31 148.57,309.85 150.15,308.24 151.79,306.63 153.48,305.14 155.2,303.9 156.91,302.92 158.63,302.09 160.4,301.38 162.26,300.77 164.24,300.22 166.4,299.7 168.69,299.23 171.07,298.84 173.58,298.51 176.26,298.23 179.15,298 182.3,297.8 185.88,297.64 189.88,297.53 194.09,297.47 198.31,297.44 202.32,297.46 205.9,297.5 209.08,297.54 212.04,297.57 214.78,297.64 217.33,297.79 219.7,298.06 221.9,298.5 223.9,299.13 225.66,299.94 227.25,300.86 228.7,301.86 230.07,302.89 231.4,303.9 232.65,305.04 233.76,306.37 234.79,307.74 235.78,308.96 236.77,309.87 237.8,310.3 238.83,310.17 239.82,309.59 240.81,308.7 241.84,307.63 242.95,306.52 244.2,305.5 245.57,304.47 247.01,303.31 248.55,302.1 250.17,300.94 251.89,299.91 253.7,299.1 255.64,298.48 257.73,297.97 259.9,297.6 262.12,297.38 264.33,297.34 266.5,297.5 268.66,297.86 270.86,298.39 273.05,299.11 275.2,300 277.26,301.06 279.2,302.3 281,303.82 282.69,305.65 284.29,307.65 285.83,309.7 287.33,311.66 288.8,313.4 290.23,315.04 291.59,316.71 292.91,318.29 294.2,319.68 295.49,320.75 296.8,321.4 298.07,321.59 299.26,321.4 300.45,320.89 301.71,320.15 303.1,319.23 304.7,318.2 306.55,316.93 308.61,315.33 310.8,313.55 313.06,311.75 315.32,310.08 317.5,308.7 319.71,307.58 322.03,306.61 324.35,305.76 326.56,305.04 328.54,304.42 330.2,303.9 331.46,303.52 332.39,303.31 333.09,303.21 333.69,303.16 334.29,303.1 335,303" fill="none" stroke="#000000" stroke-width="1.6"/>
</g>
<g clip-path="url(#ccr)" stroke-linejoin="round" stroke-linecap="round">
<path d="M367,426.5 377.29,426.44 388.06,426.39 398.82,426.34 409.11,426.28 418.43,426.2 426.3,426.1 432.56,425.97 437.57,425.83 441.61,425.67 444.97,425.49 447.94,425.3 450.8,425.1 453.32,424.84 455.21,424.53 456.72,424.19 458.05,423.9 459.44,423.68 461.1,423.6 462.8,423.69 464.3,423.94 465.86,424.26 467.72,424.61 470.12,424.91 473.3,425.1 477.08,425.23 481.24,425.36 485.93,425.45 491.34,425.45 497.64,425.31 505,425 514.13,424.46 525.04,423.71 536.84,422.84 548.64,421.9 559.55,420.96 568.7,420.1 575.89,419.31 581.81,418.52 586.84,417.74 591.38,416.97 595.84,416.19 600.6,415.4 605.72,414.54 610.88,413.61 615.95,412.67 620.8,411.8 625.29,411.09 629.3,410.6 632.69,410.39 635.55,410.4 638.05,410.56 640.37,410.8 642.7,411.04 645.2,411.2" fill="none" stroke="#ff00ff" stroke-width="1.6"/>
<path d="M367,424 369.99,424.45 372.9,424.93 375.81,425.41 378.81,425.85 381.97,426.23 385.4,426.5 389.28,426.67 393.6,426.78 398.09,426.81 402.49,426.78 406.55,426.67 410,426.5 412.73,426.25 414.91,425.92 416.74,425.52 418.44,425.07 420.19,424.56 422.2,424 424.46,423.36 426.81,422.61 429.22,421.81 431.66,421.01 434.09,420.26 436.5,419.6 438.95,418.98 441.49,418.36 444.03,417.78 446.49,417.31 448.77,416.99 450.8,416.9 452.5,417.07 453.91,417.47 455.16,418.03 456.34,418.69 457.59,419.36 459,420 460.58,420.64 462.25,421.34 463.98,422.06 465.73,422.77 467.48,423.43 469.2,424 470.72,424.52 472.03,425.02 473.34,425.48 474.86,425.83 476.81,426.06 479.4,426.1 482.7,425.9 486.56,425.49 490.84,424.93 495.43,424.33 500.19,423.75 505,423.3 510.03,422.98 515.4,422.74 520.96,422.52 526.51,422.31 531.88,422.05 536.9,421.7 541.56,421.35 545.99,421.04 550.25,420.69 554.37,420.21 558.41,419.51 562.4,418.5 566.38,417.05 570.31,415.21 574.15,413.15 577.86,411.04 581.39,409.07 584.7,407.4 587.76,406.01 590.59,404.74 593.25,403.61 595.77,402.6 598.21,401.73 600.6,401 602.86,400.4 604.95,399.93 606.94,399.6 608.94,399.4 611.03,399.33 613.3,399.4 615.78,399.65 618.39,400.08 621.1,400.64 623.85,401.29 626.6,401.96 629.3,402.6 631.96,403.23 634.61,403.9 637.26,404.59 639.9,405.3 642.55,406.01 645.2,406.7" fill="none" stroke="#00ff00" stroke-width="1.6"/>
<path d="M367,420 368.01,420.53 368.99,421.11 369.98,421.69 370.99,422.22 372.05,422.67 373.2,423 374.38,423.2 375.56,423.3 376.79,423.31 378.14,423.26 379.66,423.15 381.4,423 383.43,422.77 385.71,422.44 388.17,422.06 390.71,421.67 393.25,421.3 395.7,421 398.06,420.79 400.39,420.65 402.72,420.53 405.09,420.41 407.5,420.24 410,420 412.67,419.62 415.51,419.13 418.41,418.6 421.24,418.1 423.91,417.71 426.3,417.5 428.33,417.48 430.07,417.58 431.65,417.79 433.17,418.09 434.75,418.47 436.5,418.9 438.43,419.45 440.44,420.14 442.52,420.91 444.62,421.68 446.73,422.4 448.8,423 450.69,423.48 452.37,423.89 454.06,424.24 455.95,424.56 458.23,424.84 461.1,425.1 464.8,425.35 469.22,425.59 474.03,425.8 478.91,425.96 483.55,426.07 487.6,426.1 490.67,426.07 492.95,425.98 494.97,425.83 497.29,425.62 500.45,425.35 505,425 511.58,424.53 519.89,423.94 529.04,423.28 538.16,422.61 546.37,422 552.8,421.5 557.13,421.24 559.99,421.19 561.95,421.19 563.56,421.09 565.39,420.75 568,420 571.41,418.74 575.19,417.06 579.18,415.13 583.24,413.12 587.23,411.19 591,409.5 594.54,408.03 597.96,406.64 601.31,405.33 604.63,404.1 607.94,402.96 611.3,401.9 614.77,400.9 618.35,399.95 621.92,399.08 625.41,398.33 628.7,397.73 631.7,397.3 634.35,397.11 636.71,397.14 638.88,397.32 640.96,397.57 643.03,397.82 645.2,398" fill="none" stroke="#00ffff" stroke-width="1.6"/>
<path d="M367,421 367.99,419.97 368.92,418.93 369.85,417.89 370.84,416.87 371.94,415.86 373.2,414.9 374.69,414.11 376.38,413.51 378.17,412.94 380,412.22 381.77,411.2 383.4,409.7 384.91,407.56 386.36,404.86 387.76,401.86 389.1,398.79 390.38,395.89 391.6,393.4 392.75,391.29 393.83,389.36 394.84,387.6 395.82,386 396.77,384.53 397.7,383.2 398.61,382.02 399.47,381.01 400.31,380.14 401.14,379.39 401.96,378.72 402.8,378.1 403.65,377.5 404.5,376.95 405.35,376.48 406.2,376.13 407.05,375.96 407.9,376 408.75,376.32 409.6,376.91 410.45,377.66 411.3,378.5 412.15,379.34 413,380.1 413.84,380.77 414.66,381.43 415.48,382.09 416.32,382.76 417.19,383.46 418.1,384.2 419.05,385.05 420.01,386 421.01,386.98 422.05,387.91 423.14,388.71 424.3,389.3 425.54,389.6 426.86,389.66 428.22,389.59 429.62,389.5 431.02,389.5 432.4,389.7 433.76,390.07 435.13,390.52 436.49,391.06 437.86,391.71 439.23,392.48 440.6,393.4 441.97,394.47 443.33,395.69 444.7,397.03 446.07,398.48 447.43,400.01 448.8,401.6 450.17,403.32 451.54,405.19 452.91,407.14 454.27,409.1 455.64,411.01 457,412.8 458.35,414.51 459.7,416.22 461.05,417.87 462.4,419.41 463.75,420.81 465.1,422 466.39,422.97 467.6,423.76 468.81,424.4 470.11,424.91 471.58,425.34 473.3,425.7 474.26,425.96 474.2,426.08 474.31,426.11 475.79,426.09 479.82,426.07 487.6,426.1 501.12,426.19 519.81,426.32 541.07,426.45 562.26,426.54 580.78,426.57 594,426.5 601.28,426.33 604.57,426.1 605.19,425.81 604.44,425.44 603.61,425.01 604,424.5 605.31,423.96 606.43,423.41 607.48,422.78 608.57,422.04 609.8,421.13 611.3,420 613.13,418.56 615.23,416.84 617.47,414.94 619.75,413.01 621.97,411.15 624,409.5 625.84,408.09 627.56,406.82 629.21,405.63 630.83,404.46 632.48,403.24 634.2,401.9 635.99,400.44 637.81,398.9 639.65,397.31 641.5,395.7 643.36,394.09 645.2,392.5" fill="none" stroke="#0000ff" stroke-width="1.6"/>
<path d="M367,422 368.01,419.55 368.99,417.01 369.98,414.47 370.99,412.01 372.05,409.73 373.2,407.7 374.48,405.89 375.86,404.21 377.31,402.71 378.75,401.4 380.13,400.32 381.4,399.5 382.54,399.07 383.59,399.04 384.58,399.24 385.54,399.5 386.51,399.64 387.5,399.5 388.49,399.02 389.46,398.32 390.42,397.51 391.41,396.69 392.46,395.95 393.6,395.4 394.85,395.1 396.18,394.99 397.57,394.96 398.99,394.92 400.41,394.77 401.8,394.4 403.2,393.76 404.65,392.93 406.09,391.98 407.5,391 408.81,390.08 410,389.3 411.07,388.61 412.04,387.93 412.94,387.3 413.74,386.77 414.47,386.39 415.1,386.2 415.55,386.32 415.8,386.74 415.97,387.31 416.16,387.87 416.5,388.25 417.1,388.3 417.99,387.93 419.08,387.26 420.32,386.42 421.64,385.54 422.99,384.75 424.3,384.2 425.57,383.9 426.85,383.75 428.16,383.69 429.5,383.69 430.91,383.67 432.4,383.6 434.04,383.51 435.83,383.46 437.68,383.39 439.5,383.29 441.2,383.1 442.7,382.8 443.98,382.36 445.12,381.8 446.14,381.16 447.07,380.47 447.95,379.77 448.8,379.1 449.6,378.61 450.3,378.3 450.96,377.98 451.59,377.46 452.22,376.53 452.9,375 453.52,372.82 454.04,370.13 454.56,367.03 455.21,363.64 456.08,360.06 457.3,356.4 458.94,352.45 460.92,348.09 463.13,343.54 465.46,339.02 467.79,334.77 470,331 472.12,327.66 474.23,324.55 476.34,321.71 478.46,319.15 480.58,316.9 482.7,315 484.87,313.49 487.08,312.37 489.3,311.56 491.47,310.99 493.56,310.59 495.5,310.3 497.33,310.23 499.09,310.45 500.75,310.85 502.3,311.29 503.73,311.65 505,311.8 506.04,311.72 506.83,311.5 507.5,311.21 508.14,310.87 508.88,310.56 509.8,310.3 510.77,310.04 511.67,309.72 512.66,309.41 513.89,309.19 515.51,309.13 517.7,309.3 520.66,309.73 524.33,310.38 528.39,311.19 532.55,312.1 536.52,313.05 540,314 542.99,314.94 545.71,315.91 548.25,316.94 550.65,318.02 552.98,319.17 555.3,320.4 557.58,321.69 559.77,323.04 561.89,324.46 563.95,325.96 565.98,327.57 568,329.3 570.02,331.2 572.02,333.25 573.99,335.41 575.9,337.63 577.75,339.84 579.5,342 581.13,344.1 582.66,346.18 584.11,348.26 585.53,350.36 586.95,352.5 588.4,354.7 589.88,356.94 591.37,359.21 592.85,361.51 594.33,363.87 595.82,366.29 597.3,368.8 598.78,371.46 600.27,374.26 601.75,377.14 603.23,379.99 604.72,382.74 606.2,385.3 607.68,387.68 609.17,389.95 610.65,392.12 612.13,394.18 613.62,396.14 615.1,398 616.57,399.76 618.02,401.42 619.47,402.98 620.94,404.43 622.44,405.77 624,407 625.62,408.12 627.27,409.13 628.97,410.02 630.69,410.81 632.44,411.47 634.2,412 635.99,412.35 637.81,412.53 639.65,412.57 641.5,412.56 643.36,412.55 645.2,412.6" fill="none" stroke="#ff0000" stroke-width="1.6"/>
<path d="M367.5,397.8 368.41,395.08 369.3,392.26 370.2,389.45 371.11,386.73 372.04,384.18 373,381.9 374,379.95 375.04,378.26 376.09,376.76 377.16,375.34 378.23,373.92 379.3,372.4 380.38,370.82 381.49,369.26 382.59,367.7 383.68,366.11 384.72,364.49 385.7,362.8 386.59,361 387.42,359.1 388.21,357.15 388.97,355.23 389.72,353.39 390.5,351.7 391.29,350.19 392.07,348.8 392.85,347.51 393.63,346.25 394.41,345 395.2,343.7 395.99,342.37 396.79,341.03 397.59,339.69 398.4,338.36 399.2,337.03 400,335.7 400.82,334.36 401.66,333 402.5,331.65 403.32,330.32 404.09,329.03 404.8,327.8 405.41,326.58 405.93,325.34 406.41,324.14 406.88,323.05 407.4,322.11 408,321.4 408.7,320.99 409.45,320.84 410.25,320.86 411.07,320.93 411.89,320.95 412.7,320.8 413.49,320.51 414.29,320.16 415.09,319.76 415.9,319.3 416.7,318.78 417.5,318.2 418.28,317.5 419.04,316.67 419.81,315.77 420.59,314.89 421.41,314.07 422.3,313.4 423.22,312.88 424.17,312.46 425.15,312.12 426.2,311.81 427.34,311.52 428.6,311.2 430.01,310.8 431.56,310.32 433.2,309.86 434.89,309.48 436.57,309.27 438.2,309.3 439.81,309.63 441.43,310.22 443.05,310.97 444.65,311.8 446.2,312.64 447.7,313.4 449.12,314.21 450.48,315.16 451.8,316.12 453.1,316.94 454.39,317.48 455.7,317.6 456.98,317.2 458.22,316.37 459.45,315.26 460.73,314.02 462.09,312.82 463.6,311.8 465.2,310.95 466.86,310.13 468.6,309.35 470.48,308.59 472.53,307.84 474.8,307.1 477.41,306.27 480.34,305.35 483.46,304.44 486.59,303.66 489.59,303.11 492.3,302.9 494.79,303.18 497.18,303.89 499.44,304.84 501.53,305.82 503.4,306.64 505,307.1 506.22,307.21 507.07,307.11 507.7,306.86 508.26,306.49 508.91,306.02 509.8,305.5 510.81,304.82 511.79,303.92 512.85,302.94 514.11,301.99 515.69,301.2 517.7,300.7 520.1,300.5 522.8,300.5 525.81,300.66 529.15,300.94 532.84,301.3 536.9,301.7 541.51,302.12 546.68,302.61 552.21,303.17 557.86,303.83 563.43,304.6 568.7,305.5 573.79,306.62 578.91,307.94 583.94,309.39 588.78,310.84 593.3,312.22 597.4,313.4 600.96,314.46 604.06,315.5 606.84,316.45 609.47,317.26 612.11,317.86 614.9,318.2 617.88,318.23 620.94,317.98 624,317.53 626.99,316.95 629.85,316.32 632.5,315.7 634.9,315.07 637.1,314.35 639.16,313.58 641.15,312.77 643.14,311.97 645.2,311.2" fill="none" stroke="#000000" stroke-width="1.6"/>
</g>
<line x1="155.1" y1="356.6" x2="174.5" y2="356.6" stroke="#000" stroke-width="1.6"/>
<text x="179.3" y="362.7" font-size="14" textLength="29.8" lengthAdjust="spacingAndGlyphs" stroke="#000">Total</text>
<line x1="155.1" y1="375" x2="174.5" y2="375" stroke="#00ff00" stroke-width="1.6"/>
<text x="179.3" y="381.1" font-size="14" textLength="29.6" lengthAdjust="spacingAndGlyphs" stroke="#000">m=-1</text>
<line x1="155.1" y1="393.4" x2="174.5" y2="393.4" stroke="#ff0000" stroke-width="1.6"/>
<text x="179.3" y="399.5" font-size="14" textLength="32.7" lengthAdjust="spacingAndGlyphs" stroke="#000">m=+1</text>
<line x1="223.2" y1="356.6" x2="242.6" y2="356.6" stroke="#ff00ff" stroke-width="1.6"/>
<text x="247.2" y="362.7" font-size="14" textLength="30.7" lengthAdjust="spacingAndGlyphs" stroke="#000">m=-2</text>
<line x1="223.2" y1="375" x2="242.6" y2="375" stroke="#0000ff" stroke-width="1.6"/>
<text x="247.2" y="381.1" font-size="14" textLength="26.6" lengthAdjust="spacingAndGlyphs" stroke="#000">m=0</text>
<line x1="223.2" y1="393.4" x2="242.6" y2="393.4" stroke="#00ffff" stroke-width="1.6"/>
<text x="247.2" y="399.5" font-size="14" textLength="33.7" lengthAdjust="spacingAndGlyphs" stroke="#000">m=+2</text>
<line x1="463.1" y1="362.7" x2="482.5" y2="362.7" stroke="#000" stroke-width="1.6"/>
<text x="487.3" y="368.8" font-size="14" textLength="29.8" lengthAdjust="spacingAndGlyphs" stroke="#000">Total</text>
<line x1="463.1" y1="380.65" x2="482.5" y2="380.65" stroke="#00ff00" stroke-width="1.6"/>
<text x="487.3" y="386.75" font-size="14" textLength="29.6" lengthAdjust="spacingAndGlyphs" stroke="#000">m=-1</text>
<line x1="463.1" y1="398.6" x2="482.5" y2="398.6" stroke="#ff0000" stroke-width="1.6"/>
<text x="487.3" y="404.7" font-size="14" textLength="32.7" lengthAdjust="spacingAndGlyphs" stroke="#000">m=+1</text>
<line x1="530.5" y1="362.7" x2="549.9" y2="362.7" stroke="#ff00ff" stroke-width="1.6"/>
<text x="554.5" y="368.8" font-size="14" textLength="30.7" lengthAdjust="spacingAndGlyphs" stroke="#000">m=-2</text>
<line x1="530.5" y1="380.65" x2="549.9" y2="380.65" stroke="#0000ff" stroke-width="1.6"/>
<text x="554.5" y="386.75" font-size="14" textLength="26.6" lengthAdjust="spacingAndGlyphs" stroke="#000">m=0</text>
<line x1="530.5" y1="398.6" x2="549.9" y2="398.6" stroke="#00ffff" stroke-width="1.6"/>
<text x="554.5" y="404.7" font-size="14" textLength="33.7" lengthAdjust="spacingAndGlyphs" stroke="#000">m=+2</text>
</svg></body></html>
